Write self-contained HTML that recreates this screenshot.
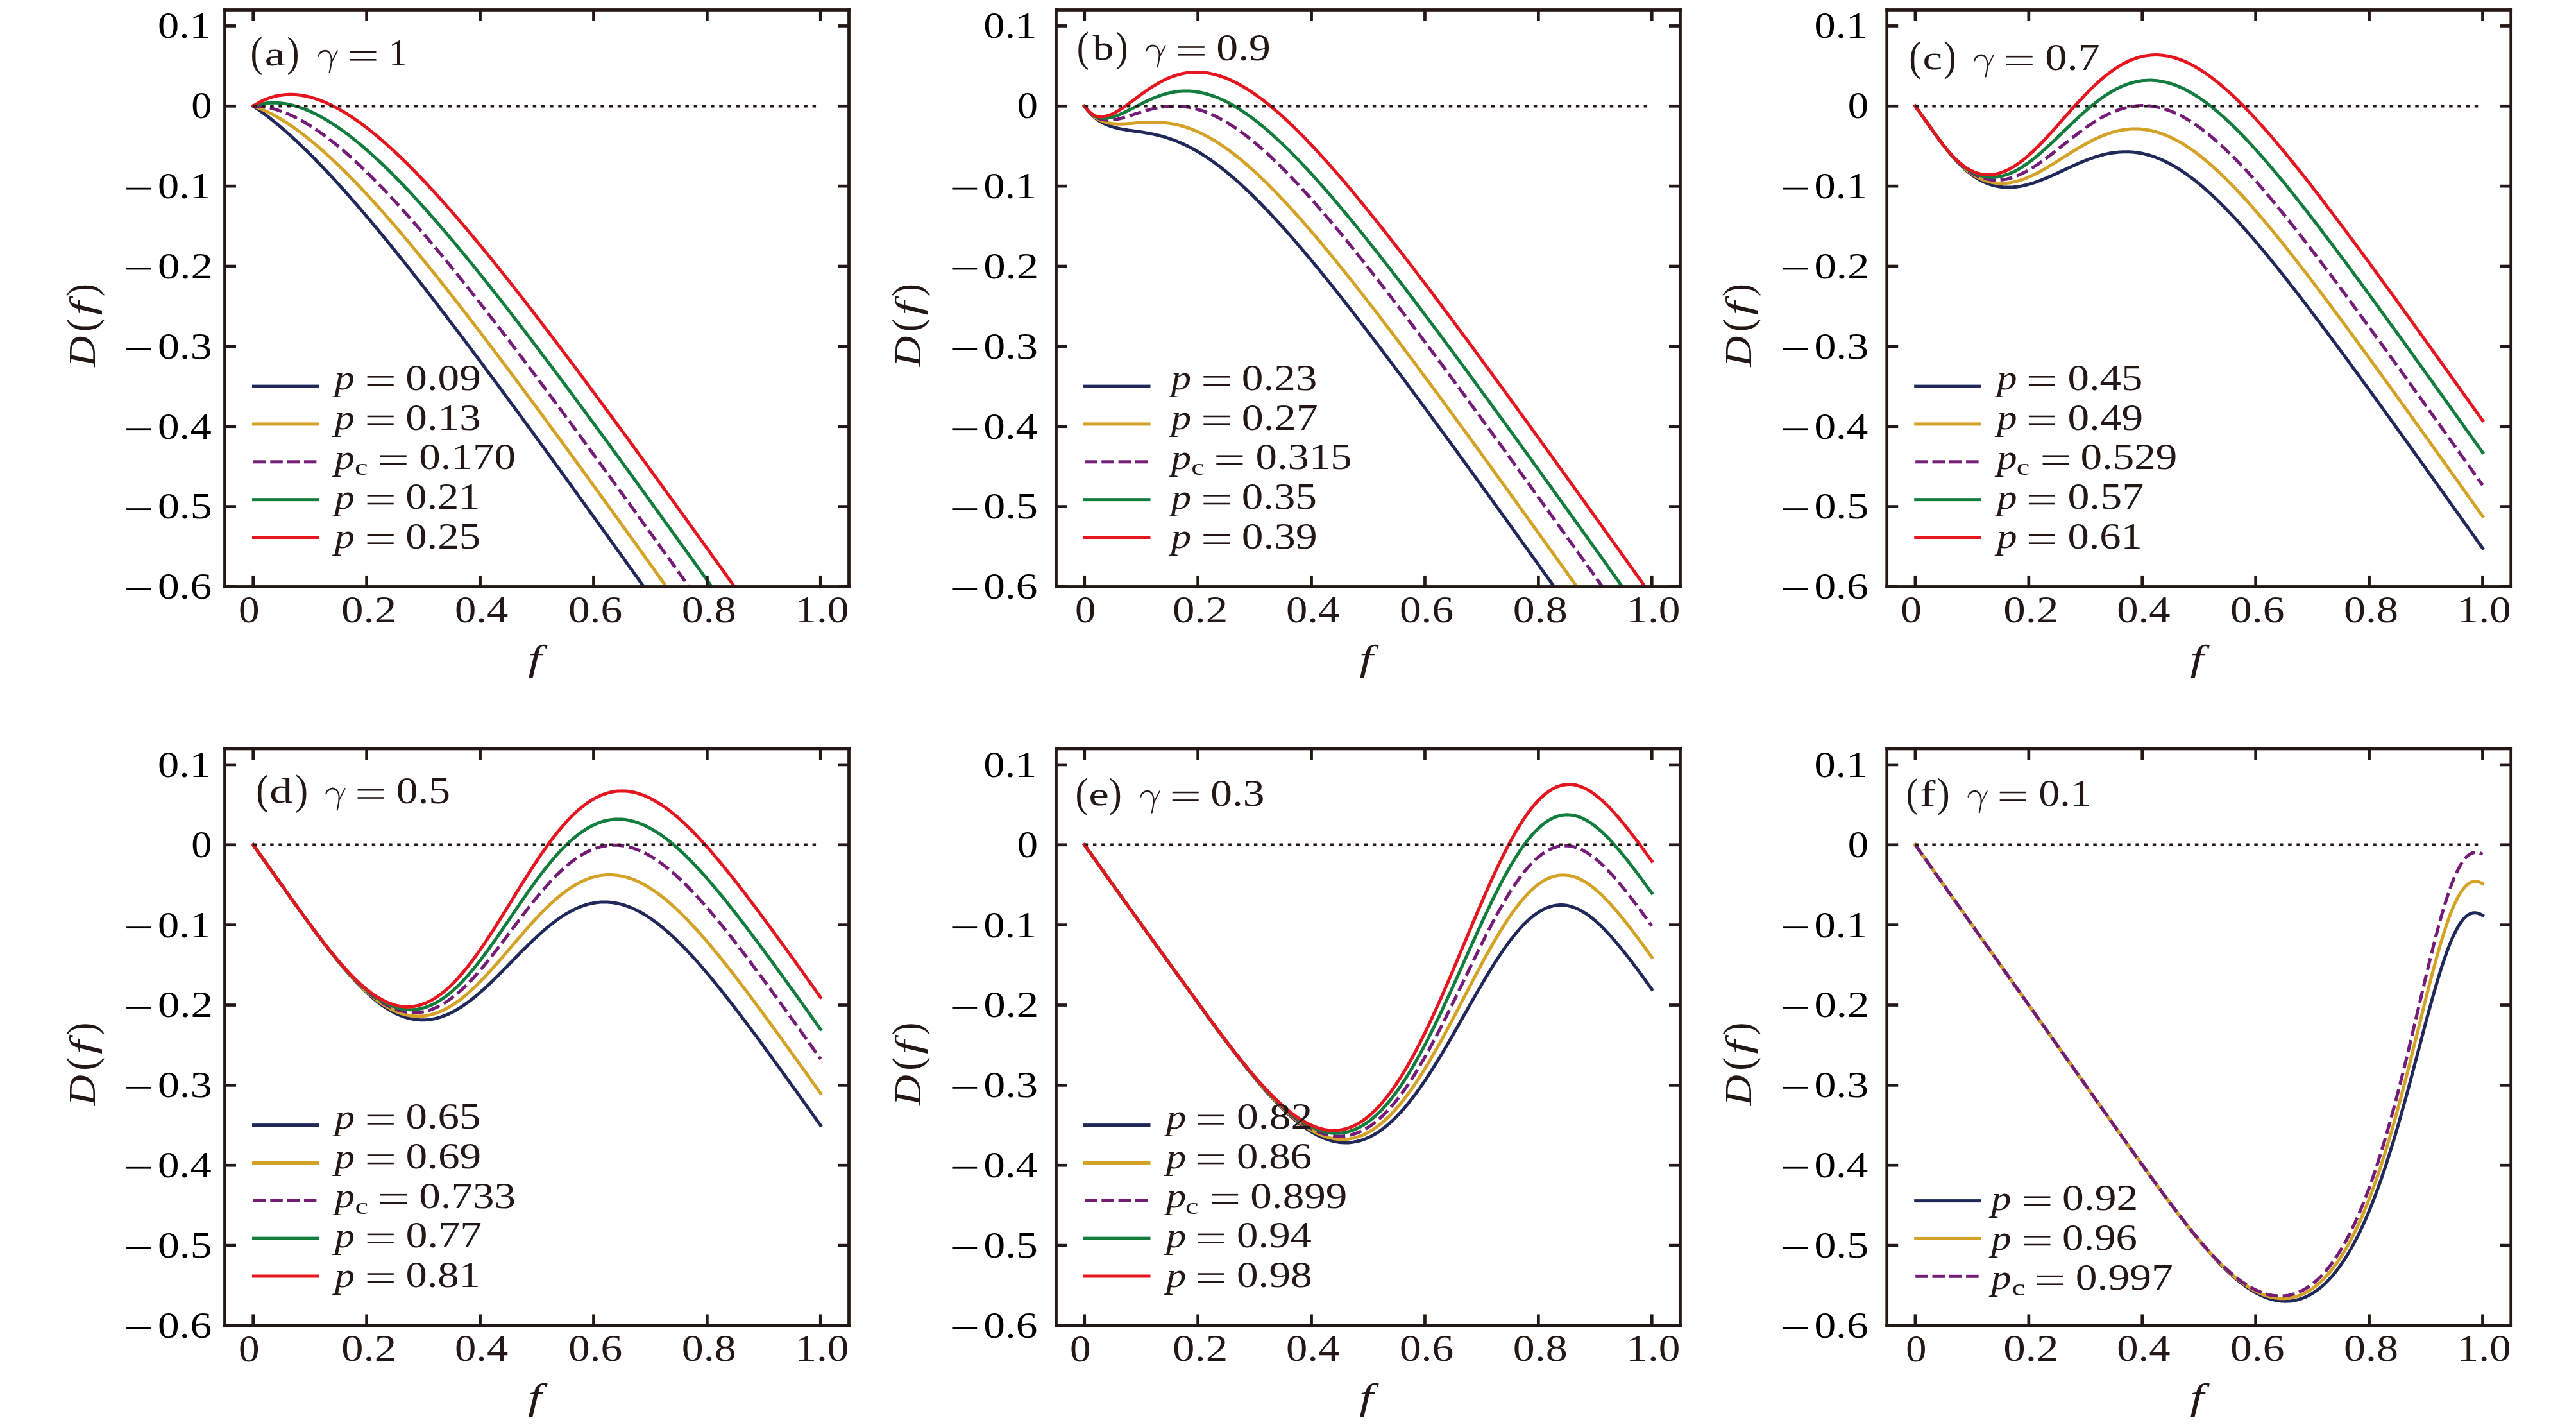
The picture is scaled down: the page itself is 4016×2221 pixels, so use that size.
<!DOCTYPE html>
<html><head><meta charset="utf-8"><title>D(f) panels</title>
<style>html,body{margin:0;padding:0;background:#fff;}svg{display:block;}
text{font-family:"Liberation Serif",serif;font-kerning:none;}
svg{-webkit-font-smoothing:antialiased;}</style></head>
<body><svg xmlns="http://www.w3.org/2000/svg" width="4016" height="2221" viewBox="0 0 4016 2221">
<rect width="4016" height="2221" fill="#fff"/>
<defs><clipPath id="clipa"><rect x="350.50" y="15.45" width="973.00" height="899.00"/></clipPath><clipPath id="clipb"><rect x="1646.50" y="15.45" width="973.00" height="899.00"/></clipPath><clipPath id="clipc"><rect x="2941.70" y="15.45" width="973.00" height="899.00"/></clipPath><clipPath id="clipd"><rect x="350.50" y="1166.95" width="973.00" height="899.00"/></clipPath><clipPath id="clipe"><rect x="1646.50" y="1166.95" width="973.00" height="899.00"/></clipPath><clipPath id="clipf"><rect x="2941.70" y="1166.95" width="973.00" height="899.00"/></clipPath><filter id="gs" x="0" y="0" width="1" height="1"><feOffset dx="0" dy="0"/></filter></defs>
<g clip-path="url(#clipa)"><polyline points="394.7,165.3 395.6,165.9 397.5,167.1 399.3,168.4 401.2,169.7 403.1,171.0 404.9,172.3 406.8,173.7 408.7,175.0 410.6,176.4 412.4,177.8 414.6,179.4 416.8,181.1 419.1,182.8 421.3,184.6 423.5,186.3 425.7,188.1 427.9,189.9 430.1,191.7 432.3,193.5 434.5,195.3 436.7,197.2 439.0,199.1 441.2,201.0 443.4,202.9 445.6,204.8 447.8,206.8 450.0,208.8 452.2,210.7 454.4,212.7 456.6,214.8 458.9,216.8 461.1,218.8 463.3,220.9 465.5,223.0 467.7,225.1 469.9,227.2 472.1,229.3 474.3,231.5 476.5,233.6 478.8,235.8 481.0,238.0 483.2,240.2 485.4,242.4 487.6,244.6 489.8,246.8 492.0,249.1 494.2,251.4 496.4,253.6 498.7,255.9 500.9,258.2 503.1,260.5 505.3,262.9 507.5,265.2 509.7,267.5 511.9,269.9 514.1,272.3 516.4,274.6 518.6,277.0 520.8,279.4 523.0,281.8 525.2,284.3 527.4,286.7 529.6,289.1 531.8,291.6 534.0,294.1 536.3,296.5 538.5,299.0 540.7,301.5 542.9,304.0 545.1,306.5 547.3,309.0 549.5,311.6 551.7,314.1 553.9,316.6 556.2,319.2 558.4,321.8 560.6,324.3 562.8,326.9 565.0,329.5 567.2,332.1 569.4,334.7 571.6,337.3 573.8,339.9 576.1,342.5 578.3,345.2 580.5,347.8 582.7,350.4 584.9,353.1 587.1,355.7 589.3,358.4 591.5,361.1 593.8,363.8 596.0,366.4 598.2,369.1 600.4,371.8 602.6,374.5 604.8,377.2 607.0,380.0 609.2,382.7 611.4,385.4 613.7,388.1 615.9,390.9 618.1,393.6 620.3,396.4 622.5,399.1 624.7,401.9 626.9,404.7 629.1,407.4 631.3,410.2 633.6,413.0 635.8,415.8 638.0,418.6 640.2,421.4 642.4,424.2 644.6,427.0 646.8,429.8 649.0,432.6 651.2,435.4 653.5,438.2 655.7,441.1 657.9,443.9 660.1,446.7 662.3,449.6 664.5,452.4 666.7,455.3 668.9,458.1 671.1,461.0 673.4,463.8 675.6,466.7 677.8,469.6 680.0,472.4 682.2,475.3 684.4,478.2 686.6,481.1 688.8,484.0 691.0,486.9 693.3,489.7 695.5,492.6 697.7,495.5 699.9,498.4 702.1,501.4 704.3,504.3 706.5,507.2 708.7,510.1 711.0,513.0 713.2,515.9 715.4,518.9 717.6,521.8 719.8,524.7 722.0,527.6 724.2,530.6 726.4,533.5 728.6,536.5 730.9,539.4 733.1,542.3 735.3,545.3 737.5,548.2 739.7,551.2 741.9,554.2 744.1,557.1 746.3,560.1 748.5,563.0 750.8,566.0 753.0,569.0 755.2,571.9 757.4,574.9 759.6,577.9 761.8,580.9 764.0,583.8 766.2,586.8 768.4,589.8 770.7,592.8 772.9,595.8 775.1,598.8 777.3,601.8 779.5,604.8 781.7,607.7 783.9,610.7 786.1,613.7 788.3,616.7 790.6,619.7 792.8,622.7 795.0,625.8 797.2,628.8 799.4,631.8 801.6,634.8 803.8,637.8 806.0,640.8 808.3,643.8 810.5,646.8 812.7,649.9 814.9,652.9 817.1,655.9 819.3,658.9 821.5,661.9 823.7,665.0 825.9,668.0 828.2,671.0 830.4,674.1 832.6,677.1 834.8,680.1 837.0,683.1 839.2,686.2 841.4,689.2 843.6,692.3 845.8,695.3 848.1,698.3 850.3,701.4 852.5,704.4 854.7,707.5 856.9,710.5 859.1,713.6 861.3,716.6 863.5,719.6 865.7,722.7 868.0,725.7 870.2,728.8 872.4,731.8 874.6,734.9 876.8,738.0 879.0,741.0 881.2,744.1 883.4,747.1 885.6,750.2 887.9,753.2 890.1,756.3 892.3,759.4 894.5,762.4 896.7,765.5 898.9,768.5 901.1,771.6 903.3,774.7 905.6,777.7 907.8,780.8 910.0,783.9 912.2,786.9 914.4,790.0 916.6,793.1 918.8,796.2 921.0,799.2 923.2,802.3 925.5,805.4 927.7,808.4 929.9,811.5 932.1,814.6 934.3,817.7 936.5,820.7 938.7,823.8 940.9,826.9 943.1,830.0 945.4,833.1 947.6,836.1 949.8,839.2 952.0,842.3 954.2,845.4 956.4,848.5 958.6,851.5 960.8,854.6 963.0,857.7 965.3,860.8 967.5,863.9 969.7,867.0 971.9,870.0 974.1,873.1 976.3,876.2 978.5,879.3 980.7,882.4 982.9,885.5 985.2,888.6 987.4,891.7 989.6,894.8 991.8,897.8 994.0,900.9 996.2,904.0 998.4,907.1 1000.6,910.2 1002.9,913.3 1005.1,916.4 1007.3,919.5 1009.5,922.6 1011.7,925.7 1013.9,928.8 1016.1,931.9 1018.3,935.0 1020.5,938.1 1022.8,941.1 1025.0,944.2 1027.2,947.3 1029.4,950.4 1031.6,953.5" fill="none" stroke="#20295a" stroke-width="5" stroke-linejoin="round" stroke-linecap="square"/><polyline points="394.7,165.3 395.6,165.6 397.5,166.2 399.3,166.9 401.2,167.6 403.1,168.3 404.9,169.0 406.8,169.8 408.7,170.6 410.6,171.4 412.4,172.2 414.6,173.3 416.8,174.3 419.1,175.4 421.3,176.5 423.5,177.6 425.7,178.8 427.9,180.0 430.1,181.2 432.3,182.4 434.5,183.7 436.7,185.0 439.0,186.4 441.2,187.7 443.4,189.1 445.6,190.5 447.8,191.9 450.0,193.4 452.2,194.9 454.4,196.4 456.6,197.9 458.9,199.5 461.1,201.0 463.3,202.6 465.5,204.2 467.7,205.9 469.9,207.5 472.1,209.2 474.3,210.9 476.5,212.7 478.8,214.4 481.0,216.2 483.2,218.0 485.4,219.8 487.6,221.6 489.8,223.4 492.0,225.3 494.2,227.2 496.4,229.1 498.7,231.0 500.9,232.9 503.1,234.9 505.3,236.9 507.5,238.8 509.7,240.8 511.9,242.9 514.1,244.9 516.4,246.9 518.6,249.0 520.8,251.1 523.0,253.2 525.2,255.3 527.4,257.4 529.6,259.6 531.8,261.7 534.0,263.9 536.3,266.1 538.5,268.3 540.7,270.5 542.9,272.7 545.1,274.9 547.3,277.2 549.5,279.5 551.7,281.7 553.9,284.0 556.2,286.3 558.4,288.6 560.6,291.0 562.8,293.3 565.0,295.6 567.2,298.0 569.4,300.4 571.6,302.7 573.8,305.1 576.1,307.5 578.3,309.9 580.5,312.4 582.7,314.8 584.9,317.2 587.1,319.7 589.3,322.2 591.5,324.6 593.8,327.1 596.0,329.6 598.2,332.1 600.4,334.6 602.6,337.1 604.8,339.7 607.0,342.2 609.2,344.7 611.4,347.3 613.7,349.8 615.9,352.4 618.1,355.0 620.3,357.6 622.5,360.2 624.7,362.8 626.9,365.4 629.1,368.0 631.3,370.6 633.6,373.2 635.8,375.9 638.0,378.5 640.2,381.2 642.4,383.8 644.6,386.5 646.8,389.2 649.0,391.9 651.2,394.5 653.5,397.2 655.7,399.9 657.9,402.6 660.1,405.3 662.3,408.1 664.5,410.8 666.7,413.5 668.9,416.2 671.1,419.0 673.4,421.7 675.6,424.5 677.8,427.2 680.0,430.0 682.2,432.8 684.4,435.5 686.6,438.3 688.8,441.1 691.0,443.9 693.3,446.7 695.5,449.5 697.7,452.3 699.9,455.1 702.1,457.9 704.3,460.7 706.5,463.5 708.7,466.3 711.0,469.2 713.2,472.0 715.4,474.8 717.6,477.7 719.8,480.5 722.0,483.4 724.2,486.2 726.4,489.1 728.6,491.9 730.9,494.8 733.1,497.7 735.3,500.5 737.5,503.4 739.7,506.3 741.9,509.2 744.1,512.1 746.3,515.0 748.5,517.8 750.8,520.7 753.0,523.6 755.2,526.5 757.4,529.4 759.6,532.4 761.8,535.3 764.0,538.2 766.2,541.1 768.4,544.0 770.7,546.9 772.9,549.9 775.1,552.8 777.3,555.7 779.5,558.7 781.7,561.6 783.9,564.6 786.1,567.5 788.3,570.4 790.6,573.4 792.8,576.3 795.0,579.3 797.2,582.3 799.4,585.2 801.6,588.2 803.8,591.1 806.0,594.1 808.3,597.1 810.5,600.0 812.7,603.0 814.9,606.0 817.1,609.0 819.3,611.9 821.5,614.9 823.7,617.9 825.9,620.9 828.2,623.9 830.4,626.9 832.6,629.9 834.8,632.8 837.0,635.8 839.2,638.8 841.4,641.8 843.6,644.8 845.8,647.8 848.1,650.8 850.3,653.8 852.5,656.9 854.7,659.9 856.9,662.9 859.1,665.9 861.3,668.9 863.5,671.9 865.7,674.9 868.0,677.9 870.2,681.0 872.4,684.0 874.6,687.0 876.8,690.0 879.0,693.1 881.2,696.1 883.4,699.1 885.6,702.1 887.9,705.2 890.1,708.2 892.3,711.2 894.5,714.3 896.7,717.3 898.9,720.4 901.1,723.4 903.3,726.4 905.6,729.5 907.8,732.5 910.0,735.6 912.2,738.6 914.4,741.6 916.6,744.7 918.8,747.7 921.0,750.8 923.2,753.8 925.5,756.9 927.7,759.9 929.9,763.0 932.1,766.0 934.3,769.1 936.5,772.2 938.7,775.2 940.9,778.3 943.1,781.3 945.4,784.4 947.6,787.5 949.8,790.5 952.0,793.6 954.2,796.6 956.4,799.7 958.6,802.8 960.8,805.8 963.0,808.9 965.3,812.0 967.5,815.0 969.7,818.1 971.9,821.2 974.1,824.2 976.3,827.3 978.5,830.4 980.7,833.5 982.9,836.5 985.2,839.6 987.4,842.7 989.6,845.8 991.8,848.8 994.0,851.9 996.2,855.0 998.4,858.1 1000.6,861.1 1002.9,864.2 1005.1,867.3 1007.3,870.4 1009.5,873.5 1011.7,876.6 1013.9,879.6 1016.1,882.7 1018.3,885.8 1020.5,888.9 1022.8,892.0 1025.0,895.1 1027.2,898.1 1029.4,901.2 1031.6,904.3 1033.8,907.4 1036.0,910.5 1038.2,913.6 1040.4,916.7 1042.7,919.8 1044.9,922.8 1047.1,925.9 1049.3,929.0 1051.5,932.1 1053.7,935.2 1055.9,938.3 1058.1,941.4 1060.3,944.5 1062.6,947.6 1064.8,950.7 1067.0,953.8" fill="none" stroke="#d3a226" stroke-width="5" stroke-linejoin="round" stroke-linecap="square"/><polyline points="394.7,165.3 395.6,165.3 397.5,165.3 399.3,165.4 401.2,165.5 403.1,165.6 404.9,165.8 406.8,166.0 408.7,166.2 410.6,166.4 412.4,166.7 414.6,167.1 416.8,167.5 419.1,167.9 421.3,168.4 423.5,168.9 425.7,169.5 427.9,170.1 430.1,170.7 432.3,171.4 434.5,172.1 436.7,172.8 439.0,173.6 441.2,174.4 443.4,175.3 445.6,176.2 447.8,177.1 450.0,178.0 452.2,179.0 454.4,180.0 456.6,181.0 458.9,182.1 461.1,183.2 463.3,184.3 465.5,185.5 467.7,186.7 469.9,187.9 472.1,189.1 474.3,190.4 476.5,191.7 478.8,193.0 481.0,194.4 483.2,195.8 485.4,197.2 487.6,198.6 489.8,200.0 492.0,201.5 494.2,203.0 496.4,204.5 498.7,206.1 500.9,207.6 503.1,209.2 505.3,210.8 507.5,212.5 509.7,214.1 511.9,215.8 514.1,217.5 516.4,219.2 518.6,221.0 520.8,222.7 523.0,224.5 525.2,226.3 527.4,228.1 529.6,230.0 531.8,231.8 534.0,233.7 536.3,235.6 538.5,237.5 540.7,239.5 542.9,241.4 545.1,243.4 547.3,245.4 549.5,247.4 551.7,249.4 553.9,251.4 556.2,253.4 558.4,255.5 560.6,257.6 562.8,259.7 565.0,261.8 567.2,263.9 569.4,266.0 571.6,268.2 573.8,270.4 576.1,272.5 578.3,274.7 580.5,276.9 582.7,279.2 584.9,281.4 587.1,283.6 589.3,285.9 591.5,288.2 593.8,290.5 596.0,292.8 598.2,295.1 600.4,297.4 602.6,299.7 604.8,302.1 607.0,304.4 609.2,306.8 611.4,309.2 613.7,311.5 615.9,313.9 618.1,316.4 620.3,318.8 622.5,321.2 624.7,323.6 626.9,326.1 629.1,328.6 631.3,331.0 633.6,333.5 635.8,336.0 638.0,338.5 640.2,341.0 642.4,343.5 644.6,346.0 646.8,348.6 649.0,351.1 651.2,353.7 653.5,356.2 655.7,358.8 657.9,361.4 660.1,364.0 662.3,366.5 664.5,369.1 666.7,371.7 668.9,374.4 671.1,377.0 673.4,379.6 675.6,382.2 677.8,384.9 680.0,387.5 682.2,390.2 684.4,392.9 686.6,395.5 688.8,398.2 691.0,400.9 693.3,403.6 695.5,406.3 697.7,409.0 699.9,411.7 702.1,414.4 704.3,417.1 706.5,419.8 708.7,422.6 711.0,425.3 713.2,428.1 715.4,430.8 717.6,433.6 719.8,436.3 722.0,439.1 724.2,441.9 726.4,444.6 728.6,447.4 730.9,450.2 733.1,453.0 735.3,455.8 737.5,458.6 739.7,461.4 741.9,464.2 744.1,467.0 746.3,469.8 748.5,472.6 750.8,475.5 753.0,478.3 755.2,481.1 757.4,484.0 759.6,486.8 761.8,489.7 764.0,492.5 766.2,495.4 768.4,498.2 770.7,501.1 772.9,504.0 775.1,506.8 777.3,509.7 779.5,512.6 781.7,515.5 783.9,518.4 786.1,521.2 788.3,524.1 790.6,527.0 792.8,529.9 795.0,532.8 797.2,535.7 799.4,538.7 801.6,541.6 803.8,544.5 806.0,547.4 808.3,550.3 810.5,553.2 812.7,556.2 814.9,559.1 817.1,562.0 819.3,565.0 821.5,567.9 823.7,570.8 825.9,573.8 828.2,576.7 830.4,579.7 832.6,582.6 834.8,585.6 837.0,588.5 839.2,591.5 841.4,594.5 843.6,597.4 845.8,600.4 848.1,603.3 850.3,606.3 852.5,609.3 854.7,612.3 856.9,615.2 859.1,618.2 861.3,621.2 863.5,624.2 865.7,627.2 868.0,630.1 870.2,633.1 872.4,636.1 874.6,639.1 876.8,642.1 879.0,645.1 881.2,648.1 883.4,651.1 885.6,654.1 887.9,657.1 890.1,660.1 892.3,663.1 894.5,666.1 896.7,669.1 898.9,672.2 901.1,675.2 903.3,678.2 905.6,681.2 907.8,684.2 910.0,687.2 912.2,690.3 914.4,693.3 916.6,696.3 918.8,699.3 921.0,702.4 923.2,705.4 925.5,708.4 927.7,711.4 929.9,714.5 932.1,717.5 934.3,720.5 936.5,723.6 938.7,726.6 940.9,729.7 943.1,732.7 945.4,735.7 947.6,738.8 949.8,741.8 952.0,744.9 954.2,747.9 956.4,751.0 958.6,754.0 960.8,757.0 963.0,760.1 965.3,763.2 967.5,766.2 969.7,769.3 971.9,772.3 974.1,775.4 976.3,778.4 978.5,781.5 980.7,784.5 982.9,787.6 985.2,790.7 987.4,793.7 989.6,796.8 991.8,799.8 994.0,802.9 996.2,806.0 998.4,809.0 1000.6,812.1 1002.9,815.2 1005.1,818.2 1007.3,821.3 1009.5,824.4 1011.7,827.4 1013.9,830.5 1016.1,833.6 1018.3,836.6 1020.5,839.7 1022.8,842.8 1025.0,845.9 1027.2,848.9 1029.4,852.0 1031.6,855.1 1033.8,858.2 1036.0,861.2 1038.2,864.3 1040.4,867.4 1042.7,870.5 1044.9,873.6 1047.1,876.6 1049.3,879.7 1051.5,882.8 1053.7,885.9 1055.9,889.0 1058.1,892.1 1060.3,895.1 1062.6,898.2 1064.8,901.3 1067.0,904.4 1069.2,907.5 1071.4,910.6 1073.6,913.7 1075.8,916.7 1078.0,919.8 1080.2,922.9 1082.5,926.0 1084.7,929.1 1086.9,932.2 1089.1,935.3 1091.3,938.4 1093.5,941.5 1095.7,944.5 1097.9,947.6 1100.2,950.7 1102.4,953.8" fill="none" stroke="#741c78" stroke-width="5" stroke-linejoin="round" stroke-dasharray="19 7.3"/><polyline points="394.7,165.3 395.6,165.0 397.5,164.4 399.3,163.9 401.2,163.4 403.1,162.9 404.9,162.5 406.8,162.1 408.7,161.7 410.6,161.4 412.4,161.2 414.6,160.9 416.8,160.6 419.1,160.5 421.3,160.3 423.5,160.2 425.7,160.2 427.9,160.2 430.1,160.3 432.3,160.3 434.5,160.5 436.7,160.7 439.0,160.9 441.2,161.2 443.4,161.5 445.6,161.8 447.8,162.2 450.0,162.7 452.2,163.1 454.4,163.6 456.6,164.2 458.9,164.8 461.1,165.4 463.3,166.1 465.5,166.7 467.7,167.5 469.9,168.2 472.1,169.0 474.3,169.9 476.5,170.7 478.8,171.6 481.0,172.6 483.2,173.5 485.4,174.5 487.6,175.6 489.8,176.6 492.0,177.7 494.2,178.8 496.4,180.0 498.7,181.1 500.9,182.4 503.1,183.6 505.3,184.8 507.5,186.1 509.7,187.4 511.9,188.8 514.1,190.2 516.4,191.5 518.6,193.0 520.8,194.4 523.0,195.9 525.2,197.4 527.4,198.9 529.6,200.4 531.8,202.0 534.0,203.6 536.3,205.2 538.5,206.8 540.7,208.4 542.9,210.1 545.1,211.8 547.3,213.5 549.5,215.2 551.7,217.0 553.9,218.8 556.2,220.6 558.4,222.4 560.6,224.2 562.8,226.1 565.0,227.9 567.2,229.8 569.4,231.7 571.6,233.7 573.8,235.6 576.1,237.6 578.3,239.5 580.5,241.5 582.7,243.5 584.9,245.6 587.1,247.6 589.3,249.7 591.5,251.7 593.8,253.8 596.0,255.9 598.2,258.0 600.4,260.2 602.6,262.3 604.8,264.5 607.0,266.6 609.2,268.8 611.4,271.0 613.7,273.3 615.9,275.5 618.1,277.7 620.3,280.0 622.5,282.2 624.7,284.5 626.9,286.8 629.1,289.1 631.3,291.4 633.6,293.8 635.8,296.1 638.0,298.5 640.2,300.8 642.4,303.2 644.6,305.6 646.8,308.0 649.0,310.4 651.2,312.8 653.5,315.2 655.7,317.7 657.9,320.1 660.1,322.6 662.3,325.0 664.5,327.5 666.7,330.0 668.9,332.5 671.1,335.0 673.4,337.5 675.6,340.0 677.8,342.5 680.0,345.1 682.2,347.6 684.4,350.2 686.6,352.8 688.8,355.3 691.0,357.9 693.3,360.5 695.5,363.1 697.7,365.7 699.9,368.3 702.1,370.9 704.3,373.5 706.5,376.2 708.7,378.8 711.0,381.5 713.2,384.1 715.4,386.8 717.6,389.5 719.8,392.1 722.0,394.8 724.2,397.5 726.4,400.2 728.6,402.9 730.9,405.6 733.1,408.3 735.3,411.0 737.5,413.7 739.7,416.5 741.9,419.2 744.1,422.0 746.3,424.7 748.5,427.5 750.8,430.2 753.0,433.0 755.2,435.7 757.4,438.5 759.6,441.3 761.8,444.1 764.0,446.9 766.2,449.7 768.4,452.5 770.7,455.3 772.9,458.1 775.1,460.9 777.3,463.7 779.5,466.5 781.7,469.3 783.9,472.2 786.1,475.0 788.3,477.8 790.6,480.7 792.8,483.5 795.0,486.4 797.2,489.2 799.4,492.1 801.6,495.0 803.8,497.8 806.0,500.7 808.3,503.6 810.5,506.4 812.7,509.3 814.9,512.2 817.1,515.1 819.3,518.0 821.5,520.9 823.7,523.8 825.9,526.7 828.2,529.6 830.4,532.5 832.6,535.4 834.8,538.3 837.0,541.2 839.2,544.1 841.4,547.1 843.6,550.0 845.8,552.9 848.1,555.9 850.3,558.8 852.5,561.7 854.7,564.7 856.9,567.6 859.1,570.5 861.3,573.5 863.5,576.4 865.7,579.4 868.0,582.4 870.2,585.3 872.4,588.3 874.6,591.2 876.8,594.2 879.0,597.2 881.2,600.1 883.4,603.1 885.6,606.1 887.9,609.0 890.1,612.0 892.3,615.0 894.5,618.0 896.7,621.0 898.9,624.0 901.1,626.9 903.3,629.9 905.6,632.9 907.8,635.9 910.0,638.9 912.2,641.9 914.4,644.9 916.6,647.9 918.8,650.9 921.0,653.9 923.2,656.9 925.5,659.9 927.7,662.9 929.9,666.0 932.1,669.0 934.3,672.0 936.5,675.0 938.7,678.0 940.9,681.0 943.1,684.0 945.4,687.1 947.6,690.1 949.8,693.1 952.0,696.1 954.2,699.2 956.4,702.2 958.6,705.2 960.8,708.3 963.0,711.3 965.3,714.3 967.5,717.4 969.7,720.4 971.9,723.4 974.1,726.5 976.3,729.5 978.5,732.6 980.7,735.6 982.9,738.6 985.2,741.7 987.4,744.7 989.6,747.8 991.8,750.8 994.0,753.9 996.2,756.9 998.4,760.0 1000.6,763.0 1002.9,766.1 1005.1,769.1 1007.3,772.2 1009.5,775.3 1011.7,778.3 1013.9,781.4 1016.1,784.4 1018.3,787.5 1020.5,790.6 1022.8,793.6 1025.0,796.7 1027.2,799.7 1029.4,802.8 1031.6,805.9 1033.8,808.9 1036.0,812.0 1038.2,815.1 1040.4,818.1 1042.7,821.2 1044.9,824.3 1047.1,827.4 1049.3,830.4 1051.5,833.5 1053.7,836.6 1055.9,839.6 1058.1,842.7 1060.3,845.8 1062.6,848.9 1064.8,851.9 1067.0,855.0 1069.2,858.1 1071.4,861.2 1073.6,864.3 1075.8,867.3 1078.0,870.4 1080.2,873.5 1082.5,876.6 1084.7,879.7 1086.9,882.7 1089.1,885.8 1091.3,888.9 1093.5,892.0 1095.7,895.1 1097.9,898.2 1100.2,901.2 1102.4,904.3 1104.6,907.4 1106.8,910.5 1109.0,913.6 1111.2,916.7 1113.4,919.8 1115.6,922.9 1117.8,926.0 1120.1,929.0 1122.3,932.1 1124.5,935.2 1126.7,938.3 1128.9,941.4 1131.1,944.5 1133.3,947.6 1135.5,950.7 1137.7,953.8" fill="none" stroke="#127d3d" stroke-width="5" stroke-linejoin="round" stroke-linecap="square"/><polyline points="394.7,165.3 395.6,164.7 397.5,163.5 399.3,162.4 401.2,161.3 403.1,160.2 404.9,159.2 406.8,158.2 408.7,157.3 410.6,156.4 412.4,155.6 414.6,154.7 416.8,153.8 419.1,153.0 421.3,152.2 423.5,151.5 425.7,150.9 427.9,150.3 430.1,149.8 432.3,149.3 434.5,148.9 436.7,148.5 439.0,148.2 441.2,147.9 443.4,147.7 445.6,147.5 447.8,147.4 450.0,147.3 452.2,147.3 454.4,147.3 456.6,147.3 458.9,147.4 461.1,147.6 463.3,147.8 465.5,148.0 467.7,148.3 469.9,148.6 472.1,149.0 474.3,149.3 476.5,149.8 478.8,150.3 481.0,150.8 483.2,151.3 485.4,151.9 487.6,152.6 489.8,153.2 492.0,153.9 494.2,154.7 496.4,155.4 498.7,156.2 500.9,157.1 503.1,157.9 505.3,158.8 507.5,159.8 509.7,160.7 511.9,161.7 514.1,162.8 516.4,163.8 518.6,164.9 520.8,166.1 523.0,167.2 525.2,168.4 527.4,169.6 529.6,170.8 531.8,172.1 534.0,173.4 536.3,174.7 538.5,176.0 540.7,177.4 542.9,178.8 545.1,180.2 547.3,181.7 549.5,183.1 551.7,184.6 553.9,186.2 556.2,187.7 558.4,189.3 560.6,190.8 562.8,192.5 565.0,194.1 567.2,195.7 569.4,197.4 571.6,199.1 573.8,200.8 576.1,202.6 578.3,204.3 580.5,206.1 582.7,207.9 584.9,209.7 587.1,211.5 589.3,213.4 591.5,215.3 593.8,217.2 596.0,219.1 598.2,221.0 600.4,222.9 602.6,224.9 604.8,226.9 607.0,228.9 609.2,230.9 611.4,232.9 613.7,235.0 615.9,237.0 618.1,239.1 620.3,241.2 622.5,243.3 624.7,245.4 626.9,247.5 629.1,249.7 631.3,251.8 633.6,254.0 635.8,256.2 638.0,258.4 640.2,260.6 642.4,262.9 644.6,265.1 646.8,267.4 649.0,269.6 651.2,271.9 653.5,274.2 655.7,276.5 657.9,278.8 660.1,281.2 662.3,283.5 664.5,285.9 666.7,288.2 668.9,290.6 671.1,293.0 673.4,295.4 675.6,297.8 677.8,300.2 680.0,302.6 682.2,305.1 684.4,307.5 686.6,310.0 688.8,312.4 691.0,314.9 693.3,317.4 695.5,319.9 697.7,322.4 699.9,324.9 702.1,327.4 704.3,330.0 706.5,332.5 708.7,335.1 711.0,337.6 713.2,340.2 715.4,342.8 717.6,345.3 719.8,347.9 722.0,350.5 724.2,353.1 726.4,355.7 728.6,358.4 730.9,361.0 733.1,363.6 735.3,366.3 737.5,368.9 739.7,371.6 741.9,374.2 744.1,376.9 746.3,379.6 748.5,382.3 750.8,384.9 753.0,387.6 755.2,390.3 757.4,393.0 759.6,395.8 761.8,398.5 764.0,401.2 766.2,403.9 768.4,406.7 770.7,409.4 772.9,412.2 775.1,414.9 777.3,417.7 779.5,420.4 781.7,423.2 783.9,426.0 786.1,428.8 788.3,431.5 790.6,434.3 792.8,437.1 795.0,439.9 797.2,442.7 799.4,445.5 801.6,448.3 803.8,451.2 806.0,454.0 808.3,456.8 810.5,459.6 812.7,462.5 814.9,465.3 817.1,468.2 819.3,471.0 821.5,473.9 823.7,476.7 825.9,479.6 828.2,482.4 830.4,485.3 832.6,488.2 834.8,491.0 837.0,493.9 839.2,496.8 841.4,499.7 843.6,502.6 845.8,505.5 848.1,508.4 850.3,511.3 852.5,514.2 854.7,517.1 856.9,520.0 859.1,522.9 861.3,525.8 863.5,528.7 865.7,531.6 868.0,534.6 870.2,537.5 872.4,540.4 874.6,543.3 876.8,546.3 879.0,549.2 881.2,552.1 883.4,555.1 885.6,558.0 887.9,561.0 890.1,563.9 892.3,566.9 894.5,569.8 896.7,572.8 898.9,575.8 901.1,578.7 903.3,581.7 905.6,584.7 907.8,587.6 910.0,590.6 912.2,593.6 914.4,596.5 916.6,599.5 918.8,602.5 921.0,605.5 923.2,608.5 925.5,611.5 927.7,614.4 929.9,617.4 932.1,620.4 934.3,623.4 936.5,626.4 938.7,629.4 940.9,632.4 943.1,635.4 945.4,638.4 947.6,641.4 949.8,644.4 952.0,647.4 954.2,650.4 956.4,653.4 958.6,656.5 960.8,659.5 963.0,662.5 965.3,665.5 967.5,668.5 969.7,671.5 971.9,674.6 974.1,677.6 976.3,680.6 978.5,683.6 980.7,686.7 982.9,689.7 985.2,692.7 987.4,695.8 989.6,698.8 991.8,701.8 994.0,704.9 996.2,707.9 998.4,710.9 1000.6,714.0 1002.9,717.0 1005.1,720.1 1007.3,723.1 1009.5,726.1 1011.7,729.2 1013.9,732.2 1016.1,735.3 1018.3,738.3 1020.5,741.4 1022.8,744.4 1025.0,747.5 1027.2,750.5 1029.4,753.6 1031.6,756.6 1033.8,759.7 1036.0,762.8 1038.2,765.8 1040.4,768.9 1042.7,771.9 1044.9,775.0 1047.1,778.1 1049.3,781.1 1051.5,784.2 1053.7,787.2 1055.9,790.3 1058.1,793.4 1060.3,796.4 1062.6,799.5 1064.8,802.6 1067.0,805.6 1069.2,808.7 1071.4,811.8 1073.6,814.9 1075.8,817.9 1078.0,821.0 1080.2,824.1 1082.5,827.1 1084.7,830.2 1086.9,833.3 1089.1,836.4 1091.3,839.4 1093.5,842.5 1095.7,845.6 1097.9,848.7 1100.2,851.8 1102.4,854.8 1104.6,857.9 1106.8,861.0 1109.0,864.1 1111.2,867.2 1113.4,870.2 1115.6,873.3 1117.8,876.4 1120.1,879.5 1122.3,882.6 1124.5,885.7 1126.7,888.8 1128.9,891.8 1131.1,894.9 1133.3,898.0 1135.5,901.1 1137.7,904.2 1140.0,907.3 1142.2,910.4 1144.4,913.5 1146.6,916.6 1148.8,919.6 1151.0,922.7 1153.2,925.8 1155.4,928.9 1157.6,932.0 1159.9,935.1 1162.1,938.2 1164.3,941.3 1166.5,944.4 1168.7,947.5 1170.9,950.6 1173.1,953.7" fill="none" stroke="#e5161f" stroke-width="5" stroke-linejoin="round" stroke-linecap="square"/><line x1="394.73" y1="165.28" x2="1279.27" y2="165.28" stroke="#231815" stroke-width="4.6" stroke-dasharray="5.5 7.71"/></g>
<rect x="348.15" y="13.10" width="977.70" height="4.70" fill="#231815"/>
<rect x="348.15" y="912.10" width="977.70" height="4.70" fill="#231815"/>
<rect x="348.15" y="13.10" width="4.70" height="903.70" fill="#231815"/>
<rect x="1321.15" y="13.10" width="4.70" height="903.70" fill="#231815"/>
<rect x="392.38" y="896.95" width="4.70" height="17.50" fill="#231815"/>
<rect x="392.38" y="15.45" width="4.70" height="17.50" fill="#231815"/>
<rect x="569.29" y="896.95" width="4.70" height="17.50" fill="#231815"/>
<rect x="569.29" y="15.45" width="4.70" height="17.50" fill="#231815"/>
<rect x="746.20" y="896.95" width="4.70" height="17.50" fill="#231815"/>
<rect x="746.20" y="15.45" width="4.70" height="17.50" fill="#231815"/>
<rect x="923.10" y="896.95" width="4.70" height="17.50" fill="#231815"/>
<rect x="923.10" y="15.45" width="4.70" height="17.50" fill="#231815"/>
<rect x="1100.01" y="896.95" width="4.70" height="17.50" fill="#231815"/>
<rect x="1100.01" y="15.45" width="4.70" height="17.50" fill="#231815"/>
<rect x="1276.92" y="896.95" width="4.70" height="17.50" fill="#231815"/>
<rect x="1276.92" y="15.45" width="4.70" height="17.50" fill="#231815"/>
<rect x="350.50" y="38.07" width="17.50" height="4.70" fill="#231815"/>
<rect x="1306.00" y="38.07" width="17.50" height="4.70" fill="#231815"/>
<rect x="350.50" y="162.93" width="17.50" height="4.70" fill="#231815"/>
<rect x="1306.00" y="162.93" width="17.50" height="4.70" fill="#231815"/>
<rect x="350.50" y="287.79" width="17.50" height="4.70" fill="#231815"/>
<rect x="1306.00" y="287.79" width="17.50" height="4.70" fill="#231815"/>
<rect x="350.50" y="412.66" width="17.50" height="4.70" fill="#231815"/>
<rect x="1306.00" y="412.66" width="17.50" height="4.70" fill="#231815"/>
<rect x="350.50" y="537.52" width="17.50" height="4.70" fill="#231815"/>
<rect x="1306.00" y="537.52" width="17.50" height="4.70" fill="#231815"/>
<rect x="350.50" y="662.38" width="17.50" height="4.70" fill="#231815"/>
<rect x="1306.00" y="662.38" width="17.50" height="4.70" fill="#231815"/>
<rect x="350.50" y="787.24" width="17.50" height="4.70" fill="#231815"/>
<rect x="1306.00" y="787.24" width="17.50" height="4.70" fill="#231815"/>
<rect x="350.50" y="912.10" width="17.50" height="4.70" fill="#231815"/>
<rect x="1306.00" y="912.10" width="17.50" height="4.70" fill="#231815"/>
<text transform="translate(245.97,59.30) scale(1.1434,1)" font-size="58.01" font-style="normal" fill="#000">0.1</text>
<text transform="translate(298.35,184.41) scale(1.1032,1)" font-size="58.39" font-style="normal" fill="#000">0</text>
<text transform="translate(245.97,309.02) scale(1.1434,1)" font-size="58.01" font-style="normal" fill="#000">0.1</text>
<rect x="197.10" y="292.74" width="38.80" height="2.80" fill="#000"/>
<text transform="translate(245.88,433.88) scale(1.1863,1)" font-size="58.01" font-style="normal" fill="#000">0.2</text>
<rect x="197.10" y="417.61" width="38.80" height="2.80" fill="#000"/>
<text transform="translate(245.92,558.75) scale(1.1700,1)" font-size="58.01" font-style="normal" fill="#000">0.3</text>
<rect x="197.10" y="542.47" width="38.80" height="2.80" fill="#000"/>
<text transform="translate(245.94,683.61) scale(1.1571,1)" font-size="58.01" font-style="normal" fill="#000">0.4</text>
<rect x="197.10" y="667.33" width="38.80" height="2.80" fill="#000"/>
<text transform="translate(245.92,808.47) scale(1.1700,1)" font-size="58.01" font-style="normal" fill="#000">0.5</text>
<rect x="197.10" y="792.19" width="38.80" height="2.80" fill="#000"/>
<text transform="translate(245.94,933.33) scale(1.1608,1)" font-size="58.01" font-style="normal" fill="#000">0.6</text>
<rect x="197.10" y="917.05" width="38.80" height="2.80" fill="#000"/>
<text transform="translate(371.95,970.23) scale(1.1097,1)" font-size="58.68" font-style="normal" fill="#231815">0</text>
<text transform="translate(532.01,969.97) scale(1.1832,1)" font-size="58.30" font-style="normal" fill="#231815">0.2</text>
<text transform="translate(709.00,969.97) scale(1.1441,1)" font-size="58.30" font-style="normal" fill="#231815">0.4</text>
<text transform="translate(885.88,969.97) scale(1.1578,1)" font-size="58.30" font-style="normal" fill="#231815">0.6</text>
<text transform="translate(1062.77,969.97) scale(1.1660,1)" font-size="58.30" font-style="normal" fill="#231815">0.8</text>
<text transform="translate(1239.35,969.97) scale(1.1551,1)" font-size="58.30" font-style="normal" fill="#231815">1.0</text>
<text transform="translate(823.33,1044.92) scale(1.3730,1)" font-size="56.27" font-style="italic" fill="#231815">f</text>
<g transform="rotate(-90)"><text transform="translate(-571.85,147.98) scale(1.1212,1)" font-size="59.23" font-style="italic" fill="#231815">D</text><text transform="translate(-517.17,148.97) scale(0.9710,1)" font-size="64.96" font-style="normal" fill="#231815">(</text><text transform="translate(-491.37,146.71) scale(1.3837,1)" font-size="55.83" font-style="italic" fill="#231815">f</text><text transform="translate(-462.34,148.97) scale(0.9291,1)" font-size="64.96" font-style="normal" fill="#231815">)</text></g>
<g clip-path="url(#clipb)"><polyline points="1690.7,165.3 1691.6,166.5 1693.5,169.0 1695.3,171.4 1697.2,173.7 1699.1,175.8 1700.9,177.8 1702.8,179.7 1704.7,181.5 1706.6,183.2 1708.4,184.7 1710.6,186.3 1712.8,187.8 1715.1,189.2 1717.3,190.4 1719.5,191.6 1721.7,192.7 1723.9,193.8 1726.1,194.7 1728.3,195.6 1730.5,196.5 1732.7,197.2 1735.0,197.9 1737.2,198.5 1739.4,199.1 1741.6,199.7 1743.8,200.2 1746.0,200.7 1748.2,201.1 1750.4,201.5 1752.6,201.9 1754.9,202.3 1757.1,202.6 1759.3,203.0 1761.5,203.3 1763.7,203.6 1765.9,203.9 1768.1,204.2 1770.3,204.5 1772.5,204.8 1774.8,205.2 1777.0,205.5 1779.2,205.8 1781.4,206.1 1783.6,206.5 1785.8,206.9 1788.0,207.2 1790.2,207.6 1792.5,208.0 1794.7,208.5 1796.9,208.9 1799.1,209.4 1801.3,209.8 1803.5,210.4 1805.7,210.9 1807.9,211.4 1810.1,212.0 1812.4,212.6 1814.6,213.2 1816.8,213.9 1819.0,214.6 1821.2,215.3 1823.4,216.0 1825.6,216.8 1827.8,217.6 1830.0,218.4 1832.3,219.2 1834.5,220.1 1836.7,221.0 1838.9,221.9 1841.1,222.9 1843.3,223.9 1845.5,224.9 1847.7,225.9 1849.9,227.0 1852.2,228.1 1854.4,229.2 1856.6,230.4 1858.8,231.5 1861.0,232.8 1863.2,234.0 1865.4,235.3 1867.6,236.5 1869.8,237.9 1872.1,239.2 1874.3,240.6 1876.5,242.0 1878.7,243.4 1880.9,244.9 1883.1,246.4 1885.3,247.9 1887.5,249.4 1889.8,251.0 1892.0,252.5 1894.2,254.1 1896.4,255.8 1898.6,257.4 1900.8,259.1 1903.0,260.8 1905.2,262.5 1907.4,264.3 1909.7,266.0 1911.9,267.8 1914.1,269.7 1916.3,271.5 1918.5,273.4 1920.7,275.2 1922.9,277.1 1925.1,279.1 1927.3,281.0 1929.6,283.0 1931.8,284.9 1934.0,286.9 1936.2,289.0 1938.4,291.0 1940.6,293.1 1942.8,295.1 1945.0,297.2 1947.2,299.3 1949.5,301.5 1951.7,303.6 1953.9,305.8 1956.1,308.0 1958.3,310.1 1960.5,312.4 1962.7,314.6 1964.9,316.8 1967.1,319.1 1969.4,321.4 1971.6,323.7 1973.8,326.0 1976.0,328.3 1978.2,330.6 1980.4,332.9 1982.6,335.3 1984.8,337.7 1987.0,340.1 1989.3,342.5 1991.5,344.9 1993.7,347.3 1995.9,349.7 1998.1,352.2 2000.3,354.6 2002.5,357.1 2004.7,359.6 2007.0,362.1 2009.2,364.6 2011.4,367.1 2013.6,369.6 2015.8,372.2 2018.0,374.7 2020.2,377.3 2022.4,379.8 2024.6,382.4 2026.9,385.0 2029.1,387.6 2031.3,390.2 2033.5,392.8 2035.7,395.5 2037.9,398.1 2040.1,400.7 2042.3,403.4 2044.5,406.0 2046.8,408.7 2049.0,411.4 2051.2,414.1 2053.4,416.7 2055.6,419.4 2057.8,422.1 2060.0,424.9 2062.2,427.6 2064.4,430.3 2066.7,433.0 2068.9,435.8 2071.1,438.5 2073.3,441.3 2075.5,444.0 2077.7,446.8 2079.9,449.6 2082.1,452.3 2084.3,455.1 2086.6,457.9 2088.8,460.7 2091.0,463.5 2093.2,466.3 2095.4,469.1 2097.6,471.9 2099.8,474.8 2102.0,477.6 2104.3,480.4 2106.5,483.3 2108.7,486.1 2110.9,488.9 2113.1,491.8 2115.3,494.7 2117.5,497.5 2119.7,500.4 2121.9,503.3 2124.2,506.1 2126.4,509.0 2128.6,511.9 2130.8,514.8 2133.0,517.7 2135.2,520.6 2137.4,523.5 2139.6,526.4 2141.8,529.3 2144.1,532.2 2146.3,535.1 2148.5,538.0 2150.7,540.9 2152.9,543.8 2155.1,546.8 2157.3,549.7 2159.5,552.6 2161.7,555.6 2164.0,558.5 2166.2,561.4 2168.4,564.4 2170.6,567.3 2172.8,570.3 2175.0,573.2 2177.2,576.2 2179.4,579.2 2181.7,582.1 2183.9,585.1 2186.1,588.0 2188.3,591.0 2190.5,594.0 2192.7,597.0 2194.9,599.9 2197.1,602.9 2199.3,605.9 2201.6,608.9 2203.8,611.9 2206.0,614.9 2208.2,617.8 2210.4,620.8 2212.6,623.8 2214.8,626.8 2217.0,629.8 2219.2,632.8 2221.5,635.8 2223.7,638.8 2225.9,641.8 2228.1,644.8 2230.3,647.9 2232.5,650.9 2234.7,653.9 2236.9,656.9 2239.1,659.9 2241.4,662.9 2243.6,665.9 2245.8,669.0 2248.0,672.0 2250.2,675.0 2252.4,678.0 2254.6,681.1 2256.8,684.1 2259.0,687.1 2261.3,690.2 2263.5,693.2 2265.7,696.2 2267.9,699.3 2270.1,702.3 2272.3,705.3 2274.5,708.4 2276.7,711.4 2278.9,714.5 2281.2,717.5 2283.4,720.5 2285.6,723.6 2287.8,726.6 2290.0,729.7 2292.2,732.7 2294.4,735.8 2296.6,738.8 2298.9,741.9 2301.1,744.9 2303.3,748.0 2305.5,751.1 2307.7,754.1 2309.9,757.2 2312.1,760.2 2314.3,763.3 2316.5,766.3 2318.8,769.4 2321.0,772.5 2323.2,775.5 2325.4,778.6 2327.6,781.7 2329.8,784.7 2332.0,787.8 2334.2,790.9 2336.4,793.9 2338.7,797.0 2340.9,800.1 2343.1,803.1 2345.3,806.2 2347.5,809.3 2349.7,812.3 2351.9,815.4 2354.1,818.5 2356.3,821.6 2358.6,824.6 2360.8,827.7 2363.0,830.8 2365.2,833.9 2367.4,837.0 2369.6,840.0 2371.8,843.1 2374.0,846.2 2376.2,849.3 2378.5,852.4 2380.7,855.4 2382.9,858.5 2385.1,861.6 2387.3,864.7 2389.5,867.8 2391.7,870.8 2393.9,873.9 2396.2,877.0 2398.4,880.1 2400.6,883.2 2402.8,886.3 2405.0,889.4 2407.2,892.4 2409.4,895.5 2411.6,898.6 2413.8,901.7 2416.1,904.8 2418.3,907.9 2420.5,911.0 2422.7,914.1 2424.9,917.2 2427.1,920.3 2429.3,923.3 2431.5,926.4 2433.7,929.5 2436.0,932.6 2438.2,935.7 2440.4,938.8 2442.6,941.9 2444.8,945.0 2447.0,948.1 2449.2,951.2 2451.4,954.3" fill="none" stroke="#20295a" stroke-width="5" stroke-linejoin="round" stroke-linecap="square"/><polyline points="1690.7,165.3 1691.6,166.5 1693.5,169.0 1695.3,171.4 1697.2,173.6 1699.1,175.6 1700.9,177.5 1702.8,179.3 1704.7,180.9 1706.6,182.4 1708.4,183.7 1710.6,185.1 1712.8,186.3 1715.1,187.4 1717.3,188.2 1719.5,189.1 1721.7,189.9 1723.9,190.6 1726.1,191.2 1728.3,191.7 1730.5,192.1 1732.7,192.4 1735.0,192.7 1737.2,192.9 1739.4,193.1 1741.6,193.2 1743.8,193.2 1746.0,193.2 1748.2,193.2 1750.4,193.2 1752.6,193.1 1754.9,193.0 1757.1,192.8 1759.3,192.7 1761.5,192.5 1763.7,192.4 1765.9,192.2 1768.1,192.0 1770.3,191.8 1772.5,191.6 1774.8,191.5 1777.0,191.3 1779.2,191.1 1781.4,191.0 1783.6,190.9 1785.8,190.7 1788.0,190.6 1790.2,190.6 1792.5,190.5 1794.7,190.4 1796.9,190.4 1799.1,190.4 1801.3,190.5 1803.5,190.5 1805.7,190.6 1807.9,190.7 1810.1,190.8 1812.4,191.0 1814.6,191.2 1816.8,191.4 1819.0,191.7 1821.2,191.9 1823.4,192.3 1825.6,192.6 1827.8,193.0 1830.0,193.4 1832.3,193.9 1834.5,194.3 1836.7,194.8 1838.9,195.4 1841.1,196.0 1843.3,196.6 1845.5,197.2 1847.7,197.9 1849.9,198.6 1852.2,199.4 1854.4,200.1 1856.6,201.0 1858.8,201.8 1861.0,202.7 1863.2,203.6 1865.4,204.5 1867.6,205.5 1869.8,206.5 1872.1,207.6 1874.3,208.6 1876.5,209.7 1878.7,210.9 1880.9,212.0 1883.1,213.2 1885.3,214.5 1887.5,215.7 1889.8,217.0 1892.0,218.3 1894.2,219.6 1896.4,221.0 1898.6,222.4 1900.8,223.8 1903.0,225.3 1905.2,226.8 1907.4,228.3 1909.7,229.8 1911.9,231.4 1914.1,233.0 1916.3,234.6 1918.5,236.2 1920.7,237.9 1922.9,239.6 1925.1,241.3 1927.3,243.0 1929.6,244.8 1931.8,246.6 1934.0,248.4 1936.2,250.2 1938.4,252.1 1940.6,253.9 1942.8,255.8 1945.0,257.7 1947.2,259.7 1949.5,261.6 1951.7,263.6 1953.9,265.6 1956.1,267.6 1958.3,269.7 1960.5,271.7 1962.7,273.8 1964.9,275.9 1967.1,278.0 1969.4,280.1 1971.6,282.2 1973.8,284.4 1976.0,286.6 1978.2,288.8 1980.4,291.0 1982.6,293.2 1984.8,295.5 1987.0,297.7 1989.3,300.0 1991.5,302.3 1993.7,304.6 1995.9,306.9 1998.1,309.2 2000.3,311.6 2002.5,313.9 2004.7,316.3 2007.0,318.7 2009.2,321.1 2011.4,323.5 2013.6,325.9 2015.8,328.4 2018.0,330.8 2020.2,333.3 2022.4,335.7 2024.6,338.2 2026.9,340.7 2029.1,343.2 2031.3,345.7 2033.5,348.3 2035.7,350.8 2037.9,353.3 2040.1,355.9 2042.3,358.5 2044.5,361.0 2046.8,363.6 2049.0,366.2 2051.2,368.8 2053.4,371.4 2055.6,374.1 2057.8,376.7 2060.0,379.3 2062.2,382.0 2064.4,384.6 2066.7,387.3 2068.9,390.0 2071.1,392.7 2073.3,395.3 2075.5,398.0 2077.7,400.7 2079.9,403.5 2082.1,406.2 2084.3,408.9 2086.6,411.6 2088.8,414.4 2091.0,417.1 2093.2,419.9 2095.4,422.6 2097.6,425.4 2099.8,428.2 2102.0,430.9 2104.3,433.7 2106.5,436.5 2108.7,439.3 2110.9,442.1 2113.1,444.9 2115.3,447.7 2117.5,450.5 2119.7,453.3 2121.9,456.2 2124.2,459.0 2126.4,461.8 2128.6,464.7 2130.8,467.5 2133.0,470.4 2135.2,473.2 2137.4,476.1 2139.6,478.9 2141.8,481.8 2144.1,484.7 2146.3,487.6 2148.5,490.4 2150.7,493.3 2152.9,496.2 2155.1,499.1 2157.3,502.0 2159.5,504.9 2161.7,507.8 2164.0,510.7 2166.2,513.6 2168.4,516.5 2170.6,519.5 2172.8,522.4 2175.0,525.3 2177.2,528.2 2179.4,531.2 2181.7,534.1 2183.9,537.0 2186.1,540.0 2188.3,542.9 2190.5,545.9 2192.7,548.8 2194.9,551.8 2197.1,554.7 2199.3,557.7 2201.6,560.6 2203.8,563.6 2206.0,566.6 2208.2,569.5 2210.4,572.5 2212.6,575.5 2214.8,578.4 2217.0,581.4 2219.2,584.4 2221.5,587.4 2223.7,590.4 2225.9,593.3 2228.1,596.3 2230.3,599.3 2232.5,602.3 2234.7,605.3 2236.9,608.3 2239.1,611.3 2241.4,614.3 2243.6,617.3 2245.8,620.3 2248.0,623.3 2250.2,626.3 2252.4,629.3 2254.6,632.3 2256.8,635.4 2259.0,638.4 2261.3,641.4 2263.5,644.4 2265.7,647.4 2267.9,650.4 2270.1,653.5 2272.3,656.5 2274.5,659.5 2276.7,662.5 2278.9,665.6 2281.2,668.6 2283.4,671.6 2285.6,674.7 2287.8,677.7 2290.0,680.7 2292.2,683.8 2294.4,686.8 2296.6,689.8 2298.9,692.9 2301.1,695.9 2303.3,699.0 2305.5,702.0 2307.7,705.1 2309.9,708.1 2312.1,711.1 2314.3,714.2 2316.5,717.2 2318.8,720.3 2321.0,723.3 2323.2,726.4 2325.4,729.5 2327.6,732.5 2329.8,735.6 2332.0,738.6 2334.2,741.7 2336.4,744.7 2338.7,747.8 2340.9,750.9 2343.1,753.9 2345.3,757.0 2347.5,760.0 2349.7,763.1 2351.9,766.2 2354.1,769.2 2356.3,772.3 2358.6,775.4 2360.8,778.4 2363.0,781.5 2365.2,784.6 2367.4,787.6 2369.6,790.7 2371.8,793.8 2374.0,796.9 2376.2,799.9 2378.5,803.0 2380.7,806.1 2382.9,809.2 2385.1,812.2 2387.3,815.3 2389.5,818.4 2391.7,821.5 2393.9,824.5 2396.2,827.6 2398.4,830.7 2400.6,833.8 2402.8,836.9 2405.0,839.9 2407.2,843.0 2409.4,846.1 2411.6,849.2 2413.8,852.3 2416.1,855.4 2418.3,858.4 2420.5,861.5 2422.7,864.6 2424.9,867.7 2427.1,870.8 2429.3,873.9 2431.5,877.0 2433.7,880.0 2436.0,883.1 2438.2,886.2 2440.4,889.3 2442.6,892.4 2444.8,895.5 2447.0,898.6 2449.2,901.7 2451.4,904.8 2453.6,907.8 2455.9,910.9 2458.1,914.0 2460.3,917.1 2462.5,920.2 2464.7,923.3 2466.9,926.4 2469.1,929.5 2471.3,932.6 2473.6,935.7 2475.8,938.8 2478.0,941.9 2480.2,945.0 2482.4,948.1 2484.6,951.2 2486.8,954.3" fill="none" stroke="#d3a226" stroke-width="5" stroke-linejoin="round" stroke-linecap="square"/><polyline points="1690.7,165.3 1691.6,166.5 1693.5,169.0 1695.3,171.3 1697.2,173.4 1699.1,175.4 1700.9,177.1 1702.8,178.8 1704.7,180.2 1706.6,181.5 1708.4,182.6 1710.6,183.7 1712.8,184.6 1715.1,185.3 1717.3,185.8 1719.5,186.3 1721.7,186.7 1723.9,187.0 1726.1,187.2 1728.3,187.2 1730.5,187.2 1732.7,187.1 1735.0,186.9 1737.2,186.6 1739.4,186.3 1741.6,185.9 1743.8,185.4 1746.0,184.9 1748.2,184.3 1750.4,183.8 1752.6,183.1 1754.9,182.5 1757.1,181.8 1759.3,181.1 1761.5,180.4 1763.7,179.7 1765.9,179.0 1768.1,178.2 1770.3,177.5 1772.5,176.8 1774.8,176.1 1777.0,175.3 1779.2,174.6 1781.4,173.9 1783.6,173.3 1785.8,172.6 1788.0,172.0 1790.2,171.4 1792.5,170.8 1794.7,170.2 1796.9,169.6 1799.1,169.1 1801.3,168.6 1803.5,168.2 1805.7,167.8 1807.9,167.4 1810.1,167.0 1812.4,166.7 1814.6,166.4 1816.8,166.1 1819.0,165.9 1821.2,165.7 1823.4,165.5 1825.6,165.4 1827.8,165.4 1830.0,165.3 1832.3,165.3 1834.5,165.4 1836.7,165.4 1838.9,165.6 1841.1,165.7 1843.3,165.9 1845.5,166.1 1847.7,166.4 1849.9,166.7 1852.2,167.1 1854.4,167.5 1856.6,167.9 1858.8,168.4 1861.0,168.9 1863.2,169.4 1865.4,170.0 1867.6,170.6 1869.8,171.3 1872.1,171.9 1874.3,172.7 1876.5,173.4 1878.7,174.2 1880.9,175.1 1883.1,176.0 1885.3,176.9 1887.5,177.8 1889.8,178.8 1892.0,179.8 1894.2,180.8 1896.4,181.9 1898.6,183.0 1900.8,184.2 1903.0,185.4 1905.2,186.6 1907.4,187.8 1909.7,189.1 1911.9,190.4 1914.1,191.7 1916.3,193.1 1918.5,194.5 1920.7,195.9 1922.9,197.3 1925.1,198.8 1927.3,200.3 1929.6,201.9 1931.8,203.4 1934.0,205.0 1936.2,206.6 1938.4,208.3 1940.6,209.9 1942.8,211.6 1945.0,213.3 1947.2,215.1 1949.5,216.8 1951.7,218.6 1953.9,220.4 1956.1,222.2 1958.3,224.1 1960.5,226.0 1962.7,227.9 1964.9,229.8 1967.1,231.7 1969.4,233.7 1971.6,235.7 1973.8,237.7 1976.0,239.7 1978.2,241.7 1980.4,243.8 1982.6,245.9 1984.8,248.0 1987.0,250.1 1989.3,252.2 1991.5,254.4 1993.7,256.5 1995.9,258.7 1998.1,260.9 2000.3,263.1 2002.5,265.4 2004.7,267.6 2007.0,269.9 2009.2,272.1 2011.4,274.4 2013.6,276.7 2015.8,279.1 2018.0,281.4 2020.2,283.7 2022.4,286.1 2024.6,288.5 2026.9,290.9 2029.1,293.3 2031.3,295.7 2033.5,298.1 2035.7,300.6 2037.9,303.0 2040.1,305.5 2042.3,307.9 2044.5,310.4 2046.8,312.9 2049.0,315.4 2051.2,318.0 2053.4,320.5 2055.6,323.0 2057.8,325.6 2060.0,328.1 2062.2,330.7 2064.4,333.3 2066.7,335.9 2068.9,338.5 2071.1,341.1 2073.3,343.7 2075.5,346.3 2077.7,348.9 2079.9,351.6 2082.1,354.2 2084.3,356.9 2086.6,359.6 2088.8,362.2 2091.0,364.9 2093.2,367.6 2095.4,370.3 2097.6,373.0 2099.8,375.7 2102.0,378.4 2104.3,381.2 2106.5,383.9 2108.7,386.6 2110.9,389.4 2113.1,392.1 2115.3,394.9 2117.5,397.7 2119.7,400.4 2121.9,403.2 2124.2,406.0 2126.4,408.8 2128.6,411.6 2130.8,414.4 2133.0,417.2 2135.2,420.0 2137.4,422.8 2139.6,425.6 2141.8,428.4 2144.1,431.3 2146.3,434.1 2148.5,436.9 2150.7,439.8 2152.9,442.6 2155.1,445.5 2157.3,448.3 2159.5,451.2 2161.7,454.1 2164.0,456.9 2166.2,459.8 2168.4,462.7 2170.6,465.6 2172.8,468.5 2175.0,471.4 2177.2,474.3 2179.4,477.2 2181.7,480.1 2183.9,483.0 2186.1,485.9 2188.3,488.8 2190.5,491.7 2192.7,494.6 2194.9,497.5 2197.1,500.5 2199.3,503.4 2201.6,506.3 2203.8,509.3 2206.0,512.2 2208.2,515.2 2210.4,518.1 2212.6,521.0 2214.8,524.0 2217.0,526.9 2219.2,529.9 2221.5,532.9 2223.7,535.8 2225.9,538.8 2228.1,541.7 2230.3,544.7 2232.5,547.7 2234.7,550.7 2236.9,553.6 2239.1,556.6 2241.4,559.6 2243.6,562.6 2245.8,565.6 2248.0,568.5 2250.2,571.5 2252.4,574.5 2254.6,577.5 2256.8,580.5 2259.0,583.5 2261.3,586.5 2263.5,589.5 2265.7,592.5 2267.9,595.5 2270.1,598.5 2272.3,601.5 2274.5,604.5 2276.7,607.5 2278.9,610.6 2281.2,613.6 2283.4,616.6 2285.6,619.6 2287.8,622.6 2290.0,625.6 2292.2,628.7 2294.4,631.7 2296.6,634.7 2298.9,637.7 2301.1,640.8 2303.3,643.8 2305.5,646.8 2307.7,649.9 2309.9,652.9 2312.1,655.9 2314.3,659.0 2316.5,662.0 2318.8,665.0 2321.0,668.1 2323.2,671.1 2325.4,674.2 2327.6,677.2 2329.8,680.3 2332.0,683.3 2334.2,686.4 2336.4,689.4 2338.7,692.4 2340.9,695.5 2343.1,698.5 2345.3,701.6 2347.5,704.7 2349.7,707.7 2351.9,710.8 2354.1,713.8 2356.3,716.9 2358.6,719.9 2360.8,723.0 2363.0,726.1 2365.2,729.1 2367.4,732.2 2369.6,735.2 2371.8,738.3 2374.0,741.4 2376.2,744.4 2378.5,747.5 2380.7,750.6 2382.9,753.6 2385.1,756.7 2387.3,759.8 2389.5,762.8 2391.7,765.9 2393.9,769.0 2396.2,772.0 2398.4,775.1 2400.6,778.2 2402.8,781.3 2405.0,784.3 2407.2,787.4 2409.4,790.5 2411.6,793.6 2413.8,796.6 2416.1,799.7 2418.3,802.8 2420.5,805.9 2422.7,809.0 2424.9,812.0 2427.1,815.1 2429.3,818.2 2431.5,821.3 2433.7,824.4 2436.0,827.4 2438.2,830.5 2440.4,833.6 2442.6,836.7 2444.8,839.8 2447.0,842.9 2449.2,845.9 2451.4,849.0 2453.6,852.1 2455.9,855.2 2458.1,858.3 2460.3,861.4 2462.5,864.5 2464.7,867.6 2466.9,870.6 2469.1,873.7 2471.3,876.8 2473.6,879.9 2475.8,883.0 2478.0,886.1 2480.2,889.2 2482.4,892.3 2484.6,895.4 2486.8,898.5 2489.0,901.6 2491.2,904.7 2493.5,907.7 2495.7,910.8 2497.9,913.9 2500.1,917.0 2502.3,920.1 2504.5,923.2 2506.7,926.3 2508.9,929.4 2511.1,932.5 2513.4,935.6 2515.6,938.7 2517.8,941.8 2520.0,944.9 2522.2,948.0 2524.4,951.1 2526.6,954.2" fill="none" stroke="#741c78" stroke-width="5" stroke-linejoin="round" stroke-dasharray="19 7.3"/><polyline points="1690.7,165.3 1691.6,166.5 1693.5,169.0 1695.3,171.2 1697.2,173.3 1699.1,175.2 1700.9,176.9 1702.8,178.4 1704.7,179.7 1706.6,180.8 1708.4,181.8 1710.6,182.7 1712.8,183.3 1715.1,183.7 1717.3,183.9 1719.5,184.2 1721.7,184.3 1723.9,184.2 1726.1,184.1 1728.3,183.8 1730.5,183.4 1732.7,182.9 1735.0,182.3 1737.2,181.7 1739.4,181.0 1741.6,180.2 1743.8,179.3 1746.0,178.4 1748.2,177.4 1750.4,176.4 1752.6,175.4 1754.9,174.3 1757.1,173.2 1759.3,172.1 1761.5,171.0 1763.7,169.9 1765.9,168.7 1768.1,167.5 1770.3,166.4 1772.5,165.2 1774.8,164.1 1777.0,162.9 1779.2,161.8 1781.4,160.7 1783.6,159.6 1785.8,158.5 1788.0,157.5 1790.2,156.4 1792.5,155.4 1794.7,154.4 1796.9,153.5 1799.1,152.6 1801.3,151.7 1803.5,150.8 1805.7,150.0 1807.9,149.2 1810.1,148.5 1812.4,147.7 1814.6,147.1 1816.8,146.4 1819.0,145.8 1821.2,145.3 1823.4,144.8 1825.6,144.3 1827.8,143.9 1830.0,143.5 1832.3,143.1 1834.5,142.8 1836.7,142.6 1838.9,142.3 1841.1,142.2 1843.3,142.0 1845.5,142.0 1847.7,141.9 1849.9,141.9 1852.2,141.9 1854.4,142.0 1856.6,142.2 1858.8,142.3 1861.0,142.5 1863.2,142.8 1865.4,143.1 1867.6,143.4 1869.8,143.8 1872.1,144.2 1874.3,144.7 1876.5,145.2 1878.7,145.8 1880.9,146.3 1883.1,147.0 1885.3,147.6 1887.5,148.3 1889.8,149.1 1892.0,149.8 1894.2,150.7 1896.4,151.5 1898.6,152.4 1900.8,153.3 1903.0,154.3 1905.2,155.3 1907.4,156.3 1909.7,157.4 1911.9,158.5 1914.1,159.6 1916.3,160.8 1918.5,162.0 1920.7,163.2 1922.9,164.5 1925.1,165.8 1927.3,167.1 1929.6,168.5 1931.8,169.8 1934.0,171.3 1936.2,172.7 1938.4,174.2 1940.6,175.7 1942.8,177.2 1945.0,178.8 1947.2,180.4 1949.5,182.0 1951.7,183.6 1953.9,185.3 1956.1,187.0 1958.3,188.7 1960.5,190.4 1962.7,192.2 1964.9,194.0 1967.1,195.8 1969.4,197.6 1971.6,199.4 1973.8,201.3 1976.0,203.2 1978.2,205.1 1980.4,207.1 1982.6,209.0 1984.8,211.0 1987.0,213.0 1989.3,215.0 1991.5,217.1 1993.7,219.1 1995.9,221.2 1998.1,223.3 2000.3,225.4 2002.5,227.6 2004.7,229.7 2007.0,231.9 2009.2,234.1 2011.4,236.3 2013.6,238.5 2015.8,240.7 2018.0,243.0 2020.2,245.2 2022.4,247.5 2024.6,249.8 2026.9,252.1 2029.1,254.4 2031.3,256.8 2033.5,259.1 2035.7,261.5 2037.9,263.9 2040.1,266.2 2042.3,268.6 2044.5,271.1 2046.8,273.5 2049.0,275.9 2051.2,278.4 2053.4,280.8 2055.6,283.3 2057.8,285.8 2060.0,288.3 2062.2,290.8 2064.4,293.3 2066.7,295.9 2068.9,298.4 2071.1,300.9 2073.3,303.5 2075.5,306.1 2077.7,308.7 2079.9,311.2 2082.1,313.8 2084.3,316.4 2086.6,319.1 2088.8,321.7 2091.0,324.3 2093.2,327.0 2095.4,329.6 2097.6,332.3 2099.8,334.9 2102.0,337.6 2104.3,340.3 2106.5,343.0 2108.7,345.7 2110.9,348.4 2113.1,351.1 2115.3,353.8 2117.5,356.5 2119.7,359.3 2121.9,362.0 2124.2,364.7 2126.4,367.5 2128.6,370.3 2130.8,373.0 2133.0,375.8 2135.2,378.6 2137.4,381.3 2139.6,384.1 2141.8,386.9 2144.1,389.7 2146.3,392.5 2148.5,395.3 2150.7,398.1 2152.9,401.0 2155.1,403.8 2157.3,406.6 2159.5,409.5 2161.7,412.3 2164.0,415.1 2166.2,418.0 2168.4,420.8 2170.6,423.7 2172.8,426.6 2175.0,429.4 2177.2,432.3 2179.4,435.2 2181.7,438.0 2183.9,440.9 2186.1,443.8 2188.3,446.7 2190.5,449.6 2192.7,452.5 2194.9,455.4 2197.1,458.3 2199.3,461.2 2201.6,464.1 2203.8,467.0 2206.0,469.9 2208.2,472.9 2210.4,475.8 2212.6,478.7 2214.8,481.6 2217.0,484.6 2219.2,487.5 2221.5,490.5 2223.7,493.4 2225.9,496.3 2228.1,499.3 2230.3,502.2 2232.5,505.2 2234.7,508.2 2236.9,511.1 2239.1,514.1 2241.4,517.0 2243.6,520.0 2245.8,523.0 2248.0,525.9 2250.2,528.9 2252.4,531.9 2254.6,534.9 2256.8,537.9 2259.0,540.8 2261.3,543.8 2263.5,546.8 2265.7,549.8 2267.9,552.8 2270.1,555.8 2272.3,558.8 2274.5,561.8 2276.7,564.8 2278.9,567.8 2281.2,570.8 2283.4,573.8 2285.6,576.8 2287.8,579.8 2290.0,582.8 2292.2,585.8 2294.4,588.8 2296.6,591.8 2298.9,594.9 2301.1,597.9 2303.3,600.9 2305.5,603.9 2307.7,606.9 2309.9,610.0 2312.1,613.0 2314.3,616.0 2316.5,619.0 2318.8,622.1 2321.0,625.1 2323.2,628.1 2325.4,631.2 2327.6,634.2 2329.8,637.2 2332.0,640.3 2334.2,643.3 2336.4,646.4 2338.7,649.4 2340.9,652.4 2343.1,655.5 2345.3,658.5 2347.5,661.6 2349.7,664.6 2351.9,667.7 2354.1,670.7 2356.3,673.8 2358.6,676.8 2360.8,679.9 2363.0,682.9 2365.2,686.0 2367.4,689.0 2369.6,692.1 2371.8,695.1 2374.0,698.2 2376.2,701.3 2378.5,704.3 2380.7,707.4 2382.9,710.4 2385.1,713.5 2387.3,716.6 2389.5,719.6 2391.7,722.7 2393.9,725.8 2396.2,728.8 2398.4,731.9 2400.6,735.0 2402.8,738.0 2405.0,741.1 2407.2,744.2 2409.4,747.2 2411.6,750.3 2413.8,753.4 2416.1,756.4 2418.3,759.5 2420.5,762.6 2422.7,765.7 2424.9,768.7 2427.1,771.8 2429.3,774.9 2431.5,778.0 2433.7,781.1 2436.0,784.1 2438.2,787.2 2440.4,790.3 2442.6,793.4 2444.8,796.4 2447.0,799.5 2449.2,802.6 2451.4,805.7 2453.6,808.8 2455.9,811.9 2458.1,814.9 2460.3,818.0 2462.5,821.1 2464.7,824.2 2466.9,827.3 2469.1,830.4 2471.3,833.5 2473.6,836.5 2475.8,839.6 2478.0,842.7 2480.2,845.8 2482.4,848.9 2484.6,852.0 2486.8,855.1 2489.0,858.2 2491.2,861.3 2493.5,864.3 2495.7,867.4 2497.9,870.5 2500.1,873.6 2502.3,876.7 2504.5,879.8 2506.7,882.9 2508.9,886.0 2511.1,889.1 2513.4,892.2 2515.6,895.3 2517.8,898.4 2520.0,901.5 2522.2,904.6 2524.4,907.7 2526.6,910.7 2528.8,913.8 2531.0,916.9 2533.3,920.0 2535.5,923.1 2537.7,926.2 2539.9,929.3 2542.1,932.4 2544.3,935.5 2546.5,938.6 2548.7,941.7 2550.9,944.8 2553.2,947.9 2555.4,951.0 2557.6,954.1" fill="none" stroke="#127d3d" stroke-width="5" stroke-linejoin="round" stroke-linecap="square"/><polyline points="1690.7,165.3 1691.6,166.5 1693.5,168.9 1695.3,171.2 1697.2,173.2 1699.1,175.0 1700.9,176.5 1702.8,177.9 1704.7,179.1 1706.6,180.1 1708.4,180.8 1710.6,181.5 1712.8,181.8 1715.1,181.9 1717.3,181.8 1719.5,181.7 1721.7,181.4 1723.9,181.0 1726.1,180.5 1728.3,179.8 1730.5,179.1 1732.7,178.2 1735.0,177.2 1737.2,176.1 1739.4,174.9 1741.6,173.7 1743.8,172.4 1746.0,171.0 1748.2,169.6 1750.4,168.1 1752.6,166.6 1754.9,165.0 1757.1,163.4 1759.3,161.8 1761.5,160.2 1763.7,158.6 1765.9,157.0 1768.1,155.3 1770.3,153.7 1772.5,152.0 1774.8,150.4 1777.0,148.8 1779.2,147.1 1781.4,145.5 1783.6,144.0 1785.8,142.4 1788.0,140.9 1790.2,139.4 1792.5,137.9 1794.7,136.4 1796.9,135.0 1799.1,133.6 1801.3,132.3 1803.5,131.0 1805.7,129.7 1807.9,128.5 1810.1,127.3 1812.4,126.1 1814.6,125.0 1816.8,123.9 1819.0,122.9 1821.2,121.9 1823.4,121.0 1825.6,120.1 1827.8,119.3 1830.0,118.5 1832.3,117.8 1834.5,117.1 1836.7,116.4 1838.9,115.8 1841.1,115.3 1843.3,114.8 1845.5,114.3 1847.7,113.9 1849.9,113.5 1852.2,113.2 1854.4,113.0 1856.6,112.8 1858.8,112.6 1861.0,112.5 1863.2,112.4 1865.4,112.4 1867.6,112.4 1869.8,112.5 1872.1,112.6 1874.3,112.7 1876.5,113.0 1878.7,113.2 1880.9,113.5 1883.1,113.8 1885.3,114.2 1887.5,114.6 1889.8,115.1 1892.0,115.6 1894.2,116.2 1896.4,116.8 1898.6,117.4 1900.8,118.1 1903.0,118.8 1905.2,119.5 1907.4,120.3 1909.7,121.2 1911.9,122.0 1914.1,122.9 1916.3,123.9 1918.5,124.9 1920.7,125.9 1922.9,126.9 1925.1,128.0 1927.3,129.1 1929.6,130.3 1931.8,131.5 1934.0,132.7 1936.2,134.0 1938.4,135.2 1940.6,136.6 1942.8,137.9 1945.0,139.3 1947.2,140.7 1949.5,142.1 1951.7,143.6 1953.9,145.1 1956.1,146.6 1958.3,148.2 1960.5,149.8 1962.7,151.4 1964.9,153.0 1967.1,154.6 1969.4,156.3 1971.6,158.0 1973.8,159.8 1976.0,161.5 1978.2,163.3 1980.4,165.1 1982.6,166.9 1984.8,168.8 1987.0,170.7 1989.3,172.6 1991.5,174.5 1993.7,176.4 1995.9,178.4 1998.1,180.4 2000.3,182.4 2002.5,184.4 2004.7,186.4 2007.0,188.5 2009.2,190.6 2011.4,192.6 2013.6,194.8 2015.8,196.9 2018.0,199.0 2020.2,201.2 2022.4,203.4 2024.6,205.6 2026.9,207.8 2029.1,210.0 2031.3,212.3 2033.5,214.5 2035.7,216.8 2037.9,219.1 2040.1,221.4 2042.3,223.7 2044.5,226.1 2046.8,228.4 2049.0,230.8 2051.2,233.2 2053.4,235.5 2055.6,237.9 2057.8,240.4 2060.0,242.8 2062.2,245.2 2064.4,247.7 2066.7,250.1 2068.9,252.6 2071.1,255.1 2073.3,257.6 2075.5,260.1 2077.7,262.6 2079.9,265.1 2082.1,267.7 2084.3,270.2 2086.6,272.8 2088.8,275.4 2091.0,277.9 2093.2,280.5 2095.4,283.1 2097.6,285.7 2099.8,288.3 2102.0,291.0 2104.3,293.6 2106.5,296.2 2108.7,298.9 2110.9,301.5 2113.1,304.2 2115.3,306.9 2117.5,309.5 2119.7,312.2 2121.9,314.9 2124.2,317.6 2126.4,320.3 2128.6,323.0 2130.8,325.8 2133.0,328.5 2135.2,331.2 2137.4,334.0 2139.6,336.7 2141.8,339.5 2144.1,342.2 2146.3,345.0 2148.5,347.8 2150.7,350.6 2152.9,353.3 2155.1,356.1 2157.3,358.9 2159.5,361.7 2161.7,364.5 2164.0,367.3 2166.2,370.2 2168.4,373.0 2170.6,375.8 2172.8,378.6 2175.0,381.5 2177.2,384.3 2179.4,387.2 2181.7,390.0 2183.9,392.9 2186.1,395.7 2188.3,398.6 2190.5,401.5 2192.7,404.3 2194.9,407.2 2197.1,410.1 2199.3,413.0 2201.6,415.9 2203.8,418.7 2206.0,421.6 2208.2,424.5 2210.4,427.4 2212.6,430.3 2214.8,433.3 2217.0,436.2 2219.2,439.1 2221.5,442.0 2223.7,444.9 2225.9,447.9 2228.1,450.8 2230.3,453.7 2232.5,456.6 2234.7,459.6 2236.9,462.5 2239.1,465.5 2241.4,468.4 2243.6,471.4 2245.8,474.3 2248.0,477.3 2250.2,480.2 2252.4,483.2 2254.6,486.1 2256.8,489.1 2259.0,492.1 2261.3,495.0 2263.5,498.0 2265.7,501.0 2267.9,504.0 2270.1,506.9 2272.3,509.9 2274.5,512.9 2276.7,515.9 2278.9,518.9 2281.2,521.9 2283.4,524.9 2285.6,527.9 2287.8,530.8 2290.0,533.8 2292.2,536.8 2294.4,539.8 2296.6,542.8 2298.9,545.8 2301.1,548.9 2303.3,551.9 2305.5,554.9 2307.7,557.9 2309.9,560.9 2312.1,563.9 2314.3,566.9 2316.5,569.9 2318.8,573.0 2321.0,576.0 2323.2,579.0 2325.4,582.0 2327.6,585.1 2329.8,588.1 2332.0,591.1 2334.2,594.1 2336.4,597.2 2338.7,600.2 2340.9,603.2 2343.1,606.3 2345.3,609.3 2347.5,612.3 2349.7,615.4 2351.9,618.4 2354.1,621.5 2356.3,624.5 2358.6,627.5 2360.8,630.6 2363.0,633.6 2365.2,636.7 2367.4,639.7 2369.6,642.8 2371.8,645.8 2374.0,648.9 2376.2,651.9 2378.5,655.0 2380.7,658.0 2382.9,661.1 2385.1,664.1 2387.3,667.2 2389.5,670.2 2391.7,673.3 2393.9,676.4 2396.2,679.4 2398.4,682.5 2400.6,685.5 2402.8,688.6 2405.0,691.7 2407.2,694.7 2409.4,697.8 2411.6,700.9 2413.8,703.9 2416.1,707.0 2418.3,710.1 2420.5,713.1 2422.7,716.2 2424.9,719.3 2427.1,722.3 2429.3,725.4 2431.5,728.5 2433.7,731.6 2436.0,734.6 2438.2,737.7 2440.4,740.8 2442.6,743.9 2444.8,746.9 2447.0,750.0 2449.2,753.1 2451.4,756.2 2453.6,759.2 2455.9,762.3 2458.1,765.4 2460.3,768.5 2462.5,771.6 2464.7,774.6 2466.9,777.7 2469.1,780.8 2471.3,783.9 2473.6,787.0 2475.8,790.1 2478.0,793.1 2480.2,796.2 2482.4,799.3 2484.6,802.4 2486.8,805.5 2489.0,808.6 2491.2,811.6 2493.5,814.7 2495.7,817.8 2497.9,820.9 2500.1,824.0 2502.3,827.1 2504.5,830.2 2506.7,833.3 2508.9,836.4 2511.1,839.4 2513.4,842.5 2515.6,845.6 2517.8,848.7 2520.0,851.8 2522.2,854.9 2524.4,858.0 2526.6,861.1 2528.8,864.2 2531.0,867.3 2533.3,870.4 2535.5,873.5 2537.7,876.6 2539.9,879.7 2542.1,882.8 2544.3,885.8 2546.5,888.9 2548.7,892.0 2550.9,895.1 2553.2,898.2 2555.4,901.3 2557.6,904.4 2559.8,907.5 2562.0,910.6 2564.2,913.7 2566.4,916.8 2568.6,919.9 2570.8,923.0 2573.1,926.1 2575.3,929.2" fill="none" stroke="#e5161f" stroke-width="5" stroke-linejoin="round" stroke-linecap="square"/><line x1="1690.73" y1="165.28" x2="2575.27" y2="165.28" stroke="#231815" stroke-width="4.6" stroke-dasharray="5.5 7.71"/></g>
<rect x="1644.15" y="13.10" width="977.70" height="4.70" fill="#231815"/>
<rect x="1644.15" y="912.10" width="977.70" height="4.70" fill="#231815"/>
<rect x="1644.15" y="13.10" width="4.70" height="903.70" fill="#231815"/>
<rect x="2617.15" y="13.10" width="4.70" height="903.70" fill="#231815"/>
<rect x="1688.38" y="896.95" width="4.70" height="17.50" fill="#231815"/>
<rect x="1688.38" y="15.45" width="4.70" height="17.50" fill="#231815"/>
<rect x="1865.29" y="896.95" width="4.70" height="17.50" fill="#231815"/>
<rect x="1865.29" y="15.45" width="4.70" height="17.50" fill="#231815"/>
<rect x="2042.20" y="896.95" width="4.70" height="17.50" fill="#231815"/>
<rect x="2042.20" y="15.45" width="4.70" height="17.50" fill="#231815"/>
<rect x="2219.10" y="896.95" width="4.70" height="17.50" fill="#231815"/>
<rect x="2219.10" y="15.45" width="4.70" height="17.50" fill="#231815"/>
<rect x="2396.01" y="896.95" width="4.70" height="17.50" fill="#231815"/>
<rect x="2396.01" y="15.45" width="4.70" height="17.50" fill="#231815"/>
<rect x="2572.92" y="896.95" width="4.70" height="17.50" fill="#231815"/>
<rect x="2572.92" y="15.45" width="4.70" height="17.50" fill="#231815"/>
<rect x="1646.50" y="38.07" width="17.50" height="4.70" fill="#231815"/>
<rect x="2602.00" y="38.07" width="17.50" height="4.70" fill="#231815"/>
<rect x="1646.50" y="162.93" width="17.50" height="4.70" fill="#231815"/>
<rect x="2602.00" y="162.93" width="17.50" height="4.70" fill="#231815"/>
<rect x="1646.50" y="287.79" width="17.50" height="4.70" fill="#231815"/>
<rect x="2602.00" y="287.79" width="17.50" height="4.70" fill="#231815"/>
<rect x="1646.50" y="412.66" width="17.50" height="4.70" fill="#231815"/>
<rect x="2602.00" y="412.66" width="17.50" height="4.70" fill="#231815"/>
<rect x="1646.50" y="537.52" width="17.50" height="4.70" fill="#231815"/>
<rect x="2602.00" y="537.52" width="17.50" height="4.70" fill="#231815"/>
<rect x="1646.50" y="662.38" width="17.50" height="4.70" fill="#231815"/>
<rect x="2602.00" y="662.38" width="17.50" height="4.70" fill="#231815"/>
<rect x="1646.50" y="787.24" width="17.50" height="4.70" fill="#231815"/>
<rect x="2602.00" y="787.24" width="17.50" height="4.70" fill="#231815"/>
<rect x="1646.50" y="912.10" width="17.50" height="4.70" fill="#231815"/>
<rect x="2602.00" y="912.10" width="17.50" height="4.70" fill="#231815"/>
<text transform="translate(1533.27,59.30) scale(1.1434,1)" font-size="58.01" font-style="normal" fill="#000">0.1</text>
<text transform="translate(1585.65,184.41) scale(1.1032,1)" font-size="58.39" font-style="normal" fill="#000">0</text>
<text transform="translate(1533.27,309.02) scale(1.1434,1)" font-size="58.01" font-style="normal" fill="#000">0.1</text>
<rect x="1484.40" y="292.74" width="38.80" height="2.80" fill="#000"/>
<text transform="translate(1533.18,433.88) scale(1.1863,1)" font-size="58.01" font-style="normal" fill="#000">0.2</text>
<rect x="1484.40" y="417.61" width="38.80" height="2.80" fill="#000"/>
<text transform="translate(1533.22,558.75) scale(1.1700,1)" font-size="58.01" font-style="normal" fill="#000">0.3</text>
<rect x="1484.40" y="542.47" width="38.80" height="2.80" fill="#000"/>
<text transform="translate(1533.24,683.61) scale(1.1571,1)" font-size="58.01" font-style="normal" fill="#000">0.4</text>
<rect x="1484.40" y="667.33" width="38.80" height="2.80" fill="#000"/>
<text transform="translate(1533.22,808.47) scale(1.1700,1)" font-size="58.01" font-style="normal" fill="#000">0.5</text>
<rect x="1484.40" y="792.19" width="38.80" height="2.80" fill="#000"/>
<text transform="translate(1533.24,933.33) scale(1.1608,1)" font-size="58.01" font-style="normal" fill="#000">0.6</text>
<rect x="1484.40" y="917.05" width="38.80" height="2.80" fill="#000"/>
<text transform="translate(1675.97,970.23) scale(1.0976,1)" font-size="58.68" font-style="normal" fill="#231815">0</text>
<text transform="translate(1828.01,969.97) scale(1.1832,1)" font-size="58.30" font-style="normal" fill="#231815">0.2</text>
<text transform="translate(2005.00,969.97) scale(1.1441,1)" font-size="58.30" font-style="normal" fill="#231815">0.4</text>
<text transform="translate(2181.88,969.97) scale(1.1578,1)" font-size="58.30" font-style="normal" fill="#231815">0.6</text>
<text transform="translate(2358.77,969.97) scale(1.1660,1)" font-size="58.30" font-style="normal" fill="#231815">0.8</text>
<text transform="translate(2535.35,969.97) scale(1.1551,1)" font-size="58.30" font-style="normal" fill="#231815">1.0</text>
<text transform="translate(2119.33,1044.92) scale(1.3730,1)" font-size="56.27" font-style="italic" fill="#231815">f</text>
<g transform="rotate(-90)"><text transform="translate(-571.85,1435.28) scale(1.1212,1)" font-size="59.23" font-style="italic" fill="#231815">D</text><text transform="translate(-517.17,1436.27) scale(0.9710,1)" font-size="64.96" font-style="normal" fill="#231815">(</text><text transform="translate(-491.37,1434.01) scale(1.3837,1)" font-size="55.83" font-style="italic" fill="#231815">f</text><text transform="translate(-462.34,1436.27) scale(0.9291,1)" font-size="64.96" font-style="normal" fill="#231815">)</text></g>
<g clip-path="url(#clipc)"><polyline points="2985.9,165.3 2986.8,166.5 2988.7,169.2 2990.5,171.8 2992.4,174.4 2994.3,177.1 2996.1,179.7 2998.0,182.3 2999.9,185.0 3001.8,187.6 3003.6,190.3 3005.8,193.4 3008.0,196.5 3010.3,199.6 3012.5,202.7 3014.7,205.8 3016.9,208.9 3019.1,212.0 3021.3,215.0 3023.5,218.1 3025.7,221.1 3027.9,224.1 3030.2,227.0 3032.4,229.9 3034.6,232.7 3036.8,235.5 3039.0,238.2 3041.2,240.9 3043.4,243.5 3045.6,246.0 3047.8,248.5 3050.1,250.9 3052.3,253.2 3054.5,255.5 3056.7,257.7 3058.9,259.8 3061.1,261.9 3063.3,263.9 3065.5,265.8 3067.7,267.6 3070.0,269.4 3072.2,271.1 3074.4,272.7 3076.6,274.3 3078.8,275.8 3081.0,277.2 3083.2,278.6 3085.4,279.8 3087.6,281.1 3089.9,282.2 3092.1,283.3 3094.3,284.3 3096.5,285.2 3098.7,286.1 3100.9,286.9 3103.1,287.7 3105.3,288.4 3107.6,289.0 3109.8,289.6 3112.0,290.1 3114.2,290.5 3116.4,290.9 3118.6,291.3 3120.8,291.5 3123.0,291.8 3125.2,291.9 3127.5,292.0 3129.7,292.1 3131.9,292.1 3134.1,292.0 3136.3,291.9 3138.5,291.8 3140.7,291.6 3142.9,291.4 3145.1,291.1 3147.4,290.7 3149.6,290.4 3151.8,290.0 3154.0,289.5 3156.2,289.0 3158.4,288.5 3160.6,287.9 3162.8,287.3 3165.0,286.7 3167.3,286.0 3169.5,285.3 3171.7,284.6 3173.9,283.8 3176.1,283.0 3178.3,282.2 3180.5,281.4 3182.7,280.5 3184.9,279.6 3187.2,278.7 3189.4,277.8 3191.6,276.9 3193.8,275.9 3196.0,275.0 3198.2,274.0 3200.4,273.0 3202.6,272.0 3204.9,271.0 3207.1,270.0 3209.3,268.9 3211.5,267.9 3213.7,266.9 3215.9,265.9 3218.1,264.8 3220.3,263.8 3222.5,262.8 3224.8,261.7 3227.0,260.7 3229.2,259.7 3231.4,258.7 3233.6,257.7 3235.8,256.7 3238.0,255.8 3240.2,254.8 3242.4,253.9 3244.7,252.9 3246.9,252.0 3249.1,251.1 3251.3,250.2 3253.5,249.4 3255.7,248.5 3257.9,247.7 3260.1,246.9 3262.3,246.2 3264.6,245.4 3266.8,244.7 3269.0,244.0 3271.2,243.3 3273.4,242.7 3275.6,242.1 3277.8,241.5 3280.0,240.9 3282.2,240.4 3284.5,239.9 3286.7,239.5 3288.9,239.0 3291.1,238.6 3293.3,238.3 3295.5,238.0 3297.7,237.7 3299.9,237.4 3302.2,237.2 3304.4,237.0 3306.6,236.9 3308.8,236.8 3311.0,236.7 3313.2,236.7 3315.4,236.7 3317.6,236.7 3319.8,236.8 3322.1,236.9 3324.3,237.1 3326.5,237.3 3328.7,237.5 3330.9,237.8 3333.1,238.1 3335.3,238.5 3337.5,238.8 3339.7,239.3 3342.0,239.7 3344.2,240.3 3346.4,240.8 3348.6,241.4 3350.8,242.0 3353.0,242.7 3355.2,243.4 3357.4,244.1 3359.6,244.9 3361.9,245.7 3364.1,246.6 3366.3,247.5 3368.5,248.4 3370.7,249.3 3372.9,250.3 3375.1,251.4 3377.3,252.5 3379.5,253.6 3381.8,254.7 3384.0,255.9 3386.2,257.1 3388.4,258.4 3390.6,259.6 3392.8,261.0 3395.0,262.3 3397.2,263.7 3399.5,265.1 3401.7,266.6 3403.9,268.1 3406.1,269.6 3408.3,271.1 3410.5,272.7 3412.7,274.3 3414.9,275.9 3417.1,277.6 3419.4,279.3 3421.6,281.0 3423.8,282.8 3426.0,284.5 3428.2,286.3 3430.4,288.2 3432.6,290.0 3434.8,291.9 3437.0,293.8 3439.3,295.8 3441.5,297.7 3443.7,299.7 3445.9,301.7 3448.1,303.8 3450.3,305.8 3452.5,307.9 3454.7,310.0 3456.9,312.2 3459.2,314.3 3461.4,316.5 3463.6,318.7 3465.8,320.9 3468.0,323.1 3470.2,325.4 3472.4,327.6 3474.6,329.9 3476.8,332.2 3479.1,334.6 3481.3,336.9 3483.5,339.3 3485.7,341.6 3487.9,344.0 3490.1,346.4 3492.3,348.9 3494.5,351.3 3496.8,353.8 3499.0,356.3 3501.2,358.7 3503.4,361.3 3505.6,363.8 3507.8,366.3 3510.0,368.9 3512.2,371.4 3514.4,374.0 3516.7,376.6 3518.9,379.2 3521.1,381.8 3523.3,384.4 3525.5,387.1 3527.7,389.7 3529.9,392.4 3532.1,395.0 3534.3,397.7 3536.6,400.4 3538.8,403.1 3541.0,405.8 3543.2,408.5 3545.4,411.3 3547.6,414.0 3549.8,416.7 3552.0,419.5 3554.2,422.3 3556.5,425.0 3558.7,427.8 3560.9,430.6 3563.1,433.4 3565.3,436.2 3567.5,439.0 3569.7,441.9 3571.9,444.7 3574.1,447.5 3576.4,450.4 3578.6,453.2 3580.8,456.1 3583.0,458.9 3585.2,461.8 3587.4,464.7 3589.6,467.6 3591.8,470.4 3594.1,473.3 3596.3,476.2 3598.5,479.1 3600.7,482.0 3602.9,485.0 3605.1,487.9 3607.3,490.8 3609.5,493.7 3611.7,496.7 3614.0,499.6 3616.2,502.5 3618.4,505.5 3620.6,508.4 3622.8,511.4 3625.0,514.3 3627.2,517.3 3629.4,520.3 3631.6,523.2 3633.9,526.2 3636.1,529.2 3638.3,532.2 3640.5,535.1 3642.7,538.1 3644.9,541.1 3647.1,544.1 3649.3,547.1 3651.5,550.1 3653.8,553.1 3656.0,556.1 3658.2,559.1 3660.4,562.1 3662.6,565.1 3664.8,568.2 3667.0,571.2 3669.2,574.2 3671.4,577.2 3673.7,580.2 3675.9,583.3 3678.1,586.3 3680.3,589.3 3682.5,592.4 3684.7,595.4 3686.9,598.4 3689.1,601.5 3691.4,604.5 3693.6,607.6 3695.8,610.6 3698.0,613.6 3700.2,616.7 3702.4,619.7 3704.6,622.8 3706.8,625.9 3709.0,628.9 3711.3,632.0 3713.5,635.0 3715.7,638.1 3717.9,641.1 3720.1,644.2 3722.3,647.3 3724.5,650.3 3726.7,653.4 3728.9,656.5 3731.2,659.5 3733.4,662.6 3735.6,665.7 3737.8,668.7 3740.0,671.8 3742.2,674.9 3744.4,678.0 3746.6,681.1 3748.8,684.1 3751.1,687.2 3753.3,690.3 3755.5,693.4 3757.7,696.4 3759.9,699.5 3762.1,702.6 3764.3,705.7 3766.5,708.8 3768.8,711.9 3771.0,715.0 3773.2,718.0 3775.4,721.1 3777.6,724.2 3779.8,727.3 3782.0,730.4 3784.2,733.5 3786.4,736.6 3788.7,739.7 3790.9,742.8 3793.1,745.9 3795.3,749.0 3797.5,752.1 3799.7,755.2 3801.9,758.3 3804.1,761.4 3806.3,764.5 3808.6,767.6 3810.8,770.7 3813.0,773.8 3815.2,776.9 3817.4,780.0 3819.6,783.1 3821.8,786.2 3824.0,789.3 3826.2,792.4 3828.5,795.5 3830.7,798.6 3832.9,801.7 3835.1,804.8 3837.3,807.9 3839.5,811.0 3841.7,814.1 3843.9,817.2 3846.1,820.3 3848.4,823.4 3850.6,826.5 3852.8,829.6 3855.0,832.8 3857.2,835.9 3859.4,839.0 3861.6,842.1 3863.8,845.2 3866.0,848.3 3868.3,851.4 3870.5,854.5" fill="none" stroke="#20295a" stroke-width="5" stroke-linejoin="round" stroke-linecap="square"/><polyline points="2985.9,165.3 2986.8,166.5 2988.7,169.2 2990.5,171.8 2992.4,174.4 2994.3,177.1 2996.1,179.7 2998.0,182.3 2999.9,185.0 3001.8,187.6 3003.6,190.3 3005.8,193.4 3008.0,196.5 3010.3,199.6 3012.5,202.7 3014.7,205.8 3016.9,208.9 3019.1,212.0 3021.3,215.0 3023.5,218.1 3025.7,221.1 3027.9,224.0 3030.2,226.9 3032.4,229.8 3034.6,232.6 3036.8,235.4 3039.0,238.0 3041.2,240.7 3043.4,243.2 3045.6,245.7 3047.8,248.1 3050.1,250.5 3052.3,252.7 3054.5,254.9 3056.7,257.0 3058.9,259.1 3061.1,261.0 3063.3,262.9 3065.5,264.7 3067.7,266.5 3070.0,268.1 3072.2,269.7 3074.4,271.2 3076.6,272.6 3078.8,274.0 3081.0,275.2 3083.2,276.4 3085.4,277.5 3087.6,278.6 3089.9,279.6 3092.1,280.5 3094.3,281.3 3096.5,282.0 3098.7,282.7 3100.9,283.3 3103.1,283.9 3105.3,284.3 3107.6,284.8 3109.8,285.1 3112.0,285.4 3114.2,285.6 3116.4,285.7 3118.6,285.8 3120.8,285.8 3123.0,285.8 3125.2,285.7 3127.5,285.5 3129.7,285.3 3131.9,285.0 3134.1,284.7 3136.3,284.3 3138.5,283.9 3140.7,283.4 3142.9,282.9 3145.1,282.3 3147.4,281.6 3149.6,281.0 3151.8,280.2 3154.0,279.5 3156.2,278.6 3158.4,277.8 3160.6,276.9 3162.8,276.0 3165.0,275.0 3167.3,274.0 3169.5,272.9 3171.7,271.9 3173.9,270.8 3176.1,269.6 3178.3,268.5 3180.5,267.3 3182.7,266.1 3184.9,264.8 3187.2,263.6 3189.4,262.3 3191.6,261.0 3193.8,259.7 3196.0,258.4 3198.2,257.0 3200.4,255.7 3202.6,254.3 3204.9,252.9 3207.1,251.5 3209.3,250.1 3211.5,248.7 3213.7,247.3 3215.9,245.9 3218.1,244.5 3220.3,243.1 3222.5,241.7 3224.8,240.4 3227.0,239.0 3229.2,237.6 3231.4,236.2 3233.6,234.9 3235.8,233.5 3238.0,232.2 3240.2,230.9 3242.4,229.5 3244.7,228.3 3246.9,227.0 3249.1,225.7 3251.3,224.5 3253.5,223.3 3255.7,222.1 3257.9,220.9 3260.1,219.8 3262.3,218.7 3264.6,217.6 3266.8,216.5 3269.0,215.5 3271.2,214.5 3273.4,213.5 3275.6,212.5 3277.8,211.6 3280.0,210.8 3282.2,209.9 3284.5,209.1 3286.7,208.3 3288.9,207.6 3291.1,206.9 3293.3,206.2 3295.5,205.6 3297.7,205.0 3299.9,204.4 3302.2,203.9 3304.4,203.4 3306.6,203.0 3308.8,202.6 3311.0,202.3 3313.2,202.0 3315.4,201.7 3317.6,201.4 3319.8,201.3 3322.1,201.1 3324.3,201.0 3326.5,200.9 3328.7,200.9 3330.9,200.9 3333.1,201.0 3335.3,201.1 3337.5,201.3 3339.7,201.5 3342.0,201.7 3344.2,202.0 3346.4,202.3 3348.6,202.6 3350.8,203.0 3353.0,203.5 3355.2,204.0 3357.4,204.5 3359.6,205.1 3361.9,205.7 3364.1,206.3 3366.3,207.0 3368.5,207.8 3370.7,208.5 3372.9,209.4 3375.1,210.2 3377.3,211.1 3379.5,212.0 3381.8,213.0 3384.0,214.0 3386.2,215.1 3388.4,216.1 3390.6,217.3 3392.8,218.4 3395.0,219.6 3397.2,220.8 3399.5,222.1 3401.7,223.4 3403.9,224.7 3406.1,226.1 3408.3,227.5 3410.5,229.0 3412.7,230.4 3414.9,231.9 3417.1,233.5 3419.4,235.0 3421.6,236.6 3423.8,238.3 3426.0,239.9 3428.2,241.6 3430.4,243.3 3432.6,245.1 3434.8,246.9 3437.0,248.7 3439.3,250.5 3441.5,252.4 3443.7,254.2 3445.9,256.2 3448.1,258.1 3450.3,260.1 3452.5,262.1 3454.7,264.1 3456.9,266.1 3459.2,268.2 3461.4,270.3 3463.6,272.4 3465.8,274.5 3468.0,276.6 3470.2,278.8 3472.4,281.0 3474.6,283.2 3476.8,285.5 3479.1,287.7 3481.3,290.0 3483.5,292.3 3485.7,294.6 3487.9,296.9 3490.1,299.3 3492.3,301.7 3494.5,304.0 3496.8,306.4 3499.0,308.9 3501.2,311.3 3503.4,313.7 3505.6,316.2 3507.8,318.7 3510.0,321.2 3512.2,323.7 3514.4,326.2 3516.7,328.8 3518.9,331.3 3521.1,333.9 3523.3,336.5 3525.5,339.1 3527.7,341.7 3529.9,344.3 3532.1,346.9 3534.3,349.6 3536.6,352.2 3538.8,354.9 3541.0,357.5 3543.2,360.2 3545.4,362.9 3547.6,365.6 3549.8,368.3 3552.0,371.1 3554.2,373.8 3556.5,376.5 3558.7,379.3 3560.9,382.1 3563.1,384.8 3565.3,387.6 3567.5,390.4 3569.7,393.2 3571.9,396.0 3574.1,398.8 3576.4,401.6 3578.6,404.4 3580.8,407.3 3583.0,410.1 3585.2,413.0 3587.4,415.8 3589.6,418.7 3591.8,421.5 3594.1,424.4 3596.3,427.3 3598.5,430.2 3600.7,433.1 3602.9,436.0 3605.1,438.9 3607.3,441.8 3609.5,444.7 3611.7,447.6 3614.0,450.5 3616.2,453.4 3618.4,456.4 3620.6,459.3 3622.8,462.2 3625.0,465.2 3627.2,468.1 3629.4,471.1 3631.6,474.0 3633.9,477.0 3636.1,480.0 3638.3,482.9 3640.5,485.9 3642.7,488.9 3644.9,491.8 3647.1,494.8 3649.3,497.8 3651.5,500.8 3653.8,503.8 3656.0,506.8 3658.2,509.8 3660.4,512.8 3662.6,515.8 3664.8,518.8 3667.0,521.8 3669.2,524.8 3671.4,527.8 3673.7,530.8 3675.9,533.9 3678.1,536.9 3680.3,539.9 3682.5,542.9 3684.7,545.9 3686.9,549.0 3689.1,552.0 3691.4,555.0 3693.6,558.1 3695.8,561.1 3698.0,564.2 3700.2,567.2 3702.4,570.2 3704.6,573.3 3706.8,576.3 3709.0,579.4 3711.3,582.4 3713.5,585.5 3715.7,588.5 3717.9,591.6 3720.1,594.7 3722.3,597.7 3724.5,600.8 3726.7,603.8 3728.9,606.9 3731.2,610.0 3733.4,613.0 3735.6,616.1 3737.8,619.2 3740.0,622.2 3742.2,625.3 3744.4,628.4 3746.6,631.4 3748.8,634.5 3751.1,637.6 3753.3,640.7 3755.5,643.7 3757.7,646.8 3759.9,649.9 3762.1,653.0 3764.3,656.1 3766.5,659.2 3768.8,662.2 3771.0,665.3 3773.2,668.4 3775.4,671.5 3777.6,674.6 3779.8,677.7 3782.0,680.8 3784.2,683.8 3786.4,686.9 3788.7,690.0 3790.9,693.1 3793.1,696.2 3795.3,699.3 3797.5,702.4 3799.7,705.5 3801.9,708.6 3804.1,711.7 3806.3,714.8 3808.6,717.9 3810.8,721.0 3813.0,724.1 3815.2,727.2 3817.4,730.3 3819.6,733.4 3821.8,736.5 3824.0,739.6 3826.2,742.7 3828.5,745.8 3830.7,748.9 3832.9,752.0 3835.1,755.1 3837.3,758.2 3839.5,761.3 3841.7,764.4 3843.9,767.5 3846.1,770.6 3848.4,773.7 3850.6,776.8 3852.8,779.9 3855.0,783.0 3857.2,786.1 3859.4,789.3 3861.6,792.4 3863.8,795.5 3866.0,798.6 3868.3,801.7 3870.5,804.8" fill="none" stroke="#d3a226" stroke-width="5" stroke-linejoin="round" stroke-linecap="square"/><polyline points="2985.9,165.3 2986.8,166.5 2988.7,169.2 2990.5,171.8 2992.4,174.4 2994.3,177.1 2996.1,179.7 2998.0,182.3 2999.9,185.0 3001.8,187.6 3003.6,190.3 3005.8,193.4 3008.0,196.5 3010.3,199.6 3012.5,202.7 3014.7,205.8 3016.9,208.9 3019.1,212.0 3021.3,215.0 3023.5,218.0 3025.7,221.0 3027.9,224.0 3030.2,226.9 3032.4,229.7 3034.6,232.5 3036.8,235.2 3039.0,237.9 3041.2,240.5 3043.4,243.0 3045.6,245.4 3047.8,247.8 3050.1,250.0 3052.3,252.2 3054.5,254.4 3056.7,256.4 3058.9,258.4 3061.1,260.2 3063.3,262.0 3065.5,263.7 3067.7,265.3 3070.0,266.9 3072.2,268.3 3074.4,269.7 3076.6,271.0 3078.8,272.2 3081.0,273.3 3083.2,274.3 3085.4,275.3 3087.6,276.2 3089.9,277.0 3092.1,277.7 3094.3,278.3 3096.5,278.9 3098.7,279.4 3100.9,279.8 3103.1,280.1 3105.3,280.4 3107.6,280.6 3109.8,280.7 3112.0,280.8 3114.2,280.7 3116.4,280.7 3118.6,280.5 3120.8,280.3 3123.0,280.0 3125.2,279.6 3127.5,279.2 3129.7,278.7 3131.9,278.2 3134.1,277.6 3136.3,276.9 3138.5,276.2 3140.7,275.4 3142.9,274.6 3145.1,273.7 3147.4,272.8 3149.6,271.8 3151.8,270.7 3154.0,269.7 3156.2,268.5 3158.4,267.4 3160.6,266.1 3162.8,264.9 3165.0,263.6 3167.3,262.3 3169.5,260.9 3171.7,259.5 3173.9,258.0 3176.1,256.6 3178.3,255.1 3180.5,253.5 3182.7,252.0 3184.9,250.4 3187.2,248.8 3189.4,247.2 3191.6,245.5 3193.8,243.8 3196.0,242.2 3198.2,240.5 3200.4,238.7 3202.6,237.0 3204.9,235.3 3207.1,233.5 3209.3,231.8 3211.5,230.0 3213.7,228.3 3215.9,226.5 3218.1,224.8 3220.3,223.0 3222.5,221.2 3224.8,219.5 3227.0,217.8 3229.2,216.0 3231.4,214.3 3233.6,212.6 3235.8,210.9 3238.0,209.2 3240.2,207.5 3242.4,205.8 3244.7,204.2 3246.9,202.6 3249.1,201.0 3251.3,199.4 3253.5,197.8 3255.7,196.3 3257.9,194.8 3260.1,193.3 3262.3,191.9 3264.6,190.4 3266.8,189.0 3269.0,187.7 3271.2,186.3 3273.4,185.0 3275.6,183.8 3277.8,182.5 3280.0,181.3 3282.2,180.2 3284.5,179.0 3286.7,178.0 3288.9,176.9 3291.1,175.9 3293.3,174.9 3295.5,174.0 3297.7,173.1 3299.9,172.3 3302.2,171.5 3304.4,170.7 3306.6,170.0 3308.8,169.3 3311.0,168.7 3313.2,168.1 3315.4,167.6 3317.6,167.1 3319.8,166.6 3322.1,166.2 3324.3,165.8 3326.5,165.5 3328.7,165.2 3330.9,165.0 3333.1,164.8 3335.3,164.7 3337.5,164.6 3339.7,164.6 3342.0,164.6 3344.2,164.6 3346.4,164.7 3348.6,164.9 3350.8,165.1 3353.0,165.3 3355.2,165.6 3357.4,165.9 3359.6,166.3 3361.9,166.7 3364.1,167.1 3366.3,167.6 3368.5,168.2 3370.7,168.7 3372.9,169.4 3375.1,170.1 3377.3,170.8 3379.5,171.5 3381.8,172.3 3384.0,173.2 3386.2,174.0 3388.4,175.0 3390.6,175.9 3392.8,176.9 3395.0,178.0 3397.2,179.1 3399.5,180.2 3401.7,181.3 3403.9,182.5 3406.1,183.8 3408.3,185.0 3410.5,186.3 3412.7,187.7 3414.9,189.0 3417.1,190.4 3419.4,191.9 3421.6,193.4 3423.8,194.9 3426.0,196.4 3428.2,198.0 3430.4,199.6 3432.6,201.2 3434.8,202.9 3437.0,204.6 3439.3,206.3 3441.5,208.1 3443.7,209.9 3445.9,211.7 3448.1,213.6 3450.3,215.4 3452.5,217.3 3454.7,219.3 3456.9,221.2 3459.2,223.2 3461.4,225.2 3463.6,227.2 3465.8,229.3 3468.0,231.3 3470.2,233.4 3472.4,235.6 3474.6,237.7 3476.8,239.9 3479.1,242.1 3481.3,244.3 3483.5,246.5 3485.7,248.7 3487.9,251.0 3490.1,253.3 3492.3,255.6 3494.5,257.9 3496.8,260.3 3499.0,262.6 3501.2,265.0 3503.4,267.4 3505.6,269.8 3507.8,272.3 3510.0,274.7 3512.2,277.2 3514.4,279.7 3516.7,282.2 3518.9,284.7 3521.1,287.2 3523.3,289.7 3525.5,292.3 3527.7,294.8 3529.9,297.4 3532.1,300.0 3534.3,302.6 3536.6,305.2 3538.8,307.8 3541.0,310.5 3543.2,313.1 3545.4,315.8 3547.6,318.5 3549.8,321.2 3552.0,323.8 3554.2,326.5 3556.5,329.3 3558.7,332.0 3560.9,334.7 3563.1,337.5 3565.3,340.2 3567.5,343.0 3569.7,345.7 3571.9,348.5 3574.1,351.3 3576.4,354.1 3578.6,356.9 3580.8,359.7 3583.0,362.5 3585.2,365.3 3587.4,368.2 3589.6,371.0 3591.8,373.9 3594.1,376.7 3596.3,379.6 3598.5,382.4 3600.7,385.3 3602.9,388.2 3605.1,391.1 3607.3,393.9 3609.5,396.8 3611.7,399.7 3614.0,402.6 3616.2,405.6 3618.4,408.5 3620.6,411.4 3622.8,414.3 3625.0,417.2 3627.2,420.2 3629.4,423.1 3631.6,426.1 3633.9,429.0 3636.1,432.0 3638.3,434.9 3640.5,437.9 3642.7,440.8 3644.9,443.8 3647.1,446.8 3649.3,449.7 3651.5,452.7 3653.8,455.7 3656.0,458.7 3658.2,461.7 3660.4,464.7 3662.6,467.6 3664.8,470.6 3667.0,473.6 3669.2,476.6 3671.4,479.7 3673.7,482.7 3675.9,485.7 3678.1,488.7 3680.3,491.7 3682.5,494.7 3684.7,497.7 3686.9,500.8 3689.1,503.8 3691.4,506.8 3693.6,509.8 3695.8,512.9 3698.0,515.9 3700.2,518.9 3702.4,522.0 3704.6,525.0 3706.8,528.1 3709.0,531.1 3711.3,534.1 3713.5,537.2 3715.7,540.2 3717.9,543.3 3720.1,546.3 3722.3,549.4 3724.5,552.5 3726.7,555.5 3728.9,558.6 3731.2,561.6 3733.4,564.7 3735.6,567.8 3737.8,570.8 3740.0,573.9 3742.2,576.9 3744.4,580.0 3746.6,583.1 3748.8,586.2 3751.1,589.2 3753.3,592.3 3755.5,595.4 3757.7,598.4 3759.9,601.5 3762.1,604.6 3764.3,607.7 3766.5,610.8 3768.8,613.8 3771.0,616.9 3773.2,620.0 3775.4,623.1 3777.6,626.2 3779.8,629.3 3782.0,632.3 3784.2,635.4 3786.4,638.5 3788.7,641.6 3790.9,644.7 3793.1,647.8 3795.3,650.9 3797.5,654.0 3799.7,657.1 3801.9,660.1 3804.1,663.2 3806.3,666.3 3808.6,669.4 3810.8,672.5 3813.0,675.6 3815.2,678.7 3817.4,681.8 3819.6,684.9 3821.8,688.0 3824.0,691.1 3826.2,694.2 3828.5,697.3 3830.7,700.4 3832.9,703.5 3835.1,706.6 3837.3,709.7 3839.5,712.8 3841.7,715.9 3843.9,719.0 3846.1,722.1 3848.4,725.2 3850.6,728.4 3852.8,731.5 3855.0,734.6 3857.2,737.7 3859.4,740.8 3861.6,743.9 3863.8,747.0 3866.0,750.1 3868.3,753.2 3870.5,756.3" fill="none" stroke="#741c78" stroke-width="5" stroke-linejoin="round" stroke-dasharray="19 7.3"/><polyline points="2985.9,165.3 2986.8,166.5 2988.7,169.2 2990.5,171.8 2992.4,174.4 2994.3,177.1 2996.1,179.7 2998.0,182.3 2999.9,185.0 3001.8,187.6 3003.6,190.3 3005.8,193.4 3008.0,196.5 3010.3,199.6 3012.5,202.7 3014.7,205.8 3016.9,208.9 3019.1,211.9 3021.3,215.0 3023.5,218.0 3025.7,221.0 3027.9,223.9 3030.2,226.8 3032.4,229.6 3034.6,232.4 3036.8,235.1 3039.0,237.7 3041.2,240.2 3043.4,242.7 3045.6,245.1 3047.8,247.4 3050.1,249.6 3052.3,251.7 3054.5,253.8 3056.7,255.7 3058.9,257.6 3061.1,259.4 3063.3,261.0 3065.5,262.6 3067.7,264.1 3070.0,265.5 3072.2,266.9 3074.4,268.1 3076.6,269.2 3078.8,270.3 3081.0,271.3 3083.2,272.1 3085.4,272.9 3087.6,273.6 3089.9,274.3 3092.1,274.8 3094.3,275.2 3096.5,275.6 3098.7,275.9 3100.9,276.1 3103.1,276.2 3105.3,276.3 3107.6,276.2 3109.8,276.1 3112.0,275.9 3114.2,275.7 3116.4,275.3 3118.6,274.9 3120.8,274.4 3123.0,273.9 3125.2,273.2 3127.5,272.5 3129.7,271.8 3131.9,271.0 3134.1,270.1 3136.3,269.1 3138.5,268.1 3140.7,267.0 3142.9,265.9 3145.1,264.7 3147.4,263.4 3149.6,262.1 3151.8,260.8 3154.0,259.4 3156.2,257.9 3158.4,256.4 3160.6,254.9 3162.8,253.3 3165.0,251.6 3167.3,249.9 3169.5,248.2 3171.7,246.5 3173.9,244.7 3176.1,242.8 3178.3,241.0 3180.5,239.1 3182.7,237.2 3184.9,235.2 3187.2,233.2 3189.4,231.2 3191.6,229.2 3193.8,227.2 3196.0,225.1 3198.2,223.1 3200.4,221.0 3202.6,218.9 3204.9,216.8 3207.1,214.6 3209.3,212.5 3211.5,210.4 3213.7,208.2 3215.9,206.1 3218.1,204.0 3220.3,201.8 3222.5,199.7 3224.8,197.6 3227.0,195.4 3229.2,193.3 3231.4,191.2 3233.6,189.1 3235.8,187.1 3238.0,185.0 3240.2,182.9 3242.4,180.9 3244.7,178.9 3246.9,176.9 3249.1,174.9 3251.3,173.0 3253.5,171.1 3255.7,169.2 3257.9,167.3 3260.1,165.5 3262.3,163.7 3264.6,161.9 3266.8,160.1 3269.0,158.4 3271.2,156.8 3273.4,155.1 3275.6,153.5 3277.8,151.9 3280.0,150.4 3282.2,148.9 3284.5,147.5 3286.7,146.0 3288.9,144.7 3291.1,143.3 3293.3,142.1 3295.5,140.8 3297.7,139.6 3299.9,138.5 3302.2,137.4 3304.4,136.3 3306.6,135.3 3308.8,134.3 3311.0,133.4 3313.2,132.5 3315.4,131.7 3317.6,130.9 3319.8,130.2 3322.1,129.5 3324.3,128.9 3326.5,128.3 3328.7,127.7 3330.9,127.3 3333.1,126.8 3335.3,126.4 3337.5,126.1 3339.7,125.8 3342.0,125.6 3344.2,125.4 3346.4,125.3 3348.6,125.2 3350.8,125.1 3353.0,125.1 3355.2,125.2 3357.4,125.3 3359.6,125.4 3361.9,125.6 3364.1,125.9 3366.3,126.2 3368.5,126.5 3370.7,126.9 3372.9,127.4 3375.1,127.8 3377.3,128.4 3379.5,128.9 3381.8,129.6 3384.0,130.2 3386.2,130.9 3388.4,131.7 3390.6,132.5 3392.8,133.3 3395.0,134.2 3397.2,135.1 3399.5,136.1 3401.7,137.1 3403.9,138.1 3406.1,139.2 3408.3,140.3 3410.5,141.5 3412.7,142.7 3414.9,143.9 3417.1,145.2 3419.4,146.5 3421.6,147.9 3423.8,149.3 3426.0,150.7 3428.2,152.2 3430.4,153.6 3432.6,155.2 3434.8,156.7 3437.0,158.3 3439.3,159.9 3441.5,161.6 3443.7,163.3 3445.9,165.0 3448.1,166.7 3450.3,168.5 3452.5,170.3 3454.7,172.2 3456.9,174.0 3459.2,175.9 3461.4,177.8 3463.6,179.8 3465.8,181.7 3468.0,183.7 3470.2,185.7 3472.4,187.8 3474.6,189.9 3476.8,191.9 3479.1,194.1 3481.3,196.2 3483.5,198.4 3485.7,200.5 3487.9,202.7 3490.1,205.0 3492.3,207.2 3494.5,209.5 3496.8,211.8 3499.0,214.1 3501.2,216.4 3503.4,218.7 3505.6,221.1 3507.8,223.5 3510.0,225.9 3512.2,228.3 3514.4,230.7 3516.7,233.1 3518.9,235.6 3521.1,238.1 3523.3,240.6 3525.5,243.1 3527.7,245.6 3529.9,248.1 3532.1,250.7 3534.3,253.2 3536.6,255.8 3538.8,258.4 3541.0,261.0 3543.2,263.6 3545.4,266.3 3547.6,268.9 3549.8,271.5 3552.0,274.2 3554.2,276.9 3556.5,279.6 3558.7,282.2 3560.9,284.9 3563.1,287.7 3565.3,290.4 3567.5,293.1 3569.7,295.9 3571.9,298.6 3574.1,301.4 3576.4,304.1 3578.6,306.9 3580.8,309.7 3583.0,312.5 3585.2,315.3 3587.4,318.1 3589.6,320.9 3591.8,323.7 3594.1,326.6 3596.3,329.4 3598.5,332.2 3600.7,335.1 3602.9,338.0 3605.1,340.8 3607.3,343.7 3609.5,346.6 3611.7,349.4 3614.0,352.3 3616.2,355.2 3618.4,358.1 3620.6,361.0 3622.8,363.9 3625.0,366.9 3627.2,369.8 3629.4,372.7 3631.6,375.6 3633.9,378.6 3636.1,381.5 3638.3,384.4 3640.5,387.4 3642.7,390.3 3644.9,393.3 3647.1,396.2 3649.3,399.2 3651.5,402.2 3653.8,405.1 3656.0,408.1 3658.2,411.1 3660.4,414.1 3662.6,417.1 3664.8,420.0 3667.0,423.0 3669.2,426.0 3671.4,429.0 3673.7,432.0 3675.9,435.0 3678.1,438.0 3680.3,441.0 3682.5,444.0 3684.7,447.1 3686.9,450.1 3689.1,453.1 3691.4,456.1 3693.6,459.1 3695.8,462.2 3698.0,465.2 3700.2,468.2 3702.4,471.2 3704.6,474.3 3706.8,477.3 3709.0,480.3 3711.3,483.4 3713.5,486.4 3715.7,489.5 3717.9,492.5 3720.1,495.6 3722.3,498.6 3724.5,501.7 3726.7,504.7 3728.9,507.8 3731.2,510.8 3733.4,513.9 3735.6,516.9 3737.8,520.0 3740.0,523.0 3742.2,526.1 3744.4,529.2 3746.6,532.2 3748.8,535.3 3751.1,538.4 3753.3,541.4 3755.5,544.5 3757.7,547.6 3759.9,550.7 3762.1,553.7 3764.3,556.8 3766.5,559.9 3768.8,563.0 3771.0,566.0 3773.2,569.1 3775.4,572.2 3777.6,575.3 3779.8,578.4 3782.0,581.4 3784.2,584.5 3786.4,587.6 3788.7,590.7 3790.9,593.8 3793.1,596.9 3795.3,600.0 3797.5,603.0 3799.7,606.1 3801.9,609.2 3804.1,612.3 3806.3,615.4 3808.6,618.5 3810.8,621.6 3813.0,624.7 3815.2,627.8 3817.4,630.9 3819.6,634.0 3821.8,637.1 3824.0,640.2 3826.2,643.3 3828.5,646.4 3830.7,649.5 3832.9,652.6 3835.1,655.7 3837.3,658.8 3839.5,661.9 3841.7,665.0 3843.9,668.1 3846.1,671.2 3848.4,674.3 3850.6,677.4 3852.8,680.5 3855.0,683.6 3857.2,686.7 3859.4,689.8 3861.6,692.9 3863.8,696.0 3866.0,699.1 3868.3,702.3 3870.5,705.4" fill="none" stroke="#127d3d" stroke-width="5" stroke-linejoin="round" stroke-linecap="square"/><polyline points="2985.9,165.3 2986.8,166.5 2988.7,169.2 2990.5,171.8 2992.4,174.4 2994.3,177.1 2996.1,179.7 2998.0,182.3 2999.9,185.0 3001.8,187.6 3003.6,190.3 3005.8,193.4 3008.0,196.5 3010.3,199.6 3012.5,202.7 3014.7,205.8 3016.9,208.9 3019.1,211.9 3021.3,215.0 3023.5,218.0 3025.7,221.0 3027.9,223.9 3030.2,226.7 3032.4,229.5 3034.6,232.3 3036.8,234.9 3039.0,237.5 3041.2,240.0 3043.4,242.4 3045.6,244.8 3047.8,247.0 3050.1,249.2 3052.3,251.2 3054.5,253.2 3056.7,255.1 3058.9,256.8 3061.1,258.5 3063.3,260.1 3065.5,261.6 3067.7,263.0 3070.0,264.3 3072.2,265.5 3074.4,266.6 3076.6,267.6 3078.8,268.5 3081.0,269.3 3083.2,270.0 3085.4,270.6 3087.6,271.2 3089.9,271.6 3092.1,272.0 3094.3,272.2 3096.5,272.4 3098.7,272.5 3100.9,272.5 3103.1,272.4 3105.3,272.2 3107.6,272.0 3109.8,271.6 3112.0,271.2 3114.2,270.7 3116.4,270.1 3118.6,269.5 3120.8,268.7 3123.0,267.9 3125.2,267.0 3127.5,266.1 3129.7,265.0 3131.9,263.9 3134.1,262.7 3136.3,261.5 3138.5,260.2 3140.7,258.8 3142.9,257.4 3145.1,255.9 3147.4,254.3 3149.6,252.7 3151.8,251.0 3154.0,249.3 3156.2,247.5 3158.4,245.7 3160.6,243.8 3162.8,241.9 3165.0,239.9 3167.3,237.9 3169.5,235.9 3171.7,233.8 3173.9,231.6 3176.1,229.4 3178.3,227.2 3180.5,225.0 3182.7,222.7 3184.9,220.4 3187.2,218.1 3189.4,215.7 3191.6,213.3 3193.8,210.9 3196.0,208.5 3198.2,206.1 3200.4,203.6 3202.6,201.2 3204.9,198.7 3207.1,196.2 3209.3,193.7 3211.5,191.2 3213.7,188.7 3215.9,186.2 3218.1,183.7 3220.3,181.2 3222.5,178.7 3224.8,176.2 3227.0,173.7 3229.2,171.2 3231.4,168.7 3233.6,166.3 3235.8,163.8 3238.0,161.4 3240.2,159.0 3242.4,156.6 3244.7,154.2 3246.9,151.9 3249.1,149.6 3251.3,147.3 3253.5,145.0 3255.7,142.7 3257.9,140.5 3260.1,138.3 3262.3,136.2 3264.6,134.0 3266.8,132.0 3269.0,129.9 3271.2,127.9 3273.4,125.9 3275.6,124.0 3277.8,122.1 3280.0,120.2 3282.2,118.4 3284.5,116.6 3286.7,114.9 3288.9,113.2 3291.1,111.6 3293.3,110.0 3295.5,108.4 3297.7,106.9 3299.9,105.5 3302.2,104.1 3304.4,102.7 3306.6,101.4 3308.8,100.2 3311.0,98.9 3313.2,97.8 3315.4,96.7 3317.6,95.6 3319.8,94.6 3322.1,93.7 3324.3,92.8 3326.5,92.0 3328.7,91.2 3330.9,90.4 3333.1,89.7 3335.3,89.1 3337.5,88.5 3339.7,88.0 3342.0,87.5 3344.2,87.1 3346.4,86.7 3348.6,86.4 3350.8,86.2 3353.0,85.9 3355.2,85.8 3357.4,85.7 3359.6,85.6 3361.9,85.6 3364.1,85.7 3366.3,85.8 3368.5,85.9 3370.7,86.1 3372.9,86.4 3375.1,86.7 3377.3,87.0 3379.5,87.4 3381.8,87.8 3384.0,88.3 3386.2,88.9 3388.4,89.5 3390.6,90.1 3392.8,90.8 3395.0,91.5 3397.2,92.3 3399.5,93.1 3401.7,93.9 3403.9,94.8 3406.1,95.8 3408.3,96.8 3410.5,97.8 3412.7,98.8 3414.9,100.0 3417.1,101.1 3419.4,102.3 3421.6,103.5 3423.8,104.8 3426.0,106.1 3428.2,107.4 3430.4,108.8 3432.6,110.2 3434.8,111.7 3437.0,113.1 3439.3,114.7 3441.5,116.2 3443.7,117.8 3445.9,119.4 3448.1,121.1 3450.3,122.7 3452.5,124.5 3454.7,126.2 3456.9,128.0 3459.2,129.8 3461.4,131.6 3463.6,133.5 3465.8,135.3 3468.0,137.3 3470.2,139.2 3472.4,141.2 3474.6,143.2 3476.8,145.2 3479.1,147.2 3481.3,149.3 3483.5,151.4 3485.7,153.5 3487.9,155.6 3490.1,157.8 3492.3,160.0 3494.5,162.2 3496.8,164.4 3499.0,166.7 3501.2,168.9 3503.4,171.2 3505.6,173.5 3507.8,175.9 3510.0,178.2 3512.2,180.6 3514.4,182.9 3516.7,185.3 3518.9,187.8 3521.1,190.2 3523.3,192.6 3525.5,195.1 3527.7,197.6 3529.9,200.1 3532.1,202.6 3534.3,205.1 3536.6,207.6 3538.8,210.2 3541.0,212.7 3543.2,215.3 3545.4,217.9 3547.6,220.5 3549.8,223.1 3552.0,225.8 3554.2,228.4 3556.5,231.1 3558.7,233.7 3560.9,236.4 3563.1,239.1 3565.3,241.8 3567.5,244.5 3569.7,247.2 3571.9,249.9 3574.1,252.6 3576.4,255.4 3578.6,258.1 3580.8,260.9 3583.0,263.7 3585.2,266.5 3587.4,269.2 3589.6,272.0 3591.8,274.8 3594.1,277.6 3596.3,280.5 3598.5,283.3 3600.7,286.1 3602.9,289.0 3605.1,291.8 3607.3,294.7 3609.5,297.5 3611.7,300.4 3614.0,303.2 3616.2,306.1 3618.4,309.0 3620.6,311.9 3622.8,314.8 3625.0,317.7 3627.2,320.6 3629.4,323.5 3631.6,326.4 3633.9,329.3 3636.1,332.3 3638.3,335.2 3640.5,338.1 3642.7,341.1 3644.9,344.0 3647.1,347.0 3649.3,349.9 3651.5,352.9 3653.8,355.8 3656.0,358.8 3658.2,361.7 3660.4,364.7 3662.6,367.7 3664.8,370.7 3667.0,373.6 3669.2,376.6 3671.4,379.6 3673.7,382.6 3675.9,385.6 3678.1,388.6 3680.3,391.6 3682.5,394.6 3684.7,397.6 3686.9,400.6 3689.1,403.6 3691.4,406.6 3693.6,409.6 3695.8,412.7 3698.0,415.7 3700.2,418.7 3702.4,421.7 3704.6,424.8 3706.8,427.8 3709.0,430.8 3711.3,433.9 3713.5,436.9 3715.7,439.9 3717.9,443.0 3720.1,446.0 3722.3,449.1 3724.5,452.1 3726.7,455.1 3728.9,458.2 3731.2,461.2 3733.4,464.3 3735.6,467.3 3737.8,470.4 3740.0,473.5 3742.2,476.5 3744.4,479.6 3746.6,482.6 3748.8,485.7 3751.1,488.8 3753.3,491.8 3755.5,494.9 3757.7,498.0 3759.9,501.0 3762.1,504.1 3764.3,507.2 3766.5,510.2 3768.8,513.3 3771.0,516.4 3773.2,519.5 3775.4,522.5 3777.6,525.6 3779.8,528.7 3782.0,531.8 3784.2,534.9 3786.4,537.9 3788.7,541.0 3790.9,544.1 3793.1,547.2 3795.3,550.3 3797.5,553.4 3799.7,556.5 3801.9,559.5 3804.1,562.6 3806.3,565.7 3808.6,568.8 3810.8,571.9 3813.0,575.0 3815.2,578.1 3817.4,581.2 3819.6,584.3 3821.8,587.4 3824.0,590.5 3826.2,593.6 3828.5,596.7 3830.7,599.8 3832.9,602.9 3835.1,606.0 3837.3,609.1 3839.5,612.2 3841.7,615.3 3843.9,618.4 3846.1,621.5 3848.4,624.6 3850.6,627.7 3852.8,630.8 3855.0,633.9 3857.2,637.0 3859.4,640.1 3861.6,643.2 3863.8,646.3 3866.0,649.4 3868.3,652.5 3870.5,655.6" fill="none" stroke="#e5161f" stroke-width="5" stroke-linejoin="round" stroke-linecap="square"/><line x1="2985.93" y1="165.28" x2="3870.47" y2="165.28" stroke="#231815" stroke-width="4.6" stroke-dasharray="5.5 7.71"/></g>
<rect x="2939.35" y="13.10" width="977.70" height="4.70" fill="#231815"/>
<rect x="2939.35" y="912.10" width="977.70" height="4.70" fill="#231815"/>
<rect x="2939.35" y="13.10" width="4.70" height="903.70" fill="#231815"/>
<rect x="3912.35" y="13.10" width="4.70" height="903.70" fill="#231815"/>
<rect x="2983.58" y="896.95" width="4.70" height="17.50" fill="#231815"/>
<rect x="2983.58" y="15.45" width="4.70" height="17.50" fill="#231815"/>
<rect x="3160.49" y="896.95" width="4.70" height="17.50" fill="#231815"/>
<rect x="3160.49" y="15.45" width="4.70" height="17.50" fill="#231815"/>
<rect x="3337.40" y="896.95" width="4.70" height="17.50" fill="#231815"/>
<rect x="3337.40" y="15.45" width="4.70" height="17.50" fill="#231815"/>
<rect x="3514.30" y="896.95" width="4.70" height="17.50" fill="#231815"/>
<rect x="3514.30" y="15.45" width="4.70" height="17.50" fill="#231815"/>
<rect x="3691.21" y="896.95" width="4.70" height="17.50" fill="#231815"/>
<rect x="3691.21" y="15.45" width="4.70" height="17.50" fill="#231815"/>
<rect x="3868.12" y="896.95" width="4.70" height="17.50" fill="#231815"/>
<rect x="3868.12" y="15.45" width="4.70" height="17.50" fill="#231815"/>
<rect x="2941.70" y="38.07" width="17.50" height="4.70" fill="#231815"/>
<rect x="3897.20" y="38.07" width="17.50" height="4.70" fill="#231815"/>
<rect x="2941.70" y="162.93" width="17.50" height="4.70" fill="#231815"/>
<rect x="3897.20" y="162.93" width="17.50" height="4.70" fill="#231815"/>
<rect x="2941.70" y="287.79" width="17.50" height="4.70" fill="#231815"/>
<rect x="3897.20" y="287.79" width="17.50" height="4.70" fill="#231815"/>
<rect x="2941.70" y="412.66" width="17.50" height="4.70" fill="#231815"/>
<rect x="3897.20" y="412.66" width="17.50" height="4.70" fill="#231815"/>
<rect x="2941.70" y="537.52" width="17.50" height="4.70" fill="#231815"/>
<rect x="3897.20" y="537.52" width="17.50" height="4.70" fill="#231815"/>
<rect x="2941.70" y="662.38" width="17.50" height="4.70" fill="#231815"/>
<rect x="3897.20" y="662.38" width="17.50" height="4.70" fill="#231815"/>
<rect x="2941.70" y="787.24" width="17.50" height="4.70" fill="#231815"/>
<rect x="3897.20" y="787.24" width="17.50" height="4.70" fill="#231815"/>
<rect x="2941.70" y="912.10" width="17.50" height="4.70" fill="#231815"/>
<rect x="3897.20" y="912.10" width="17.50" height="4.70" fill="#231815"/>
<text transform="translate(2828.47,59.30) scale(1.1434,1)" font-size="58.01" font-style="normal" fill="#000">0.1</text>
<text transform="translate(2880.85,184.41) scale(1.1032,1)" font-size="58.39" font-style="normal" fill="#000">0</text>
<text transform="translate(2828.47,309.02) scale(1.1434,1)" font-size="58.01" font-style="normal" fill="#000">0.1</text>
<rect x="2779.60" y="292.74" width="38.80" height="2.80" fill="#000"/>
<text transform="translate(2828.38,433.88) scale(1.1863,1)" font-size="58.01" font-style="normal" fill="#000">0.2</text>
<rect x="2779.60" y="417.61" width="38.80" height="2.80" fill="#000"/>
<text transform="translate(2828.42,558.75) scale(1.1700,1)" font-size="58.01" font-style="normal" fill="#000">0.3</text>
<rect x="2779.60" y="542.47" width="38.80" height="2.80" fill="#000"/>
<text transform="translate(2828.44,683.61) scale(1.1571,1)" font-size="58.01" font-style="normal" fill="#000">0.4</text>
<rect x="2779.60" y="667.33" width="38.80" height="2.80" fill="#000"/>
<text transform="translate(2828.42,808.47) scale(1.1700,1)" font-size="58.01" font-style="normal" fill="#000">0.5</text>
<rect x="2779.60" y="792.19" width="38.80" height="2.80" fill="#000"/>
<text transform="translate(2828.44,933.33) scale(1.1608,1)" font-size="58.01" font-style="normal" fill="#000">0.6</text>
<rect x="2779.60" y="917.05" width="38.80" height="2.80" fill="#000"/>
<text transform="translate(2963.15,970.23) scale(1.1097,1)" font-size="58.68" font-style="normal" fill="#231815">0</text>
<text transform="translate(3123.21,969.97) scale(1.1832,1)" font-size="58.30" font-style="normal" fill="#231815">0.2</text>
<text transform="translate(3300.20,969.97) scale(1.1441,1)" font-size="58.30" font-style="normal" fill="#231815">0.4</text>
<text transform="translate(3477.08,969.97) scale(1.1578,1)" font-size="58.30" font-style="normal" fill="#231815">0.6</text>
<text transform="translate(3653.97,969.97) scale(1.1660,1)" font-size="58.30" font-style="normal" fill="#231815">0.8</text>
<text transform="translate(3830.55,969.97) scale(1.1551,1)" font-size="58.30" font-style="normal" fill="#231815">1.0</text>
<text transform="translate(3414.53,1044.92) scale(1.3730,1)" font-size="56.27" font-style="italic" fill="#231815">f</text>
<g transform="rotate(-90)"><text transform="translate(-571.85,2730.48) scale(1.1212,1)" font-size="59.23" font-style="italic" fill="#231815">D</text><text transform="translate(-517.17,2731.47) scale(0.9710,1)" font-size="64.96" font-style="normal" fill="#231815">(</text><text transform="translate(-491.37,2729.21) scale(1.3837,1)" font-size="55.83" font-style="italic" fill="#231815">f</text><text transform="translate(-462.34,2731.47) scale(0.9291,1)" font-size="64.96" font-style="normal" fill="#231815">)</text></g>
<g clip-path="url(#clipd)"><polyline points="394.7,1316.8 395.6,1318.0 397.5,1320.7 399.3,1323.3 401.2,1325.9 403.1,1328.6 404.9,1331.2 406.8,1333.8 408.7,1336.5 410.6,1339.1 412.4,1341.8 414.6,1344.9 416.8,1348.0 419.1,1351.1 421.3,1354.2 423.5,1357.4 425.7,1360.5 427.9,1363.6 430.1,1366.7 432.3,1369.8 434.5,1373.0 436.7,1376.1 439.0,1379.2 441.2,1382.3 443.4,1385.4 445.6,1388.5 447.8,1391.7 450.0,1394.8 452.2,1397.9 454.4,1401.0 456.6,1404.1 458.9,1407.2 461.1,1410.3 463.3,1413.4 465.5,1416.4 467.7,1419.5 469.9,1422.6 472.1,1425.7 474.3,1428.7 476.5,1431.8 478.8,1434.8 481.0,1437.9 483.2,1440.9 485.4,1443.9 487.6,1447.0 489.8,1450.0 492.0,1452.9 494.2,1455.9 496.4,1458.9 498.7,1461.9 500.9,1464.8 503.1,1467.7 505.3,1470.6 507.5,1473.5 509.7,1476.4 511.9,1479.3 514.1,1482.1 516.4,1484.9 518.6,1487.7 520.8,1490.5 523.0,1493.3 525.2,1496.0 527.4,1498.7 529.6,1501.4 531.8,1504.1 534.0,1506.7 536.3,1509.3 538.5,1511.9 540.7,1514.5 542.9,1517.0 545.1,1519.5 547.3,1522.0 549.5,1524.4 551.7,1526.8 553.9,1529.2 556.2,1531.5 558.4,1533.8 560.6,1536.1 562.8,1538.3 565.0,1540.5 567.2,1542.7 569.4,1544.8 571.6,1546.9 573.8,1548.9 576.1,1550.9 578.3,1552.9 580.5,1554.8 582.7,1556.6 584.9,1558.5 587.1,1560.2 589.3,1562.0 591.5,1563.6 593.8,1565.3 596.0,1566.9 598.2,1568.4 600.4,1569.9 602.6,1571.3 604.8,1572.7 607.0,1574.1 609.2,1575.3 611.4,1576.6 613.7,1577.8 615.9,1578.9 618.1,1580.0 620.3,1581.0 622.5,1581.9 624.7,1582.9 626.9,1583.7 629.1,1584.5 631.3,1585.3 633.6,1585.9 635.8,1586.6 638.0,1587.1 640.2,1587.7 642.4,1588.1 644.6,1588.5 646.8,1588.9 649.0,1589.2 651.2,1589.4 653.5,1589.6 655.7,1589.7 657.9,1589.7 660.1,1589.7 662.3,1589.7 664.5,1589.6 666.7,1589.4 668.9,1589.1 671.1,1588.9 673.4,1588.5 675.6,1588.1 677.8,1587.7 680.0,1587.1 682.2,1586.6 684.4,1585.9 686.6,1585.3 688.8,1584.5 691.0,1583.7 693.3,1582.9 695.5,1582.0 697.7,1581.1 699.9,1580.1 702.1,1579.0 704.3,1577.9 706.5,1576.8 708.7,1575.6 711.0,1574.3 713.2,1573.0 715.4,1571.7 717.6,1570.3 719.8,1568.9 722.0,1567.4 724.2,1565.9 726.4,1564.3 728.6,1562.7 730.9,1561.1 733.1,1559.4 735.3,1557.7 737.5,1556.0 739.7,1554.2 741.9,1552.3 744.1,1550.5 746.3,1548.6 748.5,1546.7 750.8,1544.7 753.0,1542.8 755.2,1540.8 757.4,1538.7 759.6,1536.7 761.8,1534.6 764.0,1532.5 766.2,1530.4 768.4,1528.3 770.7,1526.1 772.9,1523.9 775.1,1521.7 777.3,1519.5 779.5,1517.3 781.7,1515.1 783.9,1512.9 786.1,1510.6 788.3,1508.4 790.6,1506.1 792.8,1503.8 795.0,1501.6 797.2,1499.3 799.4,1497.1 801.6,1494.8 803.8,1492.5 806.0,1490.3 808.3,1488.0 810.5,1485.8 812.7,1483.6 814.9,1481.3 817.1,1479.1 819.3,1476.9 821.5,1474.7 823.7,1472.6 825.9,1470.4 828.2,1468.3 830.4,1466.1 832.6,1464.0 834.8,1462.0 837.0,1459.9 839.2,1457.9 841.4,1455.9 843.6,1453.9 845.8,1451.9 848.1,1450.0 850.3,1448.1 852.5,1446.2 854.7,1444.4 856.9,1442.6 859.1,1440.8 861.3,1439.1 863.5,1437.4 865.7,1435.8 868.0,1434.1 870.2,1432.6 872.4,1431.0 874.6,1429.5 876.8,1428.0 879.0,1426.6 881.2,1425.2 883.4,1423.9 885.6,1422.6 887.9,1421.4 890.1,1420.2 892.3,1419.0 894.5,1417.9 896.7,1416.8 898.9,1415.8 901.1,1414.8 903.3,1413.9 905.6,1413.0 907.8,1412.2 910.0,1411.4 912.2,1410.7 914.4,1410.0 916.6,1409.4 918.8,1408.8 921.0,1408.3 923.2,1407.9 925.5,1407.4 927.7,1407.1 929.9,1406.7 932.1,1406.5 934.3,1406.3 936.5,1406.1 938.7,1406.0 940.9,1405.9 943.1,1405.9 945.4,1406.0 947.6,1406.0 949.8,1406.2 952.0,1406.4 954.2,1406.6 956.4,1406.9 958.6,1407.3 960.8,1407.7 963.0,1408.1 965.3,1408.6 967.5,1409.1 969.7,1409.7 971.9,1410.4 974.1,1411.1 976.3,1411.8 978.5,1412.6 980.7,1413.4 982.9,1414.3 985.2,1415.2 987.4,1416.2 989.6,1417.2 991.8,1418.3 994.0,1419.4 996.2,1420.6 998.4,1421.8 1000.6,1423.0 1002.9,1424.3 1005.1,1425.6 1007.3,1427.0 1009.5,1428.4 1011.7,1429.8 1013.9,1431.3 1016.1,1432.8 1018.3,1434.4 1020.5,1436.0 1022.8,1437.6 1025.0,1439.3 1027.2,1441.0 1029.4,1442.8 1031.6,1444.6 1033.8,1446.4 1036.0,1448.2 1038.2,1450.1 1040.4,1452.0 1042.7,1454.0 1044.9,1456.0 1047.1,1458.0 1049.3,1460.0 1051.5,1462.1 1053.7,1464.2 1055.9,1466.4 1058.1,1468.5 1060.3,1470.7 1062.6,1472.9 1064.8,1475.2 1067.0,1477.4 1069.2,1479.7 1071.4,1482.0 1073.6,1484.4 1075.8,1486.8 1078.0,1489.1 1080.2,1491.6 1082.5,1494.0 1084.7,1496.4 1086.9,1498.9 1089.1,1501.4 1091.3,1503.9 1093.5,1506.5 1095.7,1509.0 1097.9,1511.6 1100.2,1514.2 1102.4,1516.8 1104.6,1519.4 1106.8,1522.1 1109.0,1524.7 1111.2,1527.4 1113.4,1530.1 1115.6,1532.8 1117.8,1535.5 1120.1,1538.3 1122.3,1541.0 1124.5,1543.8 1126.7,1546.6 1128.9,1549.3 1131.1,1552.1 1133.3,1555.0 1135.5,1557.8 1137.7,1560.6 1140.0,1563.5 1142.2,1566.3 1144.4,1569.2 1146.6,1572.0 1148.8,1574.9 1151.0,1577.8 1153.2,1580.7 1155.4,1583.6 1157.6,1586.6 1159.9,1589.5 1162.1,1592.4 1164.3,1595.4 1166.5,1598.3 1168.7,1601.3 1170.9,1604.2 1173.1,1607.2 1175.3,1610.2 1177.5,1613.1 1179.8,1616.1 1182.0,1619.1 1184.2,1622.1 1186.4,1625.1 1188.6,1628.1 1190.8,1631.1 1193.0,1634.2 1195.2,1637.2 1197.5,1640.2 1199.7,1643.2 1201.9,1646.3 1204.1,1649.3 1206.3,1652.4 1208.5,1655.4 1210.7,1658.5 1212.9,1661.5 1215.1,1664.6 1217.4,1667.6 1219.6,1670.7 1221.8,1673.7 1224.0,1676.8 1226.2,1679.9 1228.4,1682.9 1230.6,1686.0 1232.8,1689.1 1235.0,1692.2 1237.3,1695.3 1239.5,1698.3 1241.7,1701.4 1243.9,1704.5 1246.1,1707.6 1248.3,1710.7 1250.5,1713.8 1252.7,1716.9 1254.9,1720.0 1257.2,1723.1 1259.4,1726.2 1261.6,1729.2 1263.8,1732.3 1266.0,1735.4 1268.2,1738.5 1270.4,1741.7 1272.6,1744.8 1274.8,1747.9 1277.1,1751.0 1279.3,1754.1" fill="none" stroke="#20295a" stroke-width="5" stroke-linejoin="round" stroke-linecap="square"/><polyline points="394.7,1316.8 395.6,1318.0 397.5,1320.7 399.3,1323.3 401.2,1325.9 403.1,1328.6 404.9,1331.2 406.8,1333.8 408.7,1336.5 410.6,1339.1 412.4,1341.8 414.6,1344.9 416.8,1348.0 419.1,1351.1 421.3,1354.2 423.5,1357.4 425.7,1360.5 427.9,1363.6 430.1,1366.7 432.3,1369.8 434.5,1373.0 436.7,1376.1 439.0,1379.2 441.2,1382.3 443.4,1385.4 445.6,1388.5 447.8,1391.6 450.0,1394.8 452.2,1397.9 454.4,1401.0 456.6,1404.1 458.9,1407.2 461.1,1410.3 463.3,1413.4 465.5,1416.4 467.7,1419.5 469.9,1422.6 472.1,1425.7 474.3,1428.7 476.5,1431.8 478.8,1434.8 481.0,1437.8 483.2,1440.9 485.4,1443.9 487.6,1446.9 489.8,1449.9 492.0,1452.9 494.2,1455.8 496.4,1458.8 498.7,1461.8 500.9,1464.7 503.1,1467.6 505.3,1470.5 507.5,1473.4 509.7,1476.2 511.9,1479.1 514.1,1481.9 516.4,1484.7 518.6,1487.5 520.8,1490.3 523.0,1493.0 525.2,1495.7 527.4,1498.4 529.6,1501.1 531.8,1503.7 534.0,1506.3 536.3,1508.9 538.5,1511.5 540.7,1514.0 542.9,1516.5 545.1,1518.9 547.3,1521.4 549.5,1523.8 551.7,1526.1 553.9,1528.4 556.2,1530.7 558.4,1533.0 560.6,1535.2 562.8,1537.4 565.0,1539.5 567.2,1541.6 569.4,1543.7 571.6,1545.7 573.8,1547.6 576.1,1549.6 578.3,1551.4 580.5,1553.3 582.7,1555.1 584.9,1556.8 587.1,1558.5 589.3,1560.1 591.5,1561.7 593.8,1563.3 596.0,1564.8 598.2,1566.2 600.4,1567.6 602.6,1568.9 604.8,1570.2 607.0,1571.4 609.2,1572.6 611.4,1573.7 613.7,1574.8 615.9,1575.8 618.1,1576.8 620.3,1577.6 622.5,1578.5 624.7,1579.3 626.9,1580.0 629.1,1580.6 631.3,1581.2 633.6,1581.8 635.8,1582.2 638.0,1582.7 640.2,1583.0 642.4,1583.3 644.6,1583.5 646.8,1583.7 649.0,1583.8 651.2,1583.9 653.5,1583.9 655.7,1583.8 657.9,1583.7 660.1,1583.5 662.3,1583.2 664.5,1582.9 666.7,1582.5 668.9,1582.1 671.1,1581.6 673.4,1581.0 675.6,1580.4 677.8,1579.7 680.0,1579.0 682.2,1578.2 684.4,1577.3 686.6,1576.4 688.8,1575.5 691.0,1574.4 693.3,1573.3 695.5,1572.2 697.7,1571.0 699.9,1569.8 702.1,1568.4 704.3,1567.1 706.5,1565.7 708.7,1564.2 711.0,1562.7 713.2,1561.1 715.4,1559.5 717.6,1557.9 719.8,1556.2 722.0,1554.4 724.2,1552.6 726.4,1550.8 728.6,1548.9 730.9,1546.9 733.1,1545.0 735.3,1542.9 737.5,1540.9 739.7,1538.8 741.9,1536.7 744.1,1534.5 746.3,1532.3 748.5,1530.1 750.8,1527.8 753.0,1525.6 755.2,1523.2 757.4,1520.9 759.6,1518.5 761.8,1516.1 764.0,1513.7 766.2,1511.3 768.4,1508.8 770.7,1506.3 772.9,1503.8 775.1,1501.3 777.3,1498.8 779.5,1496.2 781.7,1493.7 783.9,1491.1 786.1,1488.5 788.3,1486.0 790.6,1483.4 792.8,1480.8 795.0,1478.2 797.2,1475.6 799.4,1473.0 801.6,1470.4 803.8,1467.8 806.0,1465.2 808.3,1462.6 810.5,1460.1 812.7,1457.5 814.9,1455.0 817.1,1452.4 819.3,1449.9 821.5,1447.4 823.7,1444.9 825.9,1442.4 828.2,1439.9 830.4,1437.5 832.6,1435.1 834.8,1432.7 837.0,1430.3 839.2,1427.9 841.4,1425.6 843.6,1423.3 845.8,1421.1 848.1,1418.8 850.3,1416.6 852.5,1414.4 854.7,1412.3 856.9,1410.2 859.1,1408.1 861.3,1406.1 863.5,1404.1 865.7,1402.2 868.0,1400.3 870.2,1398.4 872.4,1396.5 874.6,1394.8 876.8,1393.0 879.0,1391.3 881.2,1389.7 883.4,1388.0 885.6,1386.5 887.9,1385.0 890.1,1383.5 892.3,1382.1 894.5,1380.7 896.7,1379.4 898.9,1378.1 901.1,1376.9 903.3,1375.7 905.6,1374.6 907.8,1373.5 910.0,1372.5 912.2,1371.6 914.4,1370.6 916.6,1369.8 918.8,1369.0 921.0,1368.2 923.2,1367.5 925.5,1366.9 927.7,1366.3 929.9,1365.8 932.1,1365.3 934.3,1364.9 936.5,1364.5 938.7,1364.2 940.9,1364.0 943.1,1363.8 945.4,1363.6 947.6,1363.5 949.8,1363.5 952.0,1363.5 954.2,1363.6 956.4,1363.7 958.6,1363.9 960.8,1364.1 963.0,1364.4 965.3,1364.7 967.5,1365.1 969.7,1365.5 971.9,1366.0 974.1,1366.6 976.3,1367.1 978.5,1367.8 980.7,1368.5 982.9,1369.2 985.2,1370.0 987.4,1370.9 989.6,1371.7 991.8,1372.7 994.0,1373.7 996.2,1374.7 998.4,1375.8 1000.6,1376.9 1002.9,1378.1 1005.1,1379.3 1007.3,1380.5 1009.5,1381.8 1011.7,1383.2 1013.9,1384.6 1016.1,1386.0 1018.3,1387.5 1020.5,1389.0 1022.8,1390.5 1025.0,1392.1 1027.2,1393.7 1029.4,1395.4 1031.6,1397.1 1033.8,1398.8 1036.0,1400.6 1038.2,1402.4 1040.4,1404.3 1042.7,1406.2 1044.9,1408.1 1047.1,1410.0 1049.3,1412.0 1051.5,1414.0 1053.7,1416.0 1055.9,1418.1 1058.1,1420.2 1060.3,1422.4 1062.6,1424.5 1064.8,1426.7 1067.0,1428.9 1069.2,1431.2 1071.4,1433.4 1073.6,1435.7 1075.8,1438.1 1078.0,1440.4 1080.2,1442.8 1082.5,1445.2 1084.7,1447.6 1086.9,1450.0 1089.1,1452.5 1091.3,1454.9 1093.5,1457.5 1095.7,1460.0 1097.9,1462.5 1100.2,1465.1 1102.4,1467.7 1104.6,1470.2 1106.8,1472.9 1109.0,1475.5 1111.2,1478.1 1113.4,1480.8 1115.6,1483.5 1117.8,1486.2 1120.1,1488.9 1122.3,1491.6 1124.5,1494.4 1126.7,1497.1 1128.9,1499.9 1131.1,1502.7 1133.3,1505.5 1135.5,1508.3 1137.7,1511.1 1140.0,1513.9 1142.2,1516.7 1144.4,1519.6 1146.6,1522.4 1148.8,1525.3 1151.0,1528.2 1153.2,1531.1 1155.4,1534.0 1157.6,1536.9 1159.9,1539.8 1162.1,1542.7 1164.3,1545.6 1166.5,1548.6 1168.7,1551.5 1170.9,1554.5 1173.1,1557.4 1175.3,1560.4 1177.5,1563.4 1179.8,1566.4 1182.0,1569.3 1184.2,1572.3 1186.4,1575.3 1188.6,1578.3 1190.8,1581.3 1193.0,1584.4 1195.2,1587.4 1197.5,1590.4 1199.7,1593.4 1201.9,1596.4 1204.1,1599.5 1206.3,1602.5 1208.5,1605.6 1210.7,1608.6 1212.9,1611.6 1215.1,1614.7 1217.4,1617.7 1219.6,1620.8 1221.8,1623.9 1224.0,1626.9 1226.2,1630.0 1228.4,1633.1 1230.6,1636.1 1232.8,1639.2 1235.0,1642.3 1237.3,1645.4 1239.5,1648.4 1241.7,1651.5 1243.9,1654.6 1246.1,1657.7 1248.3,1660.8 1250.5,1663.9 1252.7,1667.0 1254.9,1670.0 1257.2,1673.1 1259.4,1676.2 1261.6,1679.3 1263.8,1682.4 1266.0,1685.5 1268.2,1688.6 1270.4,1691.7 1272.6,1694.8 1274.8,1697.9 1277.1,1701.0 1279.3,1704.1" fill="none" stroke="#d3a226" stroke-width="5" stroke-linejoin="round" stroke-linecap="square"/><polyline points="394.7,1316.8 395.6,1318.0 397.5,1320.7 399.3,1323.3 401.2,1325.9 403.1,1328.6 404.9,1331.2 406.8,1333.8 408.7,1336.5 410.6,1339.1 412.4,1341.8 414.6,1344.9 416.8,1348.0 419.1,1351.1 421.3,1354.2 423.5,1357.4 425.7,1360.5 427.9,1363.6 430.1,1366.7 432.3,1369.8 434.5,1373.0 436.7,1376.1 439.0,1379.2 441.2,1382.3 443.4,1385.4 445.6,1388.5 447.8,1391.6 450.0,1394.8 452.2,1397.9 454.4,1401.0 456.6,1404.1 458.9,1407.2 461.1,1410.3 463.3,1413.3 465.5,1416.4 467.7,1419.5 469.9,1422.6 472.1,1425.6 474.3,1428.7 476.5,1431.7 478.8,1434.8 481.0,1437.8 483.2,1440.8 485.4,1443.8 487.6,1446.8 489.8,1449.8 492.0,1452.8 494.2,1455.8 496.4,1458.7 498.7,1461.6 500.9,1464.6 503.1,1467.5 505.3,1470.3 507.5,1473.2 509.7,1476.1 511.9,1478.9 514.1,1481.7 516.4,1484.5 518.6,1487.2 520.8,1490.0 523.0,1492.7 525.2,1495.4 527.4,1498.0 529.6,1500.7 531.8,1503.3 534.0,1505.9 536.3,1508.4 538.5,1510.9 540.7,1513.4 542.9,1515.9 545.1,1518.3 547.3,1520.7 549.5,1523.0 551.7,1525.4 553.9,1527.6 556.2,1529.9 558.4,1532.1 560.6,1534.2 562.8,1536.3 565.0,1538.4 567.2,1540.4 569.4,1542.4 571.6,1544.4 573.8,1546.3 576.1,1548.1 578.3,1549.9 580.5,1551.7 582.7,1553.4 584.9,1555.0 587.1,1556.6 589.3,1558.2 591.5,1559.7 593.8,1561.1 596.0,1562.5 598.2,1563.9 600.4,1565.1 602.6,1566.4 604.8,1567.5 607.0,1568.6 609.2,1569.7 611.4,1570.7 613.7,1571.6 615.9,1572.5 618.1,1573.3 620.3,1574.1 622.5,1574.8 624.7,1575.4 626.9,1575.9 629.1,1576.4 631.3,1576.9 633.6,1577.3 635.8,1577.6 638.0,1577.8 640.2,1578.0 642.4,1578.1 644.6,1578.2 646.8,1578.2 649.0,1578.1 651.2,1578.0 653.5,1577.8 655.7,1577.5 657.9,1577.2 660.1,1576.7 662.3,1576.3 664.5,1575.8 666.7,1575.2 668.9,1574.5 671.1,1573.8 673.4,1573.0 675.6,1572.1 677.8,1571.2 680.0,1570.2 682.2,1569.2 684.4,1568.1 686.6,1566.9 688.8,1565.7 691.0,1564.4 693.3,1563.1 695.5,1561.7 697.7,1560.2 699.9,1558.7 702.1,1557.1 704.3,1555.5 706.5,1553.8 708.7,1552.0 711.0,1550.2 713.2,1548.4 715.4,1546.4 717.6,1544.5 719.8,1542.5 722.0,1540.4 724.2,1538.3 726.4,1536.2 728.6,1534.0 730.9,1531.7 733.1,1529.4 735.3,1527.1 737.5,1524.7 739.7,1522.3 741.9,1519.8 744.1,1517.4 746.3,1514.8 748.5,1512.3 750.8,1509.7 753.0,1507.1 755.2,1504.4 757.4,1501.7 759.6,1499.0 761.8,1496.3 764.0,1493.5 766.2,1490.7 768.4,1487.9 770.7,1485.1 772.9,1482.2 775.1,1479.3 777.3,1476.5 779.5,1473.6 781.7,1470.7 783.9,1467.7 786.1,1464.8 788.3,1461.9 790.6,1458.9 792.8,1456.0 795.0,1453.0 797.2,1450.1 799.4,1447.1 801.6,1444.2 803.8,1441.2 806.0,1438.3 808.3,1435.4 810.5,1432.4 812.7,1429.5 814.9,1426.6 817.1,1423.7 819.3,1420.8 821.5,1418.0 823.7,1415.1 825.9,1412.3 828.2,1409.5 830.4,1406.7 832.6,1403.9 834.8,1401.2 837.0,1398.5 839.2,1395.8 841.4,1393.1 843.6,1390.5 845.8,1387.9 848.1,1385.3 850.3,1382.8 852.5,1380.3 854.7,1377.8 856.9,1375.4 859.1,1373.0 861.3,1370.6 863.5,1368.3 865.7,1366.1 868.0,1363.8 870.2,1361.6 872.4,1359.5 874.6,1357.4 876.8,1355.4 879.0,1353.4 881.2,1351.4 883.4,1349.5 885.6,1347.6 887.9,1345.8 890.1,1344.1 892.3,1342.4 894.5,1340.7 896.7,1339.1 898.9,1337.6 901.1,1336.1 903.3,1334.6 905.6,1333.3 907.8,1331.9 910.0,1330.7 912.2,1329.4 914.4,1328.3 916.6,1327.2 918.8,1326.1 921.0,1325.2 923.2,1324.2 925.5,1323.3 927.7,1322.5 929.9,1321.8 932.1,1321.1 934.3,1320.4 936.5,1319.8 938.7,1319.3 940.9,1318.8 943.1,1318.4 945.4,1318.1 947.6,1317.8 949.8,1317.6 952.0,1317.4 954.2,1317.3 956.4,1317.2 958.6,1317.2 960.8,1317.2 963.0,1317.3 965.3,1317.5 967.5,1317.7 969.7,1318.0 971.9,1318.3 974.1,1318.7 976.3,1319.1 978.5,1319.6 980.7,1320.2 982.9,1320.7 985.2,1321.4 987.4,1322.1 989.6,1322.8 991.8,1323.6 994.0,1324.5 996.2,1325.4 998.4,1326.3 1000.6,1327.3 1002.9,1328.4 1005.1,1329.5 1007.3,1330.6 1009.5,1331.8 1011.7,1333.0 1013.9,1334.3 1016.1,1335.6 1018.3,1337.0 1020.5,1338.4 1022.8,1339.9 1025.0,1341.4 1027.2,1342.9 1029.4,1344.5 1031.6,1346.1 1033.8,1347.7 1036.0,1349.4 1038.2,1351.2 1040.4,1352.9 1042.7,1354.7 1044.9,1356.6 1047.1,1358.4 1049.3,1360.3 1051.5,1362.3 1053.7,1364.3 1055.9,1366.3 1058.1,1368.3 1060.3,1370.4 1062.6,1372.5 1064.8,1374.6 1067.0,1376.8 1069.2,1379.0 1071.4,1381.2 1073.6,1383.4 1075.8,1385.7 1078.0,1388.0 1080.2,1390.3 1082.5,1392.7 1084.7,1395.0 1086.9,1397.4 1089.1,1399.8 1091.3,1402.3 1093.5,1404.7 1095.7,1407.2 1097.9,1409.7 1100.2,1412.3 1102.4,1414.8 1104.6,1417.4 1106.8,1420.0 1109.0,1422.6 1111.2,1425.2 1113.4,1427.8 1115.6,1430.5 1117.8,1433.1 1120.1,1435.8 1122.3,1438.5 1124.5,1441.2 1126.7,1444.0 1128.9,1446.7 1131.1,1449.5 1133.3,1452.2 1135.5,1455.0 1137.7,1457.8 1140.0,1460.6 1142.2,1463.4 1144.4,1466.3 1146.6,1469.1 1148.8,1472.0 1151.0,1474.8 1153.2,1477.7 1155.4,1480.6 1157.6,1483.5 1159.9,1486.4 1162.1,1489.3 1164.3,1492.2 1166.5,1495.1 1168.7,1498.1 1170.9,1501.0 1173.1,1504.0 1175.3,1506.9 1177.5,1509.9 1179.8,1512.9 1182.0,1515.8 1184.2,1518.8 1186.4,1521.8 1188.6,1524.8 1190.8,1527.8 1193.0,1530.8 1195.2,1533.8 1197.5,1536.8 1199.7,1539.8 1201.9,1542.9 1204.1,1545.9 1206.3,1548.9 1208.5,1552.0 1210.7,1555.0 1212.9,1558.0 1215.1,1561.1 1217.4,1564.1 1219.6,1567.2 1221.8,1570.2 1224.0,1573.3 1226.2,1576.4 1228.4,1579.4 1230.6,1582.5 1232.8,1585.6 1235.0,1588.6 1237.3,1591.7 1239.5,1594.8 1241.7,1597.9 1243.9,1601.0 1246.1,1604.0 1248.3,1607.1 1250.5,1610.2 1252.7,1613.3 1254.9,1616.4 1257.2,1619.5 1259.4,1622.6 1261.6,1625.7 1263.8,1628.8 1266.0,1631.9 1268.2,1635.0 1270.4,1638.1 1272.6,1641.2 1274.8,1644.3 1277.1,1647.4 1279.3,1650.5" fill="none" stroke="#741c78" stroke-width="5" stroke-linejoin="round" stroke-dasharray="19 7.3"/><polyline points="394.7,1316.8 395.6,1318.0 397.5,1320.7 399.3,1323.3 401.2,1325.9 403.1,1328.6 404.9,1331.2 406.8,1333.8 408.7,1336.5 410.6,1339.1 412.4,1341.8 414.6,1344.9 416.8,1348.0 419.1,1351.1 421.3,1354.2 423.5,1357.4 425.7,1360.5 427.9,1363.6 430.1,1366.7 432.3,1369.8 434.5,1373.0 436.7,1376.1 439.0,1379.2 441.2,1382.3 443.4,1385.4 445.6,1388.5 447.8,1391.6 450.0,1394.8 452.2,1397.9 454.4,1401.0 456.6,1404.1 458.9,1407.2 461.1,1410.2 463.3,1413.3 465.5,1416.4 467.7,1419.5 469.9,1422.5 472.1,1425.6 474.3,1428.7 476.5,1431.7 478.8,1434.7 481.0,1437.8 483.2,1440.8 485.4,1443.8 487.6,1446.8 489.8,1449.8 492.0,1452.7 494.2,1455.7 496.4,1458.6 498.7,1461.5 500.9,1464.5 503.1,1467.3 505.3,1470.2 507.5,1473.1 509.7,1475.9 511.9,1478.7 514.1,1481.5 516.4,1484.3 518.6,1487.0 520.8,1489.7 523.0,1492.4 525.2,1495.1 527.4,1497.7 529.6,1500.4 531.8,1502.9 534.0,1505.5 536.3,1508.0 538.5,1510.5 540.7,1513.0 542.9,1515.4 545.1,1517.8 547.3,1520.1 549.5,1522.4 551.7,1524.7 553.9,1526.9 556.2,1529.1 558.4,1531.3 560.6,1533.4 562.8,1535.4 565.0,1537.5 567.2,1539.4 569.4,1541.4 571.6,1543.3 573.8,1545.1 576.1,1546.9 578.3,1548.6 580.5,1550.3 582.7,1551.9 584.9,1553.5 587.1,1555.0 589.3,1556.5 591.5,1557.9 593.8,1559.3 596.0,1560.6 598.2,1561.8 600.4,1563.0 602.6,1564.2 604.8,1565.2 607.0,1566.2 609.2,1567.2 611.4,1568.1 613.7,1568.9 615.9,1569.6 618.1,1570.3 620.3,1571.0 622.5,1571.5 624.7,1572.0 626.9,1572.5 629.1,1572.9 631.3,1573.2 633.6,1573.4 635.8,1573.6 638.0,1573.7 640.2,1573.7 642.4,1573.7 644.6,1573.6 646.8,1573.4 649.0,1573.2 651.2,1572.9 653.5,1572.5 655.7,1572.1 657.9,1571.5 660.1,1571.0 662.3,1570.3 664.5,1569.6 666.7,1568.8 668.9,1568.0 671.1,1567.1 673.4,1566.1 675.6,1565.0 677.8,1563.9 680.0,1562.7 682.2,1561.5 684.4,1560.1 686.6,1558.8 688.8,1557.3 691.0,1555.8 693.3,1554.2 695.5,1552.6 697.7,1550.9 699.9,1549.1 702.1,1547.3 704.3,1545.4 706.5,1543.5 708.7,1541.5 711.0,1539.5 713.2,1537.4 715.4,1535.2 717.6,1533.0 719.8,1530.7 722.0,1528.4 724.2,1526.0 726.4,1523.6 728.6,1521.1 730.9,1518.6 733.1,1516.0 735.3,1513.4 737.5,1510.8 739.7,1508.1 741.9,1505.4 744.1,1502.6 746.3,1499.8 748.5,1496.9 750.8,1494.0 753.0,1491.1 755.2,1488.2 757.4,1485.2 759.6,1482.2 761.8,1479.2 764.0,1476.1 766.2,1473.0 768.4,1469.9 770.7,1466.8 772.9,1463.6 775.1,1460.5 777.3,1457.3 779.5,1454.1 781.7,1450.9 783.9,1447.6 786.1,1444.4 788.3,1441.2 790.6,1437.9 792.8,1434.7 795.0,1431.4 797.2,1428.1 799.4,1424.9 801.6,1421.6 803.8,1418.4 806.0,1415.1 808.3,1411.9 810.5,1408.6 812.7,1405.4 814.9,1402.2 817.1,1399.0 819.3,1395.8 821.5,1392.7 823.7,1389.5 825.9,1386.4 828.2,1383.3 830.4,1380.2 832.6,1377.1 834.8,1374.1 837.0,1371.1 839.2,1368.1 841.4,1365.1 843.6,1362.2 845.8,1359.3 848.1,1356.5 850.3,1353.6 852.5,1350.9 854.7,1348.1 856.9,1345.4 859.1,1342.7 861.3,1340.1 863.5,1337.5 865.7,1335.0 868.0,1332.5 870.2,1330.0 872.4,1327.6 874.6,1325.3 876.8,1323.0 879.0,1320.7 881.2,1318.5 883.4,1316.3 885.6,1314.2 887.9,1312.2 890.1,1310.2 892.3,1308.2 894.5,1306.3 896.7,1304.5 898.9,1302.7 901.1,1301.0 903.3,1299.3 905.6,1297.7 907.8,1296.1 910.0,1294.7 912.2,1293.2 914.4,1291.8 916.6,1290.5 918.8,1289.3 921.0,1288.1 923.2,1286.9 925.5,1285.9 927.7,1284.8 929.9,1283.9 932.1,1283.0 934.3,1282.2 936.5,1281.4 938.7,1280.7 940.9,1280.0 943.1,1279.4 945.4,1278.9 947.6,1278.5 949.8,1278.0 952.0,1277.7 954.2,1277.4 956.4,1277.2 958.6,1277.0 960.8,1276.9 963.0,1276.9 965.3,1276.9 967.5,1276.9 969.7,1277.1 971.9,1277.3 974.1,1277.5 976.3,1277.8 978.5,1278.2 980.7,1278.6 982.9,1279.0 985.2,1279.6 987.4,1280.1 989.6,1280.8 991.8,1281.4 994.0,1282.2 996.2,1283.0 998.4,1283.8 1000.6,1284.7 1002.9,1285.6 1005.1,1286.6 1007.3,1287.7 1009.5,1288.8 1011.7,1289.9 1013.9,1291.1 1016.1,1292.3 1018.3,1293.6 1020.5,1294.9 1022.8,1296.3 1025.0,1297.7 1027.2,1299.1 1029.4,1300.6 1031.6,1302.2 1033.8,1303.8 1036.0,1305.4 1038.2,1307.0 1040.4,1308.7 1042.7,1310.5 1044.9,1312.2 1047.1,1314.1 1049.3,1315.9 1051.5,1317.8 1053.7,1319.7 1055.9,1321.7 1058.1,1323.6 1060.3,1325.7 1062.6,1327.7 1064.8,1329.8 1067.0,1331.9 1069.2,1334.0 1071.4,1336.2 1073.6,1338.4 1075.8,1340.6 1078.0,1342.9 1080.2,1345.2 1082.5,1347.5 1084.7,1349.8 1086.9,1352.2 1089.1,1354.6 1091.3,1357.0 1093.5,1359.4 1095.7,1361.8 1097.9,1364.3 1100.2,1366.8 1102.4,1369.3 1104.6,1371.9 1106.8,1374.4 1109.0,1377.0 1111.2,1379.6 1113.4,1382.2 1115.6,1384.8 1117.8,1387.5 1120.1,1390.1 1122.3,1392.8 1124.5,1395.5 1126.7,1398.2 1128.9,1401.0 1131.1,1403.7 1133.3,1406.4 1135.5,1409.2 1137.7,1412.0 1140.0,1414.8 1142.2,1417.6 1144.4,1420.4 1146.6,1423.2 1148.8,1426.1 1151.0,1428.9 1153.2,1431.8 1155.4,1434.7 1157.6,1437.5 1159.9,1440.4 1162.1,1443.3 1164.3,1446.2 1166.5,1449.2 1168.7,1452.1 1170.9,1455.0 1173.1,1458.0 1175.3,1460.9 1177.5,1463.9 1179.8,1466.8 1182.0,1469.8 1184.2,1472.8 1186.4,1475.7 1188.6,1478.7 1190.8,1481.7 1193.0,1484.7 1195.2,1487.7 1197.5,1490.7 1199.7,1493.7 1201.9,1496.8 1204.1,1499.8 1206.3,1502.8 1208.5,1505.8 1210.7,1508.9 1212.9,1511.9 1215.1,1515.0 1217.4,1518.0 1219.6,1521.1 1221.8,1524.1 1224.0,1527.2 1226.2,1530.2 1228.4,1533.3 1230.6,1536.4 1232.8,1539.4 1235.0,1542.5 1237.3,1545.6 1239.5,1548.6 1241.7,1551.7 1243.9,1554.8 1246.1,1557.9 1248.3,1561.0 1250.5,1564.0 1252.7,1567.1 1254.9,1570.2 1257.2,1573.3 1259.4,1576.4 1261.6,1579.5 1263.8,1582.6 1266.0,1585.7 1268.2,1588.8 1270.4,1591.9 1272.6,1595.0 1274.8,1598.1 1277.1,1601.2 1279.3,1604.3" fill="none" stroke="#127d3d" stroke-width="5" stroke-linejoin="round" stroke-linecap="square"/><polyline points="394.7,1316.8 395.6,1318.0 397.5,1320.7 399.3,1323.3 401.2,1325.9 403.1,1328.6 404.9,1331.2 406.8,1333.8 408.7,1336.5 410.6,1339.1 412.4,1341.8 414.6,1344.9 416.8,1348.0 419.1,1351.1 421.3,1354.2 423.5,1357.4 425.7,1360.5 427.9,1363.6 430.1,1366.7 432.3,1369.8 434.5,1373.0 436.7,1376.1 439.0,1379.2 441.2,1382.3 443.4,1385.4 445.6,1388.5 447.8,1391.6 450.0,1394.7 452.2,1397.9 454.4,1401.0 456.6,1404.1 458.9,1407.1 461.1,1410.2 463.3,1413.3 465.5,1416.4 467.7,1419.5 469.9,1422.5 472.1,1425.6 474.3,1428.6 476.5,1431.7 478.8,1434.7 481.0,1437.7 483.2,1440.7 485.4,1443.7 487.6,1446.7 489.8,1449.7 492.0,1452.7 494.2,1455.6 496.4,1458.5 498.7,1461.4 500.9,1464.3 503.1,1467.2 505.3,1470.1 507.5,1472.9 509.7,1475.7 511.9,1478.5 514.1,1481.3 516.4,1484.1 518.6,1486.8 520.8,1489.5 523.0,1492.2 525.2,1494.8 527.4,1497.4 529.6,1500.0 531.8,1502.6 534.0,1505.1 536.3,1507.6 538.5,1510.0 540.7,1512.4 542.9,1514.8 545.1,1517.2 547.3,1519.5 549.5,1521.8 551.7,1524.0 553.9,1526.2 556.2,1528.3 558.4,1530.4 560.6,1532.5 562.8,1534.5 565.0,1536.4 567.2,1538.4 569.4,1540.2 571.6,1542.1 573.8,1543.8 576.1,1545.5 578.3,1547.2 580.5,1548.8 582.7,1550.4 584.9,1551.9 587.1,1553.3 589.3,1554.7 591.5,1556.0 593.8,1557.3 596.0,1558.5 598.2,1559.6 600.4,1560.7 602.6,1561.8 604.8,1562.7 607.0,1563.6 609.2,1564.5 611.4,1565.2 613.7,1565.9 615.9,1566.6 618.1,1567.1 620.3,1567.6 622.5,1568.1 624.7,1568.4 626.9,1568.7 629.1,1569.0 631.3,1569.1 633.6,1569.2 635.8,1569.2 638.0,1569.2 640.2,1569.1 642.4,1568.9 644.6,1568.6 646.8,1568.3 649.0,1567.8 651.2,1567.4 653.5,1566.8 655.7,1566.2 657.9,1565.5 660.1,1564.7 662.3,1563.9 664.5,1563.0 666.7,1562.0 668.9,1560.9 671.1,1559.8 673.4,1558.6 675.6,1557.3 677.8,1556.0 680.0,1554.6 682.2,1553.1 684.4,1551.5 686.6,1549.9 688.8,1548.2 691.0,1546.5 693.3,1544.7 695.5,1542.8 697.7,1540.8 699.9,1538.8 702.1,1536.8 704.3,1534.6 706.5,1532.4 708.7,1530.2 711.0,1527.8 713.2,1525.5 715.4,1523.0 717.6,1520.5 719.8,1518.0 722.0,1515.4 724.2,1512.7 726.4,1510.0 728.6,1507.3 730.9,1504.4 733.1,1501.6 735.3,1498.7 737.5,1495.7 739.7,1492.7 741.9,1489.7 744.1,1486.6 746.3,1483.5 748.5,1480.3 750.8,1477.1 753.0,1473.9 755.2,1470.7 757.4,1467.4 759.6,1464.0 761.8,1460.7 764.0,1457.3 766.2,1453.9 768.4,1450.5 770.7,1447.0 772.9,1443.5 775.1,1440.0 777.3,1436.5 779.5,1433.0 781.7,1429.4 783.9,1425.9 786.1,1422.3 788.3,1418.8 790.6,1415.2 792.8,1411.6 795.0,1408.0 797.2,1404.4 799.4,1400.8 801.6,1397.2 803.8,1393.6 806.0,1390.1 808.3,1386.5 810.5,1382.9 812.7,1379.4 814.9,1375.8 817.1,1372.3 819.3,1368.8 821.5,1365.3 823.7,1361.8 825.9,1358.4 828.2,1354.9 830.4,1351.5 832.6,1348.1 834.8,1344.8 837.0,1341.5 839.2,1338.2 841.4,1334.9 843.6,1331.7 845.8,1328.4 848.1,1325.3 850.3,1322.2 852.5,1319.1 854.7,1316.0 856.9,1313.0 859.1,1310.0 861.3,1307.1 863.5,1304.2 865.7,1301.4 868.0,1298.6 870.2,1295.8 872.4,1293.2 874.6,1290.5 876.8,1287.9 879.0,1285.4 881.2,1282.9 883.4,1280.5 885.6,1278.1 887.9,1275.8 890.1,1273.5 892.3,1271.3 894.5,1269.1 896.7,1267.0 898.9,1265.0 901.1,1263.0 903.3,1261.1 905.6,1259.2 907.8,1257.5 910.0,1255.7 912.2,1254.0 914.4,1252.4 916.6,1250.9 918.8,1249.4 921.0,1248.0 923.2,1246.6 925.5,1245.3 927.7,1244.1 929.9,1242.9 932.1,1241.8 934.3,1240.8 936.5,1239.8 938.7,1238.9 940.9,1238.1 943.1,1237.3 945.4,1236.6 947.6,1235.9 949.8,1235.3 952.0,1234.8 954.2,1234.3 956.4,1233.9 958.6,1233.6 960.8,1233.3 963.0,1233.1 965.3,1233.0 967.5,1232.9 969.7,1232.8 971.9,1232.9 974.1,1233.0 976.3,1233.1 978.5,1233.3 980.7,1233.6 982.9,1233.9 985.2,1234.3 987.4,1234.8 989.6,1235.3 991.8,1235.8 994.0,1236.4 996.2,1237.1 998.4,1237.8 1000.6,1238.6 1002.9,1239.4 1005.1,1240.3 1007.3,1241.2 1009.5,1242.2 1011.7,1243.3 1013.9,1244.3 1016.1,1245.5 1018.3,1246.7 1020.5,1247.9 1022.8,1249.2 1025.0,1250.5 1027.2,1251.9 1029.4,1253.3 1031.6,1254.7 1033.8,1256.2 1036.0,1257.8 1038.2,1259.3 1040.4,1261.0 1042.7,1262.6 1044.9,1264.3 1047.1,1266.1 1049.3,1267.9 1051.5,1269.7 1053.7,1271.5 1055.9,1273.4 1058.1,1275.4 1060.3,1277.3 1062.6,1279.3 1064.8,1281.3 1067.0,1283.4 1069.2,1285.5 1071.4,1287.6 1073.6,1289.8 1075.8,1291.9 1078.0,1294.1 1080.2,1296.4 1082.5,1298.6 1084.7,1300.9 1086.9,1303.3 1089.1,1305.6 1091.3,1308.0 1093.5,1310.4 1095.7,1312.8 1097.9,1315.2 1100.2,1317.7 1102.4,1320.2 1104.6,1322.7 1106.8,1325.2 1109.0,1327.7 1111.2,1330.3 1113.4,1332.9 1115.6,1335.5 1117.8,1338.1 1120.1,1340.8 1122.3,1343.4 1124.5,1346.1 1126.7,1348.8 1128.9,1351.5 1131.1,1354.2 1133.3,1356.9 1135.5,1359.7 1137.7,1362.5 1140.0,1365.2 1142.2,1368.0 1144.4,1370.8 1146.6,1373.6 1148.8,1376.5 1151.0,1379.3 1153.2,1382.1 1155.4,1385.0 1157.6,1387.9 1159.9,1390.7 1162.1,1393.6 1164.3,1396.5 1166.5,1399.4 1168.7,1402.4 1170.9,1405.3 1173.1,1408.2 1175.3,1411.1 1177.5,1414.1 1179.8,1417.0 1182.0,1420.0 1184.2,1423.0 1186.4,1425.9 1188.6,1428.9 1190.8,1431.9 1193.0,1434.9 1195.2,1437.9 1197.5,1440.9 1199.7,1443.9 1201.9,1446.9 1204.1,1449.9 1206.3,1453.0 1208.5,1456.0 1210.7,1459.0 1212.9,1462.1 1215.1,1465.1 1217.4,1468.1 1219.6,1471.2 1221.8,1474.2 1224.0,1477.3 1226.2,1480.3 1228.4,1483.4 1230.6,1486.5 1232.8,1489.5 1235.0,1492.6 1237.3,1495.7 1239.5,1498.7 1241.7,1501.8 1243.9,1504.9 1246.1,1508.0 1248.3,1511.1 1250.5,1514.1 1252.7,1517.2 1254.9,1520.3 1257.2,1523.4 1259.4,1526.5 1261.6,1529.6 1263.8,1532.7 1266.0,1535.8 1268.2,1538.9 1270.4,1542.0 1272.6,1545.1 1274.8,1548.2 1277.1,1551.3 1279.3,1554.4" fill="none" stroke="#e5161f" stroke-width="5" stroke-linejoin="round" stroke-linecap="square"/><line x1="394.73" y1="1316.78" x2="1279.27" y2="1316.78" stroke="#231815" stroke-width="4.6" stroke-dasharray="5.5 7.71"/></g>
<rect x="348.15" y="1164.60" width="977.70" height="4.70" fill="#231815"/>
<rect x="348.15" y="2063.60" width="977.70" height="4.70" fill="#231815"/>
<rect x="348.15" y="1164.60" width="4.70" height="903.70" fill="#231815"/>
<rect x="1321.15" y="1164.60" width="4.70" height="903.70" fill="#231815"/>
<rect x="392.38" y="2048.45" width="4.70" height="17.50" fill="#231815"/>
<rect x="392.38" y="1166.95" width="4.70" height="17.50" fill="#231815"/>
<rect x="569.29" y="2048.45" width="4.70" height="17.50" fill="#231815"/>
<rect x="569.29" y="1166.95" width="4.70" height="17.50" fill="#231815"/>
<rect x="746.20" y="2048.45" width="4.70" height="17.50" fill="#231815"/>
<rect x="746.20" y="1166.95" width="4.70" height="17.50" fill="#231815"/>
<rect x="923.10" y="2048.45" width="4.70" height="17.50" fill="#231815"/>
<rect x="923.10" y="1166.95" width="4.70" height="17.50" fill="#231815"/>
<rect x="1100.01" y="2048.45" width="4.70" height="17.50" fill="#231815"/>
<rect x="1100.01" y="1166.95" width="4.70" height="17.50" fill="#231815"/>
<rect x="1276.92" y="2048.45" width="4.70" height="17.50" fill="#231815"/>
<rect x="1276.92" y="1166.95" width="4.70" height="17.50" fill="#231815"/>
<rect x="350.50" y="1189.57" width="17.50" height="4.70" fill="#231815"/>
<rect x="1306.00" y="1189.57" width="17.50" height="4.70" fill="#231815"/>
<rect x="350.50" y="1314.43" width="17.50" height="4.70" fill="#231815"/>
<rect x="1306.00" y="1314.43" width="17.50" height="4.70" fill="#231815"/>
<rect x="350.50" y="1439.29" width="17.50" height="4.70" fill="#231815"/>
<rect x="1306.00" y="1439.29" width="17.50" height="4.70" fill="#231815"/>
<rect x="350.50" y="1564.16" width="17.50" height="4.70" fill="#231815"/>
<rect x="1306.00" y="1564.16" width="17.50" height="4.70" fill="#231815"/>
<rect x="350.50" y="1689.02" width="17.50" height="4.70" fill="#231815"/>
<rect x="1306.00" y="1689.02" width="17.50" height="4.70" fill="#231815"/>
<rect x="350.50" y="1813.88" width="17.50" height="4.70" fill="#231815"/>
<rect x="1306.00" y="1813.88" width="17.50" height="4.70" fill="#231815"/>
<rect x="350.50" y="1938.74" width="17.50" height="4.70" fill="#231815"/>
<rect x="1306.00" y="1938.74" width="17.50" height="4.70" fill="#231815"/>
<rect x="350.50" y="2063.60" width="17.50" height="4.70" fill="#231815"/>
<rect x="1306.00" y="2063.60" width="17.50" height="4.70" fill="#231815"/>
<text transform="translate(245.97,1210.80) scale(1.1434,1)" font-size="58.01" font-style="normal" fill="#000">0.1</text>
<text transform="translate(298.35,1335.91) scale(1.1032,1)" font-size="58.39" font-style="normal" fill="#000">0</text>
<text transform="translate(245.97,1460.52) scale(1.1434,1)" font-size="58.01" font-style="normal" fill="#000">0.1</text>
<rect x="197.10" y="1444.24" width="38.80" height="2.80" fill="#000"/>
<text transform="translate(245.88,1585.38) scale(1.1863,1)" font-size="58.01" font-style="normal" fill="#000">0.2</text>
<rect x="197.10" y="1569.11" width="38.80" height="2.80" fill="#000"/>
<text transform="translate(245.92,1710.25) scale(1.1700,1)" font-size="58.01" font-style="normal" fill="#000">0.3</text>
<rect x="197.10" y="1693.97" width="38.80" height="2.80" fill="#000"/>
<text transform="translate(245.94,1835.11) scale(1.1571,1)" font-size="58.01" font-style="normal" fill="#000">0.4</text>
<rect x="197.10" y="1818.83" width="38.80" height="2.80" fill="#000"/>
<text transform="translate(245.92,1959.97) scale(1.1700,1)" font-size="58.01" font-style="normal" fill="#000">0.5</text>
<rect x="197.10" y="1943.69" width="38.80" height="2.80" fill="#000"/>
<text transform="translate(245.94,2084.83) scale(1.1608,1)" font-size="58.01" font-style="normal" fill="#000">0.6</text>
<rect x="197.10" y="2068.55" width="38.80" height="2.80" fill="#000"/>
<text transform="translate(371.95,2121.73) scale(1.1097,1)" font-size="58.68" font-style="normal" fill="#231815">0</text>
<text transform="translate(532.01,2121.47) scale(1.1832,1)" font-size="58.30" font-style="normal" fill="#231815">0.2</text>
<text transform="translate(709.00,2121.47) scale(1.1441,1)" font-size="58.30" font-style="normal" fill="#231815">0.4</text>
<text transform="translate(885.88,2121.47) scale(1.1578,1)" font-size="58.30" font-style="normal" fill="#231815">0.6</text>
<text transform="translate(1062.77,2121.47) scale(1.1660,1)" font-size="58.30" font-style="normal" fill="#231815">0.8</text>
<text transform="translate(1239.35,2121.47) scale(1.1551,1)" font-size="58.30" font-style="normal" fill="#231815">1.0</text>
<text transform="translate(823.33,2196.42) scale(1.3730,1)" font-size="56.27" font-style="italic" fill="#231815">f</text>
<g transform="rotate(-90)"><text transform="translate(-1723.35,147.98) scale(1.1212,1)" font-size="59.23" font-style="italic" fill="#231815">D</text><text transform="translate(-1668.67,148.97) scale(0.9710,1)" font-size="64.96" font-style="normal" fill="#231815">(</text><text transform="translate(-1642.87,146.71) scale(1.3837,1)" font-size="55.83" font-style="italic" fill="#231815">f</text><text transform="translate(-1613.84,148.97) scale(0.9291,1)" font-size="64.96" font-style="normal" fill="#231815">)</text></g>
<g clip-path="url(#clipe)"><polyline points="1690.7,1316.8 1691.6,1318.0 1693.5,1320.7 1695.3,1323.3 1697.2,1325.9 1699.1,1328.6 1700.9,1331.2 1702.8,1333.8 1704.7,1336.5 1706.6,1339.1 1708.4,1341.7 1710.6,1344.8 1712.8,1347.9 1715.1,1351.1 1717.3,1354.2 1719.5,1357.3 1721.7,1360.4 1723.9,1363.5 1726.1,1366.6 1728.3,1369.7 1730.5,1372.8 1732.7,1375.9 1735.0,1379.0 1737.2,1382.1 1739.4,1385.2 1741.6,1388.3 1743.8,1391.4 1746.0,1394.5 1748.2,1397.6 1750.4,1400.7 1752.6,1403.8 1754.9,1406.9 1757.1,1410.0 1759.3,1413.1 1761.5,1416.1 1763.7,1419.2 1765.9,1422.3 1768.1,1425.4 1770.3,1428.5 1772.5,1431.6 1774.8,1434.7 1777.0,1437.7 1779.2,1440.8 1781.4,1443.9 1783.6,1447.0 1785.8,1450.1 1788.0,1453.1 1790.2,1456.2 1792.5,1459.3 1794.7,1462.4 1796.9,1465.4 1799.1,1468.5 1801.3,1471.6 1803.5,1474.6 1805.7,1477.7 1807.9,1480.8 1810.1,1483.8 1812.4,1486.9 1814.6,1490.0 1816.8,1493.0 1819.0,1496.1 1821.2,1499.2 1823.4,1502.2 1825.6,1505.3 1827.8,1508.3 1830.0,1511.4 1832.3,1514.4 1834.5,1517.5 1836.7,1520.6 1838.9,1523.6 1841.1,1526.7 1843.3,1529.7 1845.5,1532.8 1847.7,1535.8 1849.9,1538.9 1852.2,1541.9 1854.4,1545.0 1856.6,1548.0 1858.8,1551.0 1861.0,1554.1 1863.2,1557.1 1865.4,1560.2 1867.6,1563.2 1869.8,1566.3 1872.1,1569.4 1874.3,1572.5 1876.5,1575.6 1878.7,1578.7 1880.9,1581.7 1883.1,1584.8 1885.3,1587.9 1887.5,1590.9 1889.8,1593.9 1892.0,1597.0 1894.2,1600.0 1896.4,1603.0 1898.6,1606.0 1900.8,1609.0 1903.0,1612.0 1905.2,1615.0 1907.4,1617.9 1909.7,1620.9 1911.9,1623.8 1914.1,1626.8 1916.3,1629.7 1918.5,1632.6 1920.7,1635.5 1922.9,1638.4 1925.1,1641.3 1927.3,1644.2 1929.6,1647.0 1931.8,1649.9 1934.0,1652.7 1936.2,1655.5 1938.4,1658.3 1940.6,1661.1 1942.8,1663.9 1945.0,1666.7 1947.2,1669.4 1949.5,1672.1 1951.7,1674.8 1953.9,1677.5 1956.1,1680.2 1958.3,1682.8 1960.5,1685.5 1962.7,1688.1 1964.9,1690.7 1967.1,1693.2 1969.4,1695.8 1971.6,1698.3 1973.8,1700.8 1976.0,1703.3 1978.2,1705.7 1980.4,1708.2 1982.6,1710.6 1984.8,1712.9 1987.0,1715.3 1989.3,1717.6 1991.5,1719.9 1993.7,1722.1 1995.9,1724.4 1998.1,1726.6 2000.3,1728.7 2002.5,1730.9 2004.7,1733.0 2007.0,1735.0 2009.2,1737.1 2011.4,1739.0 2013.6,1741.0 2015.8,1742.9 2018.0,1744.8 2020.2,1746.6 2022.4,1748.4 2024.6,1750.2 2026.9,1751.9 2029.1,1753.6 2031.3,1755.2 2033.5,1756.8 2035.7,1758.4 2037.9,1759.9 2040.1,1761.3 2042.3,1762.8 2044.5,1764.1 2046.8,1765.4 2049.0,1766.7 2051.2,1767.9 2053.4,1769.1 2055.6,1770.2 2057.8,1771.3 2060.0,1772.3 2062.2,1773.2 2064.4,1774.1 2066.7,1775.0 2068.9,1775.8 2071.1,1776.5 2073.3,1777.2 2075.5,1777.9 2077.7,1778.4 2079.9,1779.0 2082.1,1779.4 2084.3,1779.8 2086.6,1780.2 2088.8,1780.4 2091.0,1780.7 2093.2,1780.8 2095.4,1780.9 2097.6,1781.0 2099.8,1781.0 2102.0,1780.9 2104.3,1780.7 2106.5,1780.5 2108.7,1780.3 2110.9,1779.9 2113.1,1779.5 2115.3,1779.1 2117.5,1778.5 2119.7,1778.0 2121.9,1777.3 2124.2,1776.6 2126.4,1775.8 2128.6,1775.0 2130.8,1774.1 2133.0,1773.1 2135.2,1772.1 2137.4,1770.9 2139.6,1769.8 2141.8,1768.6 2144.1,1767.3 2146.3,1765.9 2148.5,1764.5 2150.7,1763.0 2152.9,1761.4 2155.1,1759.8 2157.3,1758.1 2159.5,1756.4 2161.7,1754.6 2164.0,1752.7 2166.2,1750.8 2168.4,1748.8 2170.6,1746.8 2172.8,1744.7 2175.0,1742.5 2177.2,1740.3 2179.4,1738.0 2181.7,1735.6 2183.9,1733.2 2186.1,1730.8 2188.3,1728.3 2190.5,1725.7 2192.7,1723.1 2194.9,1720.4 2197.1,1717.6 2199.3,1714.8 2201.6,1712.0 2203.8,1709.1 2206.0,1706.2 2208.2,1703.2 2210.4,1700.1 2212.6,1697.1 2214.8,1693.9 2217.0,1690.8 2219.2,1687.5 2221.5,1684.3 2223.7,1681.0 2225.9,1677.6 2228.1,1674.2 2230.3,1670.8 2232.5,1667.3 2234.7,1663.8 2236.9,1660.3 2239.1,1656.8 2241.4,1653.2 2243.6,1649.5 2245.8,1645.9 2248.0,1642.2 2250.2,1638.5 2252.4,1634.7 2254.6,1631.0 2256.8,1627.2 2259.0,1623.4 2261.3,1619.6 2263.5,1615.8 2265.7,1611.9 2267.9,1608.1 2270.1,1604.2 2272.3,1600.3 2274.5,1596.4 2276.7,1592.5 2278.9,1588.6 2281.2,1584.7 2283.4,1580.8 2285.6,1576.9 2287.8,1573.0 2290.0,1569.1 2292.2,1565.2 2294.4,1561.3 2296.6,1557.4 2298.9,1553.5 2301.1,1549.7 2303.3,1545.8 2305.5,1542.0 2307.7,1538.2 2309.9,1534.4 2312.1,1530.7 2314.3,1526.9 2316.5,1523.2 2318.8,1519.6 2321.0,1515.9 2323.2,1512.3 2325.4,1508.7 2327.6,1505.2 2329.8,1501.7 2332.0,1498.2 2334.2,1494.8 2336.4,1491.4 2338.7,1488.1 2340.9,1484.8 2343.1,1481.6 2345.3,1478.4 2347.5,1475.3 2349.7,1472.2 2351.9,1469.2 2354.1,1466.2 2356.3,1463.3 2358.6,1460.5 2360.8,1457.7 2363.0,1455.0 2365.2,1452.4 2367.4,1449.8 2369.6,1447.3 2371.8,1444.9 2374.0,1442.5 2376.2,1440.2 2378.5,1438.0 2380.7,1435.9 2382.9,1433.9 2385.1,1431.9 2387.3,1430.0 2389.5,1428.2 2391.7,1426.5 2393.9,1424.9 2396.2,1423.3 2398.4,1421.9 2400.6,1420.5 2402.8,1419.2 2405.0,1418.0 2407.2,1416.9 2409.4,1415.8 2411.6,1414.9 2413.8,1414.1 2416.1,1413.3 2418.3,1412.7 2420.5,1412.1 2422.7,1411.6 2424.9,1411.2 2427.1,1410.9 2429.3,1410.7 2431.5,1410.6 2433.7,1410.5 2436.0,1410.6 2438.2,1410.8 2440.4,1411.0 2442.6,1411.3 2444.8,1411.7 2447.0,1412.2 2449.2,1412.8 2451.4,1413.5 2453.6,1414.3 2455.9,1415.1 2458.1,1416.0 2460.3,1417.0 2462.5,1418.1 2464.7,1419.3 2466.9,1420.5 2469.1,1421.8 2471.3,1423.2 2473.6,1424.7 2475.8,1426.2 2478.0,1427.8 2480.2,1429.5 2482.4,1431.2 2484.6,1433.0 2486.8,1434.9 2489.0,1436.8 2491.2,1438.8 2493.5,1440.8 2495.7,1442.9 2497.9,1445.1 2500.1,1447.3 2502.3,1449.6 2504.5,1451.9 2506.7,1454.2 2508.9,1456.6 2511.1,1459.1 2513.4,1461.6 2515.6,1464.1 2517.8,1466.7 2520.0,1469.3 2522.2,1471.9 2524.4,1474.6 2526.6,1477.3 2528.8,1480.0 2531.0,1482.8 2533.3,1485.6 2535.5,1488.4 2537.7,1491.2 2539.9,1494.1 2542.1,1496.9 2544.3,1499.8 2546.5,1502.8 2548.7,1505.7 2550.9,1508.6 2553.2,1511.6 2555.4,1514.6 2557.6,1517.6 2559.8,1520.6 2562.0,1523.6 2564.2,1526.6 2566.4,1529.7 2568.6,1532.7 2570.8,1535.8 2573.1,1538.8 2575.3,1541.9" fill="none" stroke="#20295a" stroke-width="5" stroke-linejoin="round" stroke-linecap="square"/><polyline points="1690.7,1316.8 1691.6,1318.0 1693.5,1320.7 1695.3,1323.3 1697.2,1325.9 1699.1,1328.6 1700.9,1331.2 1702.8,1333.8 1704.7,1336.5 1706.6,1339.1 1708.4,1341.7 1710.6,1344.8 1712.8,1347.9 1715.1,1351.1 1717.3,1354.2 1719.5,1357.3 1721.7,1360.4 1723.9,1363.5 1726.1,1366.6 1728.3,1369.7 1730.5,1372.8 1732.7,1375.9 1735.0,1379.0 1737.2,1382.1 1739.4,1385.2 1741.6,1388.3 1743.8,1391.4 1746.0,1394.5 1748.2,1397.6 1750.4,1400.7 1752.6,1403.8 1754.9,1406.9 1757.1,1409.9 1759.3,1413.0 1761.5,1416.1 1763.7,1419.2 1765.9,1422.3 1768.1,1425.4 1770.3,1428.5 1772.5,1431.5 1774.8,1434.6 1777.0,1437.7 1779.2,1440.8 1781.4,1443.9 1783.6,1446.9 1785.8,1450.0 1788.0,1453.1 1790.2,1456.2 1792.5,1459.2 1794.7,1462.3 1796.9,1465.4 1799.1,1468.4 1801.3,1471.5 1803.5,1474.6 1805.7,1477.6 1807.9,1480.7 1810.1,1483.8 1812.4,1486.8 1814.6,1489.9 1816.8,1493.0 1819.0,1496.0 1821.2,1499.1 1823.4,1502.1 1825.6,1505.2 1827.8,1508.2 1830.0,1511.3 1832.3,1514.3 1834.5,1517.4 1836.7,1520.4 1838.9,1523.5 1841.1,1526.5 1843.3,1529.6 1845.5,1532.6 1847.7,1535.7 1849.9,1538.7 1852.2,1541.8 1854.4,1544.8 1856.6,1547.9 1858.8,1550.9 1861.0,1553.9 1863.2,1557.0 1865.4,1560.0 1867.6,1563.0 1869.8,1566.2 1872.1,1569.3 1874.3,1572.4 1876.5,1575.4 1878.7,1578.5 1880.9,1581.6 1883.1,1584.6 1885.3,1587.7 1887.5,1590.7 1889.8,1593.8 1892.0,1596.8 1894.2,1599.8 1896.4,1602.8 1898.6,1605.8 1900.8,1608.8 1903.0,1611.8 1905.2,1614.7 1907.4,1617.7 1909.7,1620.6 1911.9,1623.6 1914.1,1626.5 1916.3,1629.4 1918.5,1632.3 1920.7,1635.2 1922.9,1638.1 1925.1,1641.0 1927.3,1643.8 1929.6,1646.7 1931.8,1649.5 1934.0,1652.3 1936.2,1655.1 1938.4,1657.9 1940.6,1660.7 1942.8,1663.5 1945.0,1666.2 1947.2,1668.9 1949.5,1671.6 1951.7,1674.3 1953.9,1677.0 1956.1,1679.6 1958.3,1682.3 1960.5,1684.9 1962.7,1687.5 1964.9,1690.0 1967.1,1692.6 1969.4,1695.1 1971.6,1697.6 1973.8,1700.1 1976.0,1702.5 1978.2,1704.9 1980.4,1707.3 1982.6,1709.7 1984.8,1712.0 1987.0,1714.3 1989.3,1716.6 1991.5,1718.8 1993.7,1721.1 1995.9,1723.2 1998.1,1725.4 2000.3,1727.5 2002.5,1729.6 2004.7,1731.6 2007.0,1733.7 2009.2,1735.6 2011.4,1737.6 2013.6,1739.5 2015.8,1741.3 2018.0,1743.1 2020.2,1744.9 2022.4,1746.7 2024.6,1748.4 2026.9,1750.0 2029.1,1751.6 2031.3,1753.2 2033.5,1754.7 2035.7,1756.2 2037.9,1757.6 2040.1,1759.0 2042.3,1760.3 2044.5,1761.6 2046.8,1762.8 2049.0,1764.0 2051.2,1765.1 2053.4,1766.2 2055.6,1767.2 2057.8,1768.2 2060.0,1769.1 2062.2,1769.9 2064.4,1770.7 2066.7,1771.5 2068.9,1772.2 2071.1,1772.8 2073.3,1773.4 2075.5,1773.9 2077.7,1774.3 2079.9,1774.7 2082.1,1775.0 2084.3,1775.3 2086.6,1775.5 2088.8,1775.7 2091.0,1775.7 2093.2,1775.8 2095.4,1775.7 2097.6,1775.6 2099.8,1775.4 2102.0,1775.2 2104.3,1774.9 2106.5,1774.5 2108.7,1774.1 2110.9,1773.6 2113.1,1773.0 2115.3,1772.4 2117.5,1771.7 2119.7,1770.9 2121.9,1770.1 2124.2,1769.2 2126.4,1768.2 2128.6,1767.2 2130.8,1766.1 2133.0,1764.9 2135.2,1763.7 2137.4,1762.3 2139.6,1761.0 2141.8,1759.5 2144.1,1758.0 2146.3,1756.4 2148.5,1754.8 2150.7,1753.1 2152.9,1751.3 2155.1,1749.5 2157.3,1747.5 2159.5,1745.6 2161.7,1743.5 2164.0,1741.4 2166.2,1739.2 2168.4,1737.0 2170.6,1734.7 2172.8,1732.3 2175.0,1729.9 2177.2,1727.4 2179.4,1724.9 2181.7,1722.3 2183.9,1719.6 2186.1,1716.9 2188.3,1714.1 2190.5,1711.2 2192.7,1708.3 2194.9,1705.3 2197.1,1702.3 2199.3,1699.2 2201.6,1696.1 2203.8,1692.9 2206.0,1689.7 2208.2,1686.4 2210.4,1683.1 2212.6,1679.7 2214.8,1676.2 2217.0,1672.8 2219.2,1669.2 2221.5,1665.6 2223.7,1662.0 2225.9,1658.4 2228.1,1654.7 2230.3,1650.9 2232.5,1647.1 2234.7,1643.3 2236.9,1639.5 2239.1,1635.6 2241.4,1631.6 2243.6,1627.7 2245.8,1623.7 2248.0,1619.7 2250.2,1615.7 2252.4,1611.6 2254.6,1607.5 2256.8,1603.4 2259.0,1599.2 2261.3,1595.1 2263.5,1590.9 2265.7,1586.7 2267.9,1582.5 2270.1,1578.3 2272.3,1574.1 2274.5,1569.8 2276.7,1565.6 2278.9,1561.4 2281.2,1557.1 2283.4,1552.9 2285.6,1548.6 2287.8,1544.4 2290.0,1540.1 2292.2,1535.9 2294.4,1531.6 2296.6,1527.4 2298.9,1523.2 2301.1,1519.0 2303.3,1514.8 2305.5,1510.7 2307.7,1506.5 2309.9,1502.4 2312.1,1498.3 2314.3,1494.3 2316.5,1490.2 2318.8,1486.2 2321.0,1482.2 2323.2,1478.3 2325.4,1474.4 2327.6,1470.5 2329.8,1466.7 2332.0,1462.9 2334.2,1459.2 2336.4,1455.5 2338.7,1451.8 2340.9,1448.2 2343.1,1444.7 2345.3,1441.2 2347.5,1437.8 2349.7,1434.4 2351.9,1431.1 2354.1,1427.8 2356.3,1424.6 2358.6,1421.5 2360.8,1418.4 2363.0,1415.5 2365.2,1412.5 2367.4,1409.7 2369.6,1406.9 2371.8,1404.2 2374.0,1401.6 2376.2,1399.1 2378.5,1396.6 2380.7,1394.2 2382.9,1391.9 2385.1,1389.7 2387.3,1387.6 2389.5,1385.5 2391.7,1383.6 2393.9,1381.7 2396.2,1379.9 2398.4,1378.3 2400.6,1376.7 2402.8,1375.2 2405.0,1373.7 2407.2,1372.4 2409.4,1371.2 2411.6,1370.1 2413.8,1369.0 2416.1,1368.1 2418.3,1367.2 2420.5,1366.5 2422.7,1365.8 2424.9,1365.3 2427.1,1364.8 2429.3,1364.4 2431.5,1364.1 2433.7,1364.0 2436.0,1363.9 2438.2,1363.9 2440.4,1364.0 2442.6,1364.2 2444.8,1364.4 2447.0,1364.8 2449.2,1365.3 2451.4,1365.8 2453.6,1366.5 2455.9,1367.2 2458.1,1368.0 2460.3,1368.9 2462.5,1369.9 2464.7,1371.0 2466.9,1372.1 2469.1,1373.3 2471.3,1374.6 2473.6,1376.0 2475.8,1377.5 2478.0,1379.0 2480.2,1380.6 2482.4,1382.3 2484.6,1384.0 2486.8,1385.8 2489.0,1387.7 2491.2,1389.6 2493.5,1391.6 2495.7,1393.7 2497.9,1395.8 2500.1,1397.9 2502.3,1400.2 2504.5,1402.4 2506.7,1404.8 2508.9,1407.1 2511.1,1409.5 2513.4,1412.0 2515.6,1414.5 2517.8,1417.0 2520.0,1419.6 2522.2,1422.2 2524.4,1424.9 2526.6,1427.5 2528.8,1430.3 2531.0,1433.0 2533.3,1435.8 2535.5,1438.6 2537.7,1441.4 2539.9,1444.2 2542.1,1447.1 2544.3,1450.0 2546.5,1452.9 2548.7,1455.8 2550.9,1458.8 2553.2,1461.7 2555.4,1464.7 2557.6,1467.7 2559.8,1470.7 2562.0,1473.7 2564.2,1476.7 2566.4,1479.8 2568.6,1482.8 2570.8,1485.9 2573.1,1488.9 2575.3,1492.0" fill="none" stroke="#d3a226" stroke-width="5" stroke-linejoin="round" stroke-linecap="square"/><polyline points="1690.7,1316.8 1691.6,1318.0 1693.5,1320.7 1695.3,1323.3 1697.2,1325.9 1699.1,1328.6 1700.9,1331.2 1702.8,1333.8 1704.7,1336.5 1706.6,1339.1 1708.4,1341.7 1710.6,1344.8 1712.8,1347.9 1715.1,1351.1 1717.3,1354.2 1719.5,1357.3 1721.7,1360.4 1723.9,1363.5 1726.1,1366.6 1728.3,1369.7 1730.5,1372.8 1732.7,1375.9 1735.0,1379.0 1737.2,1382.1 1739.4,1385.2 1741.6,1388.3 1743.8,1391.4 1746.0,1394.5 1748.2,1397.6 1750.4,1400.7 1752.6,1403.7 1754.9,1406.8 1757.1,1409.9 1759.3,1413.0 1761.5,1416.1 1763.7,1419.2 1765.9,1422.3 1768.1,1425.3 1770.3,1428.4 1772.5,1431.5 1774.8,1434.6 1777.0,1437.7 1779.2,1440.7 1781.4,1443.8 1783.6,1446.9 1785.8,1450.0 1788.0,1453.0 1790.2,1456.1 1792.5,1459.2 1794.7,1462.2 1796.9,1465.3 1799.1,1468.4 1801.3,1471.4 1803.5,1474.5 1805.7,1477.6 1807.9,1480.6 1810.1,1483.7 1812.4,1486.8 1814.6,1489.8 1816.8,1492.9 1819.0,1495.9 1821.2,1499.0 1823.4,1502.0 1825.6,1505.1 1827.8,1508.1 1830.0,1511.2 1832.3,1514.2 1834.5,1517.3 1836.7,1520.3 1838.9,1523.4 1841.1,1526.4 1843.3,1529.5 1845.5,1532.5 1847.7,1535.6 1849.9,1538.6 1852.2,1541.6 1854.4,1544.7 1856.6,1547.7 1858.8,1550.8 1861.0,1553.8 1863.2,1556.8 1865.4,1559.9 1867.6,1562.9 1869.8,1566.0 1872.1,1569.1 1874.3,1572.2 1876.5,1575.3 1878.7,1578.3 1880.9,1581.4 1883.1,1584.5 1885.3,1587.5 1887.5,1590.5 1889.8,1593.6 1892.0,1596.6 1894.2,1599.6 1896.4,1602.6 1898.6,1605.6 1900.8,1608.6 1903.0,1611.6 1905.2,1614.5 1907.4,1617.5 1909.7,1620.4 1911.9,1623.3 1914.1,1626.3 1916.3,1629.2 1918.5,1632.1 1920.7,1635.0 1922.9,1637.8 1925.1,1640.7 1927.3,1643.5 1929.6,1646.4 1931.8,1649.2 1934.0,1652.0 1936.2,1654.8 1938.4,1657.6 1940.6,1660.3 1942.8,1663.1 1945.0,1665.8 1947.2,1668.5 1949.5,1671.2 1951.7,1673.8 1953.9,1676.5 1956.1,1679.1 1958.3,1681.7 1960.5,1684.3 1962.7,1686.9 1964.9,1689.4 1967.1,1691.9 1969.4,1694.4 1971.6,1696.9 1973.8,1699.3 1976.0,1701.7 1978.2,1704.1 1980.4,1706.5 1982.6,1708.8 1984.8,1711.1 1987.0,1713.4 1989.3,1715.6 1991.5,1717.8 1993.7,1720.0 1995.9,1722.1 1998.1,1724.3 2000.3,1726.3 2002.5,1728.4 2004.7,1730.4 2007.0,1732.3 2009.2,1734.2 2011.4,1736.1 2013.6,1738.0 2015.8,1739.8 2018.0,1741.5 2020.2,1743.2 2022.4,1744.9 2024.6,1746.6 2026.9,1748.1 2029.1,1749.7 2031.3,1751.2 2033.5,1752.6 2035.7,1754.0 2037.9,1755.4 2040.1,1756.7 2042.3,1757.9 2044.5,1759.1 2046.8,1760.2 2049.0,1761.3 2051.2,1762.4 2053.4,1763.3 2055.6,1764.3 2057.8,1765.1 2060.0,1765.9 2062.2,1766.7 2064.4,1767.4 2066.7,1768.0 2068.9,1768.6 2071.1,1769.1 2073.3,1769.6 2075.5,1770.0 2077.7,1770.3 2079.9,1770.6 2082.1,1770.8 2084.3,1770.9 2086.6,1771.0 2088.8,1771.0 2091.0,1770.9 2093.2,1770.8 2095.4,1770.6 2097.6,1770.4 2099.8,1770.0 2102.0,1769.7 2104.3,1769.2 2106.5,1768.7 2108.7,1768.1 2110.9,1767.4 2113.1,1766.7 2115.3,1765.9 2117.5,1765.0 2119.7,1764.0 2121.9,1763.0 2124.2,1761.9 2126.4,1760.8 2128.6,1759.6 2130.8,1758.3 2133.0,1756.9 2135.2,1755.5 2137.4,1754.0 2139.6,1752.4 2141.8,1750.7 2144.1,1749.0 2146.3,1747.2 2148.5,1745.4 2150.7,1743.4 2152.9,1741.4 2155.1,1739.4 2157.3,1737.2 2159.5,1735.0 2161.7,1732.7 2164.0,1730.4 2166.2,1728.0 2168.4,1725.5 2170.6,1722.9 2172.8,1720.3 2175.0,1717.6 2177.2,1714.9 2179.4,1712.1 2181.7,1709.2 2183.9,1706.3 2186.1,1703.3 2188.3,1700.2 2190.5,1697.1 2192.7,1693.9 2194.9,1690.7 2197.1,1687.4 2199.3,1684.0 2201.6,1680.6 2203.8,1677.1 2206.0,1673.6 2208.2,1670.0 2210.4,1666.4 2212.6,1662.7 2214.8,1659.0 2217.0,1655.2 2219.2,1651.4 2221.5,1647.5 2223.7,1643.6 2225.9,1639.6 2228.1,1635.6 2230.3,1631.5 2232.5,1627.4 2234.7,1623.3 2236.9,1619.1 2239.1,1614.9 2241.4,1610.7 2243.6,1606.4 2245.8,1602.1 2248.0,1597.8 2250.2,1593.4 2252.4,1589.0 2254.6,1584.6 2256.8,1580.1 2259.0,1575.7 2261.3,1571.2 2263.5,1566.7 2265.7,1562.2 2267.9,1557.6 2270.1,1553.1 2272.3,1548.5 2274.5,1544.0 2276.7,1539.4 2278.9,1534.8 2281.2,1530.2 2283.4,1525.6 2285.6,1521.0 2287.8,1516.5 2290.0,1511.9 2292.2,1507.3 2294.4,1502.7 2296.6,1498.2 2298.9,1493.6 2301.1,1489.1 2303.3,1484.6 2305.5,1480.1 2307.7,1475.6 2309.9,1471.2 2312.1,1466.8 2314.3,1462.4 2316.5,1458.0 2318.8,1453.7 2321.0,1449.4 2323.2,1445.1 2325.4,1440.9 2327.6,1436.7 2329.8,1432.6 2332.0,1428.5 2334.2,1424.4 2336.4,1420.4 2338.7,1416.5 2340.9,1412.6 2343.1,1408.7 2345.3,1404.9 2347.5,1401.2 2349.7,1397.5 2351.9,1393.9 2354.1,1390.4 2356.3,1386.9 2358.6,1383.5 2360.8,1380.2 2363.0,1376.9 2365.2,1373.7 2367.4,1370.6 2369.6,1367.6 2371.8,1364.6 2374.0,1361.7 2376.2,1358.9 2378.5,1356.2 2380.7,1353.6 2382.9,1351.0 2385.1,1348.6 2387.3,1346.2 2389.5,1343.9 2391.7,1341.7 2393.9,1339.7 2396.2,1337.7 2398.4,1335.7 2400.6,1333.9 2402.8,1332.2 2405.0,1330.6 2407.2,1329.1 2409.4,1327.7 2411.6,1326.3 2413.8,1325.1 2416.1,1324.0 2418.3,1322.9 2420.5,1322.0 2422.7,1321.2 2424.9,1320.5 2427.1,1319.8 2429.3,1319.3 2431.5,1318.9 2433.7,1318.5 2436.0,1318.3 2438.2,1318.2 2440.4,1318.1 2442.6,1318.2 2444.8,1318.3 2447.0,1318.6 2449.2,1318.9 2451.4,1319.4 2453.6,1319.9 2455.9,1320.5 2458.1,1321.2 2460.3,1322.0 2462.5,1322.9 2464.7,1323.9 2466.9,1324.9 2469.1,1326.1 2471.3,1327.3 2473.6,1328.6 2475.8,1330.0 2478.0,1331.4 2480.2,1333.0 2482.4,1334.6 2484.6,1336.3 2486.8,1338.0 2489.0,1339.8 2491.2,1341.7 2493.5,1343.6 2495.7,1345.6 2497.9,1347.7 2500.1,1349.8 2502.3,1352.0 2504.5,1354.2 2506.7,1356.5 2508.9,1358.8 2511.1,1361.2 2513.4,1363.6 2515.6,1366.1 2517.8,1368.6 2520.0,1371.2 2522.2,1373.8 2524.4,1376.4 2526.6,1379.1 2528.8,1381.8 2531.0,1384.5 2533.3,1387.2 2535.5,1390.0 2537.7,1392.8 2539.9,1395.7 2542.1,1398.5 2544.3,1401.4 2546.5,1404.3 2548.7,1407.2 2550.9,1410.1 2553.2,1413.1 2555.4,1416.1 2557.6,1419.1 2559.8,1422.0 2562.0,1425.1 2564.2,1428.1 2566.4,1431.1 2568.6,1434.1 2570.8,1437.2 2573.1,1440.2 2575.3,1443.3" fill="none" stroke="#741c78" stroke-width="5" stroke-linejoin="round" stroke-dasharray="19 7.3"/><polyline points="1690.7,1316.8 1691.6,1318.0 1693.5,1320.7 1695.3,1323.3 1697.2,1325.9 1699.1,1328.6 1700.9,1331.2 1702.8,1333.8 1704.7,1336.5 1706.6,1339.1 1708.4,1341.7 1710.6,1344.8 1712.8,1347.9 1715.1,1351.0 1717.3,1354.2 1719.5,1357.3 1721.7,1360.4 1723.9,1363.5 1726.1,1366.6 1728.3,1369.7 1730.5,1372.8 1732.7,1375.9 1735.0,1379.0 1737.2,1382.1 1739.4,1385.2 1741.6,1388.3 1743.8,1391.4 1746.0,1394.5 1748.2,1397.5 1750.4,1400.6 1752.6,1403.7 1754.9,1406.8 1757.1,1409.9 1759.3,1413.0 1761.5,1416.1 1763.7,1419.1 1765.9,1422.2 1768.1,1425.3 1770.3,1428.4 1772.5,1431.5 1774.8,1434.5 1777.0,1437.6 1779.2,1440.7 1781.4,1443.8 1783.6,1446.8 1785.8,1449.9 1788.0,1453.0 1790.2,1456.1 1792.5,1459.1 1794.7,1462.2 1796.9,1465.3 1799.1,1468.3 1801.3,1471.4 1803.5,1474.4 1805.7,1477.5 1807.9,1480.6 1810.1,1483.6 1812.4,1486.7 1814.6,1489.7 1816.8,1492.8 1819.0,1495.8 1821.2,1498.9 1823.4,1501.9 1825.6,1505.0 1827.8,1508.0 1830.0,1511.1 1832.3,1514.1 1834.5,1517.2 1836.7,1520.2 1838.9,1523.3 1841.1,1526.3 1843.3,1529.4 1845.5,1532.4 1847.7,1535.4 1849.9,1538.5 1852.2,1541.5 1854.4,1544.5 1856.6,1547.6 1858.8,1550.6 1861.0,1553.6 1863.2,1556.7 1865.4,1559.7 1867.6,1562.7 1869.8,1565.8 1872.1,1568.9 1874.3,1572.0 1876.5,1575.1 1878.7,1578.2 1880.9,1581.2 1883.1,1584.3 1885.3,1587.3 1887.5,1590.4 1889.8,1593.4 1892.0,1596.4 1894.2,1599.4 1896.4,1602.4 1898.6,1605.4 1900.8,1608.4 1903.0,1611.3 1905.2,1614.3 1907.4,1617.2 1909.7,1620.2 1911.9,1623.1 1914.1,1626.0 1916.3,1628.9 1918.5,1631.8 1920.7,1634.7 1922.9,1637.5 1925.1,1640.4 1927.3,1643.2 1929.6,1646.0 1931.8,1648.8 1934.0,1651.6 1936.2,1654.4 1938.4,1657.1 1940.6,1659.9 1942.8,1662.6 1945.0,1665.3 1947.2,1668.0 1949.5,1670.7 1951.7,1673.3 1953.9,1675.9 1956.1,1678.5 1958.3,1681.1 1960.5,1683.7 1962.7,1686.2 1964.9,1688.7 1967.1,1691.2 1969.4,1693.7 1971.6,1696.1 1973.8,1698.5 1976.0,1700.9 1978.2,1703.3 1980.4,1705.6 1982.6,1707.9 1984.8,1710.2 1987.0,1712.4 1989.3,1714.6 1991.5,1716.8 1993.7,1718.9 1995.9,1721.0 1998.1,1723.0 2000.3,1725.1 2002.5,1727.1 2004.7,1729.0 2007.0,1730.9 2009.2,1732.8 2011.4,1734.6 2013.6,1736.4 2015.8,1738.1 2018.0,1739.8 2020.2,1741.5 2022.4,1743.1 2024.6,1744.7 2026.9,1746.2 2029.1,1747.6 2031.3,1749.1 2033.5,1750.4 2035.7,1751.7 2037.9,1753.0 2040.1,1754.2 2042.3,1755.4 2044.5,1756.5 2046.8,1757.5 2049.0,1758.5 2051.2,1759.5 2053.4,1760.4 2055.6,1761.2 2057.8,1761.9 2060.0,1762.7 2062.2,1763.3 2064.4,1763.9 2066.7,1764.4 2068.9,1764.9 2071.1,1765.3 2073.3,1765.6 2075.5,1765.9 2077.7,1766.1 2079.9,1766.2 2082.1,1766.3 2084.3,1766.3 2086.6,1766.2 2088.8,1766.1 2091.0,1765.9 2093.2,1765.6 2095.4,1765.3 2097.6,1764.9 2099.8,1764.4 2102.0,1763.8 2104.3,1763.2 2106.5,1762.5 2108.7,1761.7 2110.9,1760.9 2113.1,1760.0 2115.3,1759.0 2117.5,1758.0 2119.7,1756.8 2121.9,1755.6 2124.2,1754.3 2126.4,1753.0 2128.6,1751.6 2130.8,1750.1 2133.0,1748.5 2135.2,1746.9 2137.4,1745.1 2139.6,1743.3 2141.8,1741.5 2144.1,1739.5 2146.3,1737.5 2148.5,1735.4 2150.7,1733.3 2152.9,1731.0 2155.1,1728.7 2157.3,1726.3 2159.5,1723.9 2161.7,1721.4 2164.0,1718.8 2166.2,1716.1 2168.4,1713.4 2170.6,1710.6 2172.8,1707.7 2175.0,1704.8 2177.2,1701.7 2179.4,1698.7 2181.7,1695.5 2183.9,1692.3 2186.1,1689.0 2188.3,1685.7 2190.5,1682.3 2192.7,1678.8 2194.9,1675.3 2197.1,1671.7 2199.3,1668.0 2201.6,1664.3 2203.8,1660.5 2206.0,1656.7 2208.2,1652.8 2210.4,1648.9 2212.6,1644.9 2214.8,1640.9 2217.0,1636.8 2219.2,1632.6 2221.5,1628.4 2223.7,1624.2 2225.9,1619.9 2228.1,1615.5 2230.3,1611.2 2232.5,1606.7 2234.7,1602.3 2236.9,1597.8 2239.1,1593.2 2241.4,1588.6 2243.6,1584.0 2245.8,1579.4 2248.0,1574.7 2250.2,1570.0 2252.4,1565.3 2254.6,1560.5 2256.8,1555.7 2259.0,1550.9 2261.3,1546.1 2263.5,1541.2 2265.7,1536.3 2267.9,1531.5 2270.1,1526.6 2272.3,1521.6 2274.5,1516.7 2276.7,1511.8 2278.9,1506.9 2281.2,1501.9 2283.4,1497.0 2285.6,1492.1 2287.8,1487.1 2290.0,1482.2 2292.2,1477.3 2294.4,1472.4 2296.6,1467.4 2298.9,1462.6 2301.1,1457.7 2303.3,1452.8 2305.5,1448.0 2307.7,1443.2 2309.9,1438.4 2312.1,1433.6 2314.3,1428.9 2316.5,1424.2 2318.8,1419.5 2321.0,1414.9 2323.2,1410.3 2325.4,1405.7 2327.6,1401.2 2329.8,1396.7 2332.0,1392.3 2334.2,1387.9 2336.4,1383.6 2338.7,1379.3 2340.9,1375.1 2343.1,1370.9 2345.3,1366.8 2347.5,1362.8 2349.7,1358.8 2351.9,1354.9 2354.1,1351.0 2356.3,1347.3 2358.6,1343.6 2360.8,1339.9 2363.0,1336.4 2365.2,1332.9 2367.4,1329.5 2369.6,1326.2 2371.8,1322.9 2374.0,1319.8 2376.2,1316.7 2378.5,1313.7 2380.7,1310.8 2382.9,1308.0 2385.1,1305.3 2387.3,1302.7 2389.5,1300.2 2391.7,1297.8 2393.9,1295.4 2396.2,1293.2 2398.4,1291.1 2400.6,1289.0 2402.8,1287.1 2405.0,1285.2 2407.2,1283.5 2409.4,1281.9 2411.6,1280.4 2413.8,1278.9 2416.1,1277.6 2418.3,1276.4 2420.5,1275.3 2422.7,1274.3 2424.9,1273.4 2427.1,1272.6 2429.3,1271.9 2431.5,1271.3 2433.7,1270.8 2436.0,1270.4 2438.2,1270.1 2440.4,1269.9 2442.6,1269.8 2444.8,1269.9 2447.0,1270.0 2449.2,1270.2 2451.4,1270.5 2453.6,1270.9 2455.9,1271.4 2458.1,1272.0 2460.3,1272.7 2462.5,1273.5 2464.7,1274.4 2466.9,1275.3 2469.1,1276.4 2471.3,1277.5 2473.6,1278.7 2475.8,1280.0 2478.0,1281.4 2480.2,1282.9 2482.4,1284.4 2484.6,1286.0 2486.8,1287.7 2489.0,1289.5 2491.2,1291.3 2493.5,1293.2 2495.7,1295.1 2497.9,1297.1 2500.1,1299.2 2502.3,1301.4 2504.5,1303.5 2506.7,1305.8 2508.9,1308.1 2511.1,1310.4 2513.4,1312.8 2515.6,1315.3 2517.8,1317.8 2520.0,1320.3 2522.2,1322.8 2524.4,1325.4 2526.6,1328.1 2528.8,1330.8 2531.0,1333.5 2533.3,1336.2 2535.5,1339.0 2537.7,1341.8 2539.9,1344.6 2542.1,1347.4 2544.3,1350.3 2546.5,1353.2 2548.7,1356.1 2550.9,1359.0 2553.2,1362.0 2555.4,1364.9 2557.6,1367.9 2559.8,1370.9 2562.0,1373.9 2564.2,1376.9 2566.4,1379.9 2568.6,1383.0 2570.8,1386.0 2573.1,1389.1 2575.3,1392.1" fill="none" stroke="#127d3d" stroke-width="5" stroke-linejoin="round" stroke-linecap="square"/><polyline points="1690.7,1316.8 1691.6,1318.0 1693.5,1320.7 1695.3,1323.3 1697.2,1325.9 1699.1,1328.6 1700.9,1331.2 1702.8,1333.8 1704.7,1336.5 1706.6,1339.1 1708.4,1341.7 1710.6,1344.8 1712.8,1347.9 1715.1,1351.0 1717.3,1354.2 1719.5,1357.3 1721.7,1360.4 1723.9,1363.5 1726.1,1366.6 1728.3,1369.7 1730.5,1372.8 1732.7,1375.9 1735.0,1379.0 1737.2,1382.1 1739.4,1385.2 1741.6,1388.3 1743.8,1391.3 1746.0,1394.4 1748.2,1397.5 1750.4,1400.6 1752.6,1403.7 1754.9,1406.8 1757.1,1409.9 1759.3,1413.0 1761.5,1416.0 1763.7,1419.1 1765.9,1422.2 1768.1,1425.3 1770.3,1428.4 1772.5,1431.4 1774.8,1434.5 1777.0,1437.6 1779.2,1440.7 1781.4,1443.7 1783.6,1446.8 1785.8,1449.9 1788.0,1452.9 1790.2,1456.0 1792.5,1459.1 1794.7,1462.1 1796.9,1465.2 1799.1,1468.3 1801.3,1471.3 1803.5,1474.4 1805.7,1477.4 1807.9,1480.5 1810.1,1483.5 1812.4,1486.6 1814.6,1489.7 1816.8,1492.7 1819.0,1495.8 1821.2,1498.8 1823.4,1501.9 1825.6,1504.9 1827.8,1507.9 1830.0,1511.0 1832.3,1514.0 1834.5,1517.1 1836.7,1520.1 1838.9,1523.2 1841.1,1526.2 1843.3,1529.2 1845.5,1532.3 1847.7,1535.3 1849.9,1538.3 1852.2,1541.4 1854.4,1544.4 1856.6,1547.4 1858.8,1550.5 1861.0,1553.5 1863.2,1556.5 1865.4,1559.5 1867.6,1562.6 1869.8,1565.7 1872.1,1568.8 1874.3,1571.9 1876.5,1574.9 1878.7,1578.0 1880.9,1581.1 1883.1,1584.1 1885.3,1587.2 1887.5,1590.2 1889.8,1593.2 1892.0,1596.2 1894.2,1599.2 1896.4,1602.2 1898.6,1605.2 1900.8,1608.2 1903.0,1611.1 1905.2,1614.1 1907.4,1617.0 1909.7,1619.9 1911.9,1622.8 1914.1,1625.7 1916.3,1628.6 1918.5,1631.5 1920.7,1634.4 1922.9,1637.2 1925.1,1640.1 1927.3,1642.9 1929.6,1645.7 1931.8,1648.5 1934.0,1651.3 1936.2,1654.0 1938.4,1656.8 1940.6,1659.5 1942.8,1662.2 1945.0,1664.9 1947.2,1667.5 1949.5,1670.2 1951.7,1672.8 1953.9,1675.4 1956.1,1678.0 1958.3,1680.6 1960.5,1683.1 1962.7,1685.6 1964.9,1688.1 1967.1,1690.6 1969.4,1693.0 1971.6,1695.4 1973.8,1697.8 1976.0,1700.1 1978.2,1702.5 1980.4,1704.7 1982.6,1707.0 1984.8,1709.2 1987.0,1711.4 1989.3,1713.6 1991.5,1715.7 1993.7,1717.8 1995.9,1719.9 1998.1,1721.9 2000.3,1723.8 2002.5,1725.8 2004.7,1727.7 2007.0,1729.5 2009.2,1731.4 2011.4,1733.1 2013.6,1734.9 2015.8,1736.5 2018.0,1738.2 2020.2,1739.8 2022.4,1741.3 2024.6,1742.8 2026.9,1744.3 2029.1,1745.7 2031.3,1747.0 2033.5,1748.3 2035.7,1749.5 2037.9,1750.7 2040.1,1751.8 2042.3,1752.9 2044.5,1753.9 2046.8,1754.9 2049.0,1755.8 2051.2,1756.7 2053.4,1757.4 2055.6,1758.2 2057.8,1758.8 2060.0,1759.4 2062.2,1760.0 2064.4,1760.5 2066.7,1760.9 2068.9,1761.2 2071.1,1761.5 2073.3,1761.7 2075.5,1761.9 2077.7,1761.9 2079.9,1761.9 2082.1,1761.9 2084.3,1761.8 2086.6,1761.6 2088.8,1761.3 2091.0,1760.9 2093.2,1760.5 2095.4,1760.0 2097.6,1759.5 2099.8,1758.9 2102.0,1758.1 2104.3,1757.4 2106.5,1756.5 2108.7,1755.6 2110.9,1754.6 2113.1,1753.5 2115.3,1752.3 2117.5,1751.1 2119.7,1749.8 2121.9,1748.4 2124.2,1746.9 2126.4,1745.4 2128.6,1743.8 2130.8,1742.1 2133.0,1740.3 2135.2,1738.5 2137.4,1736.5 2139.6,1734.5 2141.8,1732.4 2144.1,1730.3 2146.3,1728.1 2148.5,1725.7 2150.7,1723.4 2152.9,1720.9 2155.1,1718.4 2157.3,1715.7 2159.5,1713.1 2161.7,1710.3 2164.0,1707.5 2166.2,1704.5 2168.4,1701.6 2170.6,1698.5 2172.8,1695.4 2175.0,1692.2 2177.2,1688.9 2179.4,1685.6 2181.7,1682.1 2183.9,1678.7 2186.1,1675.1 2188.3,1671.5 2190.5,1667.8 2192.7,1664.1 2194.9,1660.2 2197.1,1656.4 2199.3,1652.4 2201.6,1648.4 2203.8,1644.4 2206.0,1640.2 2208.2,1636.1 2210.4,1631.8 2212.6,1627.5 2214.8,1623.2 2217.0,1618.8 2219.2,1614.3 2221.5,1609.8 2223.7,1605.2 2225.9,1600.6 2228.1,1596.0 2230.3,1591.3 2232.5,1586.5 2234.7,1581.7 2236.9,1576.9 2239.1,1572.0 2241.4,1567.1 2243.6,1562.2 2245.8,1557.2 2248.0,1552.2 2250.2,1547.2 2252.4,1542.1 2254.6,1537.0 2256.8,1531.9 2259.0,1526.7 2261.3,1521.5 2263.5,1516.4 2265.7,1511.1 2267.9,1505.9 2270.1,1500.7 2272.3,1495.4 2274.5,1490.2 2276.7,1484.9 2278.9,1479.6 2281.2,1474.3 2283.4,1469.1 2285.6,1463.8 2287.8,1458.5 2290.0,1453.2 2292.2,1448.0 2294.4,1442.7 2296.6,1437.5 2298.9,1432.2 2301.1,1427.0 2303.3,1421.8 2305.5,1416.6 2307.7,1411.5 2309.9,1406.4 2312.1,1401.3 2314.3,1396.2 2316.5,1391.2 2318.8,1386.1 2321.0,1381.2 2323.2,1376.3 2325.4,1371.4 2327.6,1366.5 2329.8,1361.7 2332.0,1357.0 2334.2,1352.3 2336.4,1347.6 2338.7,1343.0 2340.9,1338.5 2343.1,1334.0 2345.3,1329.6 2347.5,1325.3 2349.7,1321.0 2351.9,1316.8 2354.1,1312.6 2356.3,1308.6 2358.6,1304.6 2360.8,1300.7 2363.0,1296.8 2365.2,1293.1 2367.4,1289.4 2369.6,1285.8 2371.8,1282.3 2374.0,1278.9 2376.2,1275.5 2378.5,1272.3 2380.7,1269.1 2382.9,1266.1 2385.1,1263.1 2387.3,1260.3 2389.5,1257.5 2391.7,1254.8 2393.9,1252.3 2396.2,1249.8 2398.4,1247.5 2400.6,1245.2 2402.8,1243.0 2405.0,1241.0 2407.2,1239.1 2409.4,1237.2 2411.6,1235.5 2413.8,1233.9 2416.1,1232.4 2418.3,1231.0 2420.5,1229.7 2422.7,1228.5 2424.9,1227.4 2427.1,1226.4 2429.3,1225.6 2431.5,1224.8 2433.7,1224.2 2436.0,1223.7 2438.2,1223.2 2440.4,1222.9 2442.6,1222.7 2444.8,1222.6 2447.0,1222.6 2449.2,1222.6 2451.4,1222.8 2453.6,1223.1 2455.9,1223.5 2458.1,1224.0 2460.3,1224.6 2462.5,1225.3 2464.7,1226.1 2466.9,1227.0 2469.1,1227.9 2471.3,1229.0 2473.6,1230.1 2475.8,1231.3 2478.0,1232.6 2480.2,1234.0 2482.4,1235.5 2484.6,1237.0 2486.8,1238.7 2489.0,1240.4 2491.2,1242.1 2493.5,1244.0 2495.7,1245.9 2497.9,1247.8 2500.1,1249.9 2502.3,1252.0 2504.5,1254.1 2506.7,1256.3 2508.9,1258.6 2511.1,1260.9 2513.4,1263.2 2515.6,1265.7 2517.8,1268.1 2520.0,1270.6 2522.2,1273.2 2524.4,1275.7 2526.6,1278.4 2528.8,1281.0 2531.0,1283.7 2533.3,1286.4 2535.5,1289.2 2537.7,1292.0 2539.9,1294.8 2542.1,1297.6 2544.3,1300.5 2546.5,1303.3 2548.7,1306.2 2550.9,1309.2 2553.2,1312.1 2555.4,1315.0 2557.6,1318.0 2559.8,1321.0 2562.0,1324.0 2564.2,1327.0 2566.4,1330.0 2568.6,1333.1 2570.8,1336.1 2573.1,1339.1 2575.3,1342.2" fill="none" stroke="#e5161f" stroke-width="5" stroke-linejoin="round" stroke-linecap="square"/><line x1="1690.73" y1="1316.78" x2="2575.27" y2="1316.78" stroke="#231815" stroke-width="4.6" stroke-dasharray="5.5 7.71"/></g>
<rect x="1644.15" y="1164.60" width="977.70" height="4.70" fill="#231815"/>
<rect x="1644.15" y="2063.60" width="977.70" height="4.70" fill="#231815"/>
<rect x="1644.15" y="1164.60" width="4.70" height="903.70" fill="#231815"/>
<rect x="2617.15" y="1164.60" width="4.70" height="903.70" fill="#231815"/>
<rect x="1688.38" y="2048.45" width="4.70" height="17.50" fill="#231815"/>
<rect x="1688.38" y="1166.95" width="4.70" height="17.50" fill="#231815"/>
<rect x="1865.29" y="2048.45" width="4.70" height="17.50" fill="#231815"/>
<rect x="1865.29" y="1166.95" width="4.70" height="17.50" fill="#231815"/>
<rect x="2042.20" y="2048.45" width="4.70" height="17.50" fill="#231815"/>
<rect x="2042.20" y="1166.95" width="4.70" height="17.50" fill="#231815"/>
<rect x="2219.10" y="2048.45" width="4.70" height="17.50" fill="#231815"/>
<rect x="2219.10" y="1166.95" width="4.70" height="17.50" fill="#231815"/>
<rect x="2396.01" y="2048.45" width="4.70" height="17.50" fill="#231815"/>
<rect x="2396.01" y="1166.95" width="4.70" height="17.50" fill="#231815"/>
<rect x="2572.92" y="2048.45" width="4.70" height="17.50" fill="#231815"/>
<rect x="2572.92" y="1166.95" width="4.70" height="17.50" fill="#231815"/>
<rect x="1646.50" y="1189.57" width="17.50" height="4.70" fill="#231815"/>
<rect x="2602.00" y="1189.57" width="17.50" height="4.70" fill="#231815"/>
<rect x="1646.50" y="1314.43" width="17.50" height="4.70" fill="#231815"/>
<rect x="2602.00" y="1314.43" width="17.50" height="4.70" fill="#231815"/>
<rect x="1646.50" y="1439.29" width="17.50" height="4.70" fill="#231815"/>
<rect x="2602.00" y="1439.29" width="17.50" height="4.70" fill="#231815"/>
<rect x="1646.50" y="1564.16" width="17.50" height="4.70" fill="#231815"/>
<rect x="2602.00" y="1564.16" width="17.50" height="4.70" fill="#231815"/>
<rect x="1646.50" y="1689.02" width="17.50" height="4.70" fill="#231815"/>
<rect x="2602.00" y="1689.02" width="17.50" height="4.70" fill="#231815"/>
<rect x="1646.50" y="1813.88" width="17.50" height="4.70" fill="#231815"/>
<rect x="2602.00" y="1813.88" width="17.50" height="4.70" fill="#231815"/>
<rect x="1646.50" y="1938.74" width="17.50" height="4.70" fill="#231815"/>
<rect x="2602.00" y="1938.74" width="17.50" height="4.70" fill="#231815"/>
<rect x="1646.50" y="2063.60" width="17.50" height="4.70" fill="#231815"/>
<rect x="2602.00" y="2063.60" width="17.50" height="4.70" fill="#231815"/>
<text transform="translate(1533.27,1210.80) scale(1.1434,1)" font-size="58.01" font-style="normal" fill="#000">0.1</text>
<text transform="translate(1585.65,1335.91) scale(1.1032,1)" font-size="58.39" font-style="normal" fill="#000">0</text>
<text transform="translate(1533.27,1460.52) scale(1.1434,1)" font-size="58.01" font-style="normal" fill="#000">0.1</text>
<rect x="1484.40" y="1444.24" width="38.80" height="2.80" fill="#000"/>
<text transform="translate(1533.18,1585.38) scale(1.1863,1)" font-size="58.01" font-style="normal" fill="#000">0.2</text>
<rect x="1484.40" y="1569.11" width="38.80" height="2.80" fill="#000"/>
<text transform="translate(1533.22,1710.25) scale(1.1700,1)" font-size="58.01" font-style="normal" fill="#000">0.3</text>
<rect x="1484.40" y="1693.97" width="38.80" height="2.80" fill="#000"/>
<text transform="translate(1533.24,1835.11) scale(1.1571,1)" font-size="58.01" font-style="normal" fill="#000">0.4</text>
<rect x="1484.40" y="1818.83" width="38.80" height="2.80" fill="#000"/>
<text transform="translate(1533.22,1959.97) scale(1.1700,1)" font-size="58.01" font-style="normal" fill="#000">0.5</text>
<rect x="1484.40" y="1943.69" width="38.80" height="2.80" fill="#000"/>
<text transform="translate(1533.24,2084.83) scale(1.1608,1)" font-size="58.01" font-style="normal" fill="#000">0.6</text>
<rect x="1484.40" y="2068.55" width="38.80" height="2.80" fill="#000"/>
<text transform="translate(1667.95,2121.73) scale(1.1097,1)" font-size="58.68" font-style="normal" fill="#231815">0</text>
<text transform="translate(1828.01,2121.47) scale(1.1832,1)" font-size="58.30" font-style="normal" fill="#231815">0.2</text>
<text transform="translate(2005.00,2121.47) scale(1.1441,1)" font-size="58.30" font-style="normal" fill="#231815">0.4</text>
<text transform="translate(2181.88,2121.47) scale(1.1578,1)" font-size="58.30" font-style="normal" fill="#231815">0.6</text>
<text transform="translate(2358.77,2121.47) scale(1.1660,1)" font-size="58.30" font-style="normal" fill="#231815">0.8</text>
<text transform="translate(2535.35,2121.47) scale(1.1551,1)" font-size="58.30" font-style="normal" fill="#231815">1.0</text>
<text transform="translate(2119.33,2196.42) scale(1.3730,1)" font-size="56.27" font-style="italic" fill="#231815">f</text>
<g transform="rotate(-90)"><text transform="translate(-1723.35,1435.28) scale(1.1212,1)" font-size="59.23" font-style="italic" fill="#231815">D</text><text transform="translate(-1668.67,1436.27) scale(0.9710,1)" font-size="64.96" font-style="normal" fill="#231815">(</text><text transform="translate(-1642.87,1434.01) scale(1.3837,1)" font-size="55.83" font-style="italic" fill="#231815">f</text><text transform="translate(-1613.84,1436.27) scale(0.9291,1)" font-size="64.96" font-style="normal" fill="#231815">)</text></g>
<g clip-path="url(#clipf)"><polyline points="2985.9,1316.8 2986.8,1318.0 2988.7,1320.7 2990.5,1323.3 2992.4,1325.9 2994.3,1328.6 2996.1,1331.2 2998.0,1333.8 2999.9,1336.5 3001.8,1339.1 3003.6,1341.8 3005.8,1344.9 3008.0,1348.0 3010.3,1351.1 3012.5,1354.2 3014.7,1357.4 3016.9,1360.5 3019.1,1363.6 3021.3,1366.7 3023.5,1369.8 3025.7,1373.0 3027.9,1376.1 3030.2,1379.2 3032.4,1382.3 3034.6,1385.5 3036.8,1388.6 3039.0,1391.7 3041.2,1394.8 3043.4,1397.9 3045.6,1401.1 3047.8,1404.2 3050.1,1407.3 3052.3,1410.4 3054.5,1413.5 3056.7,1416.7 3058.9,1419.8 3061.1,1422.9 3063.3,1426.0 3065.5,1429.2 3067.7,1432.3 3070.0,1435.4 3072.2,1438.5 3074.4,1441.6 3076.6,1444.8 3078.8,1447.9 3081.0,1451.0 3083.2,1454.1 3085.4,1457.2 3087.6,1460.4 3089.9,1463.5 3092.1,1466.6 3094.3,1469.7 3096.5,1472.8 3098.7,1476.0 3100.9,1479.1 3103.1,1482.2 3105.3,1485.3 3107.6,1488.4 3109.8,1491.6 3112.0,1494.7 3114.2,1497.8 3116.4,1500.9 3118.6,1504.1 3120.8,1507.2 3123.0,1510.3 3125.2,1513.4 3127.5,1516.5 3129.7,1519.7 3131.9,1522.8 3134.1,1525.9 3136.3,1529.0 3138.5,1532.1 3140.7,1535.3 3142.9,1538.4 3145.1,1541.5 3147.4,1544.6 3149.6,1547.7 3151.8,1550.9 3154.0,1554.0 3156.2,1557.1 3158.4,1560.2 3160.6,1563.3 3162.8,1566.5 3165.0,1569.6 3167.3,1572.7 3169.5,1575.8 3171.7,1578.9 3173.9,1582.1 3176.1,1585.2 3178.3,1588.3 3180.5,1591.4 3182.7,1594.6 3184.9,1597.7 3187.2,1600.8 3189.4,1603.9 3191.6,1607.0 3193.8,1610.2 3196.0,1613.3 3198.2,1616.4 3200.4,1619.5 3202.6,1622.6 3204.9,1625.8 3207.1,1628.9 3209.3,1632.0 3211.5,1635.1 3213.7,1638.2 3215.9,1641.4 3218.1,1644.5 3220.3,1647.6 3222.5,1650.7 3224.8,1653.8 3227.0,1657.0 3229.2,1660.1 3231.4,1663.2 3233.6,1666.3 3235.8,1669.4 3238.0,1672.6 3240.2,1675.7 3242.4,1678.8 3244.7,1681.9 3246.9,1685.0 3249.1,1688.2 3251.3,1691.3 3253.5,1694.4 3255.7,1697.5 3257.9,1700.6 3260.1,1703.8 3262.3,1706.9 3264.6,1710.0 3266.8,1713.1 3269.0,1716.2 3271.2,1719.4 3273.4,1722.5 3275.6,1725.6 3277.8,1728.7 3280.0,1731.8 3282.2,1734.9 3284.5,1738.1 3286.7,1741.2 3288.9,1744.3 3291.1,1747.4 3293.3,1750.5 3295.5,1753.6 3297.7,1756.7 3299.9,1759.8 3302.2,1763.0 3304.4,1766.1 3306.6,1769.2 3308.8,1772.3 3311.0,1775.4 3313.2,1778.5 3315.4,1781.6 3317.6,1784.7 3319.8,1787.8 3322.1,1790.9 3324.3,1794.0 3326.5,1797.1 3328.7,1800.2 3330.9,1803.3 3333.1,1806.3 3335.3,1809.4 3337.5,1812.5 3339.7,1815.6 3342.0,1818.7 3344.2,1821.7 3346.4,1824.8 3348.6,1827.9 3350.8,1830.9 3353.0,1834.0 3355.2,1837.1 3357.4,1840.1 3359.6,1843.1 3361.9,1846.2 3364.1,1849.2 3366.3,1852.2 3368.5,1855.3 3370.7,1858.3 3372.9,1861.3 3375.1,1864.3 3377.3,1867.3 3379.5,1870.3 3381.8,1873.2 3384.0,1876.2 3386.2,1879.2 3388.4,1882.1 3390.6,1885.1 3392.8,1888.0 3395.0,1890.9 3397.2,1893.8 3399.5,1896.7 3401.7,1899.6 3403.9,1902.4 3406.1,1905.3 3408.3,1908.1 3410.5,1911.0 3412.7,1913.8 3414.9,1916.6 3417.1,1919.3 3419.4,1922.1 3421.6,1924.8 3423.8,1927.6 3426.0,1930.3 3428.2,1932.9 3430.4,1935.6 3432.6,1938.2 3434.8,1940.8 3437.0,1943.4 3439.3,1946.0 3441.5,1948.5 3443.7,1951.1 3445.9,1953.5 3448.1,1956.0 3450.3,1958.4 3452.5,1960.9 3454.7,1963.2 3456.9,1965.6 3459.2,1967.9 3461.4,1970.2 3463.6,1972.4 3465.8,1974.7 3468.0,1976.8 3470.2,1979.0 3472.4,1981.1 3474.6,1983.2 3476.8,1985.2 3479.1,1987.2 3481.3,1989.2 3483.5,1991.1 3485.7,1993.0 3487.9,1994.9 3490.1,1996.7 3492.3,1998.4 3494.5,2000.1 3496.8,2001.8 3499.0,2003.4 3501.2,2005.0 3503.4,2006.6 3505.6,2008.1 3507.8,2009.5 3510.0,2010.9 3512.2,2012.2 3514.4,2013.5 3516.7,2014.8 3518.9,2016.0 3521.1,2017.1 3523.3,2018.2 3525.5,2019.3 3527.7,2020.2 3529.9,2021.2 3532.1,2022.1 3534.3,2022.9 3536.6,2023.6 3538.8,2024.3 3541.0,2025.0 3543.2,2025.6 3545.4,2026.1 3547.6,2026.6 3549.8,2027.0 3552.0,2027.4 3554.2,2027.6 3556.5,2027.9 3558.7,2028.0 3560.9,2028.1 3563.1,2028.2 3565.3,2028.1 3567.5,2028.1 3569.7,2027.9 3571.9,2027.7 3574.1,2027.4 3576.4,2027.0 3578.6,2026.6 3580.8,2026.1 3583.0,2025.5 3585.2,2024.9 3587.4,2024.2 3589.6,2023.4 3591.8,2022.5 3594.1,2021.6 3596.3,2020.6 3598.5,2019.5 3600.7,2018.3 3602.9,2017.1 3605.1,2015.8 3607.3,2014.4 3609.5,2012.9 3611.7,2011.4 3614.0,2009.7 3616.2,2008.0 3618.4,2006.2 3620.6,2004.3 3622.8,2002.3 3625.0,2000.3 3627.2,1998.1 3629.4,1995.9 3631.6,1993.5 3633.9,1991.1 3636.1,1988.6 3638.3,1986.0 3640.5,1983.3 3642.7,1980.5 3644.9,1977.6 3647.1,1974.6 3649.3,1971.5 3651.5,1968.3 3653.8,1965.0 3656.0,1961.6 3658.2,1958.1 3660.4,1954.5 3662.6,1950.8 3664.8,1947.0 3667.0,1943.1 3669.2,1939.1 3671.4,1934.9 3673.7,1930.7 3675.9,1926.3 3678.1,1921.8 3680.3,1917.2 3682.5,1912.5 3684.7,1907.7 3686.9,1902.8 3689.1,1897.7 3691.4,1892.5 3693.6,1887.2 3695.8,1881.8 3698.0,1876.3 3700.2,1870.6 3702.4,1864.9 3704.6,1859.0 3706.8,1853.0 3709.0,1846.9 3711.3,1840.6 3713.5,1834.2 3715.7,1827.8 3717.9,1821.2 3720.1,1814.5 3722.3,1807.6 3724.5,1800.7 3726.7,1793.6 3728.9,1786.5 3731.2,1779.2 3733.4,1771.9 3735.6,1764.4 3737.8,1756.8 3740.0,1749.2 3742.2,1741.4 3744.4,1733.6 3746.6,1725.7 3748.8,1717.7 3751.1,1709.6 3753.3,1701.4 3755.5,1693.2 3757.7,1685.0 3759.9,1676.7 3762.1,1668.4 3764.3,1660.0 3766.5,1651.6 3768.8,1643.2 3771.0,1634.7 3773.2,1626.3 3775.4,1617.9 3777.6,1609.5 3779.8,1601.2 3782.0,1592.9 3784.2,1584.6 3786.4,1576.5 3788.7,1568.3 3790.9,1560.3 3793.1,1552.4 3795.3,1544.7 3797.5,1537.0 3799.7,1529.5 3801.9,1522.1 3804.1,1515.0 3806.3,1508.0 3808.6,1501.2 3810.8,1494.6 3813.0,1488.3 3815.2,1482.2 3817.4,1476.3 3819.6,1470.7 3821.8,1465.4 3824.0,1460.3 3826.2,1455.6 3828.5,1451.1 3830.7,1447.0 3832.9,1443.2 3835.1,1439.7 3837.3,1436.5 3839.5,1433.7 3841.7,1431.2 3843.9,1429.0 3846.1,1427.1 3848.4,1425.6 3850.6,1424.4 3852.8,1423.6 3855.0,1423.0 3857.2,1422.7 3859.4,1422.8 3861.6,1423.1 3863.8,1423.7 3866.0,1424.5 3868.3,1425.6 3870.5,1426.9" fill="none" stroke="#20295a" stroke-width="5" stroke-linejoin="round" stroke-linecap="square"/><polyline points="2985.9,1316.8 2986.8,1318.0 2988.7,1320.7 2990.5,1323.3 2992.4,1325.9 2994.3,1328.6 2996.1,1331.2 2998.0,1333.8 2999.9,1336.5 3001.8,1339.1 3003.6,1341.8 3005.8,1344.9 3008.0,1348.0 3010.3,1351.1 3012.5,1354.2 3014.7,1357.4 3016.9,1360.5 3019.1,1363.6 3021.3,1366.7 3023.5,1369.8 3025.7,1373.0 3027.9,1376.1 3030.2,1379.2 3032.4,1382.3 3034.6,1385.5 3036.8,1388.6 3039.0,1391.7 3041.2,1394.8 3043.4,1397.9 3045.6,1401.1 3047.8,1404.2 3050.1,1407.3 3052.3,1410.4 3054.5,1413.5 3056.7,1416.7 3058.9,1419.8 3061.1,1422.9 3063.3,1426.0 3065.5,1429.1 3067.7,1432.3 3070.0,1435.4 3072.2,1438.5 3074.4,1441.6 3076.6,1444.8 3078.8,1447.9 3081.0,1451.0 3083.2,1454.1 3085.4,1457.2 3087.6,1460.4 3089.9,1463.5 3092.1,1466.6 3094.3,1469.7 3096.5,1472.8 3098.7,1476.0 3100.9,1479.1 3103.1,1482.2 3105.3,1485.3 3107.6,1488.4 3109.8,1491.6 3112.0,1494.7 3114.2,1497.8 3116.4,1500.9 3118.6,1504.1 3120.8,1507.2 3123.0,1510.3 3125.2,1513.4 3127.5,1516.5 3129.7,1519.7 3131.9,1522.8 3134.1,1525.9 3136.3,1529.0 3138.5,1532.1 3140.7,1535.3 3142.9,1538.4 3145.1,1541.5 3147.4,1544.6 3149.6,1547.7 3151.8,1550.9 3154.0,1554.0 3156.2,1557.1 3158.4,1560.2 3160.6,1563.3 3162.8,1566.5 3165.0,1569.6 3167.3,1572.7 3169.5,1575.8 3171.7,1578.9 3173.9,1582.1 3176.1,1585.2 3178.3,1588.3 3180.5,1591.4 3182.7,1594.5 3184.9,1597.7 3187.2,1600.8 3189.4,1603.9 3191.6,1607.0 3193.8,1610.1 3196.0,1613.3 3198.2,1616.4 3200.4,1619.5 3202.6,1622.6 3204.9,1625.8 3207.1,1628.9 3209.3,1632.0 3211.5,1635.1 3213.7,1638.2 3215.9,1641.4 3218.1,1644.5 3220.3,1647.6 3222.5,1650.7 3224.8,1653.8 3227.0,1657.0 3229.2,1660.1 3231.4,1663.2 3233.6,1666.3 3235.8,1669.4 3238.0,1672.6 3240.2,1675.7 3242.4,1678.8 3244.7,1681.9 3246.9,1685.0 3249.1,1688.2 3251.3,1691.3 3253.5,1694.4 3255.7,1697.5 3257.9,1700.6 3260.1,1703.8 3262.3,1706.9 3264.6,1710.0 3266.8,1713.1 3269.0,1716.2 3271.2,1719.4 3273.4,1722.5 3275.6,1725.6 3277.8,1728.7 3280.0,1731.8 3282.2,1734.9 3284.5,1738.0 3286.7,1741.2 3288.9,1744.3 3291.1,1747.4 3293.3,1750.5 3295.5,1753.6 3297.7,1756.7 3299.9,1759.8 3302.2,1762.9 3304.4,1766.1 3306.6,1769.2 3308.8,1772.3 3311.0,1775.4 3313.2,1778.5 3315.4,1781.6 3317.6,1784.7 3319.8,1787.8 3322.1,1790.9 3324.3,1794.0 3326.5,1797.1 3328.7,1800.1 3330.9,1803.2 3333.1,1806.3 3335.3,1809.4 3337.5,1812.5 3339.7,1815.6 3342.0,1818.6 3344.2,1821.7 3346.4,1824.8 3348.6,1827.8 3350.8,1830.9 3353.0,1834.0 3355.2,1837.0 3357.4,1840.1 3359.6,1843.1 3361.9,1846.1 3364.1,1849.2 3366.3,1852.2 3368.5,1855.2 3370.7,1858.2 3372.9,1861.2 3375.1,1864.2 3377.3,1867.2 3379.5,1870.2 3381.8,1873.1 3384.0,1876.1 3386.2,1879.1 3388.4,1882.0 3390.6,1884.9 3392.8,1887.8 3395.0,1890.8 3397.2,1893.7 3399.5,1896.5 3401.7,1899.4 3403.9,1902.3 3406.1,1905.1 3408.3,1907.9 3410.5,1910.7 3412.7,1913.5 3414.9,1916.3 3417.1,1919.1 3419.4,1921.8 3421.6,1924.5 3423.8,1927.2 3426.0,1929.9 3428.2,1932.6 3430.4,1935.2 3432.6,1937.8 3434.8,1940.4 3437.0,1943.0 3439.3,1945.5 3441.5,1948.0 3443.7,1950.5 3445.9,1953.0 3448.1,1955.4 3450.3,1957.8 3452.5,1960.2 3454.7,1962.6 3456.9,1964.9 3459.2,1967.2 3461.4,1969.4 3463.6,1971.6 3465.8,1973.8 3468.0,1976.0 3470.2,1978.1 3472.4,1980.1 3474.6,1982.2 3476.8,1984.2 3479.1,1986.1 3481.3,1988.0 3483.5,1989.9 3485.7,1991.7 3487.9,1993.5 3490.1,1995.3 3492.3,1997.0 3494.5,1998.6 3496.8,2000.3 3499.0,2001.8 3501.2,2003.3 3503.4,2004.8 3505.6,2006.2 3507.8,2007.6 3510.0,2008.9 3512.2,2010.2 3514.4,2011.4 3516.7,2012.6 3518.9,2013.7 3521.1,2014.7 3523.3,2015.7 3525.5,2016.7 3527.7,2017.6 3529.9,2018.4 3532.1,2019.2 3534.3,2019.9 3536.6,2020.6 3538.8,2021.2 3541.0,2021.7 3543.2,2022.2 3545.4,2022.6 3547.6,2023.0 3549.8,2023.3 3552.0,2023.5 3554.2,2023.7 3556.5,2023.8 3558.7,2023.8 3560.9,2023.8 3563.1,2023.7 3565.3,2023.5 3567.5,2023.3 3569.7,2023.0 3571.9,2022.6 3574.1,2022.2 3576.4,2021.7 3578.6,2021.1 3580.8,2020.4 3583.0,2019.7 3585.2,2018.9 3587.4,2018.0 3589.6,2017.1 3591.8,2016.0 3594.1,2014.9 3596.3,2013.7 3598.5,2012.5 3600.7,2011.1 3602.9,2009.7 3605.1,2008.2 3607.3,2006.6 3609.5,2004.9 3611.7,2003.1 3614.0,2001.3 3616.2,1999.4 3618.4,1997.3 3620.6,1995.2 3622.8,1993.0 3625.0,1990.8 3627.2,1988.4 3629.4,1985.9 3631.6,1983.3 3633.9,1980.7 3636.1,1977.9 3638.3,1975.1 3640.5,1972.1 3642.7,1969.0 3644.9,1965.9 3647.1,1962.6 3649.3,1959.3 3651.5,1955.8 3653.8,1952.2 3656.0,1948.6 3658.2,1944.8 3660.4,1940.9 3662.6,1936.9 3664.8,1932.7 3667.0,1928.5 3669.2,1924.2 3671.4,1919.7 3673.7,1915.1 3675.9,1910.4 3678.1,1905.6 3680.3,1900.7 3682.5,1895.7 3684.7,1890.5 3686.9,1885.2 3689.1,1879.8 3691.4,1874.3 3693.6,1868.6 3695.8,1862.8 3698.0,1856.9 3700.2,1850.9 3702.4,1844.7 3704.6,1838.5 3706.8,1832.0 3709.0,1825.5 3711.3,1818.9 3713.5,1812.1 3715.7,1805.2 3717.9,1798.2 3720.1,1791.0 3722.3,1783.8 3724.5,1776.4 3726.7,1768.9 3728.9,1761.3 3731.2,1753.6 3733.4,1745.8 3735.6,1737.8 3737.8,1729.8 3740.0,1721.7 3742.2,1713.5 3744.4,1705.1 3746.6,1696.7 3748.8,1688.3 3751.1,1679.7 3753.3,1671.1 3755.5,1662.4 3757.7,1653.6 3759.9,1644.8 3762.1,1636.0 3764.3,1627.1 3766.5,1618.2 3768.8,1609.3 3771.0,1600.4 3773.2,1591.5 3775.4,1582.6 3777.6,1573.7 3779.8,1564.8 3782.0,1556.0 3784.2,1547.3 3786.4,1538.6 3788.7,1530.0 3790.9,1521.5 3793.1,1513.1 3795.3,1504.9 3797.5,1496.8 3799.7,1488.8 3801.9,1481.0 3804.1,1473.4 3806.3,1465.9 3808.6,1458.7 3810.8,1451.7 3813.0,1445.0 3815.2,1438.4 3817.4,1432.2 3819.6,1426.2 3821.8,1420.5 3824.0,1415.1 3826.2,1410.0 3828.5,1405.3 3830.7,1400.8 3832.9,1396.7 3835.1,1392.9 3837.3,1389.5 3839.5,1386.4 3841.7,1383.6 3843.9,1381.2 3846.1,1379.2 3848.4,1377.4 3850.6,1376.1 3852.8,1375.0 3855.0,1374.3 3857.2,1373.9 3859.4,1373.8 3861.6,1374.0 3863.8,1374.4 3866.0,1375.2 3868.3,1376.2 3870.5,1377.4" fill="none" stroke="#d3a226" stroke-width="5" stroke-linejoin="round" stroke-linecap="square"/><polyline points="2985.9,1316.8 2986.8,1318.0 2988.7,1320.7 2990.5,1323.3 2992.4,1325.9 2994.3,1328.6 2996.1,1331.2 2998.0,1333.8 2999.9,1336.5 3001.8,1339.1 3003.6,1341.8 3005.8,1344.9 3008.0,1348.0 3010.3,1351.1 3012.5,1354.2 3014.7,1357.4 3016.9,1360.5 3019.1,1363.6 3021.3,1366.7 3023.5,1369.8 3025.7,1373.0 3027.9,1376.1 3030.2,1379.2 3032.4,1382.3 3034.6,1385.5 3036.8,1388.6 3039.0,1391.7 3041.2,1394.8 3043.4,1397.9 3045.6,1401.1 3047.8,1404.2 3050.1,1407.3 3052.3,1410.4 3054.5,1413.5 3056.7,1416.7 3058.9,1419.8 3061.1,1422.9 3063.3,1426.0 3065.5,1429.1 3067.7,1432.3 3070.0,1435.4 3072.2,1438.5 3074.4,1441.6 3076.6,1444.8 3078.8,1447.9 3081.0,1451.0 3083.2,1454.1 3085.4,1457.2 3087.6,1460.4 3089.9,1463.5 3092.1,1466.6 3094.3,1469.7 3096.5,1472.8 3098.7,1476.0 3100.9,1479.1 3103.1,1482.2 3105.3,1485.3 3107.6,1488.4 3109.8,1491.6 3112.0,1494.7 3114.2,1497.8 3116.4,1500.9 3118.6,1504.1 3120.8,1507.2 3123.0,1510.3 3125.2,1513.4 3127.5,1516.5 3129.7,1519.7 3131.9,1522.8 3134.1,1525.9 3136.3,1529.0 3138.5,1532.1 3140.7,1535.3 3142.9,1538.4 3145.1,1541.5 3147.4,1544.6 3149.6,1547.7 3151.8,1550.9 3154.0,1554.0 3156.2,1557.1 3158.4,1560.2 3160.6,1563.3 3162.8,1566.5 3165.0,1569.6 3167.3,1572.7 3169.5,1575.8 3171.7,1578.9 3173.9,1582.1 3176.1,1585.2 3178.3,1588.3 3180.5,1591.4 3182.7,1594.5 3184.9,1597.7 3187.2,1600.8 3189.4,1603.9 3191.6,1607.0 3193.8,1610.1 3196.0,1613.3 3198.2,1616.4 3200.4,1619.5 3202.6,1622.6 3204.9,1625.7 3207.1,1628.9 3209.3,1632.0 3211.5,1635.1 3213.7,1638.2 3215.9,1641.3 3218.1,1644.5 3220.3,1647.6 3222.5,1650.7 3224.8,1653.8 3227.0,1657.0 3229.2,1660.1 3231.4,1663.2 3233.6,1666.3 3235.8,1669.4 3238.0,1672.6 3240.2,1675.7 3242.4,1678.8 3244.7,1681.9 3246.9,1685.0 3249.1,1688.2 3251.3,1691.3 3253.5,1694.4 3255.7,1697.5 3257.9,1700.6 3260.1,1703.8 3262.3,1706.9 3264.6,1710.0 3266.8,1713.1 3269.0,1716.2 3271.2,1719.3 3273.4,1722.5 3275.6,1725.6 3277.8,1728.7 3280.0,1731.8 3282.2,1734.9 3284.5,1738.0 3286.7,1741.2 3288.9,1744.3 3291.1,1747.4 3293.3,1750.5 3295.5,1753.6 3297.7,1756.7 3299.9,1759.8 3302.2,1762.9 3304.4,1766.0 3306.6,1769.1 3308.8,1772.3 3311.0,1775.4 3313.2,1778.5 3315.4,1781.6 3317.6,1784.7 3319.8,1787.8 3322.1,1790.9 3324.3,1793.9 3326.5,1797.0 3328.7,1800.1 3330.9,1803.2 3333.1,1806.3 3335.3,1809.4 3337.5,1812.5 3339.7,1815.5 3342.0,1818.6 3344.2,1821.7 3346.4,1824.7 3348.6,1827.8 3350.8,1830.9 3353.0,1833.9 3355.2,1837.0 3357.4,1840.0 3359.6,1843.0 3361.9,1846.1 3364.1,1849.1 3366.3,1852.1 3368.5,1855.1 3370.7,1858.1 3372.9,1861.1 3375.1,1864.1 3377.3,1867.1 3379.5,1870.1 3381.8,1873.1 3384.0,1876.0 3386.2,1879.0 3388.4,1881.9 3390.6,1884.8 3392.8,1887.7 3395.0,1890.6 3397.2,1893.5 3399.5,1896.4 3401.7,1899.2 3403.9,1902.1 3406.1,1904.9 3408.3,1907.7 3410.5,1910.5 3412.7,1913.3 3414.9,1916.1 3417.1,1918.8 3419.4,1921.5 3421.6,1924.3 3423.8,1926.9 3426.0,1929.6 3428.2,1932.2 3430.4,1934.9 3432.6,1937.5 3434.8,1940.0 3437.0,1942.6 3439.3,1945.1 3441.5,1947.6 3443.7,1950.1 3445.9,1952.5 3448.1,1954.9 3450.3,1957.3 3452.5,1959.6 3454.7,1962.0 3456.9,1964.2 3459.2,1966.5 3461.4,1968.7 3463.6,1970.9 3465.8,1973.0 3468.0,1975.1 3470.2,1977.2 3472.4,1979.2 3474.6,1981.2 3476.8,1983.2 3479.1,1985.1 3481.3,1987.0 3483.5,1988.8 3485.7,1990.6 3487.9,1992.3 3490.1,1994.0 3492.3,1995.6 3494.5,1997.3 3496.8,1998.8 3499.0,2000.3 3501.2,2001.8 3503.4,2003.2 3505.6,2004.5 3507.8,2005.8 3510.0,2007.1 3512.2,2008.3 3514.4,2009.4 3516.7,2010.5 3518.9,2011.5 3521.1,2012.5 3523.3,2013.4 3525.5,2014.3 3527.7,2015.1 3529.9,2015.9 3532.1,2016.5 3534.3,2017.2 3536.6,2017.7 3538.8,2018.2 3541.0,2018.7 3543.2,2019.1 3545.4,2019.4 3547.6,2019.6 3549.8,2019.8 3552.0,2019.9 3554.2,2020.0 3556.5,2020.0 3558.7,2019.9 3560.9,2019.7 3563.1,2019.5 3565.3,2019.2 3567.5,2018.9 3569.7,2018.4 3571.9,2017.9 3574.1,2017.4 3576.4,2016.7 3578.6,2016.0 3580.8,2015.2 3583.0,2014.3 3585.2,2013.3 3587.4,2012.3 3589.6,2011.2 3591.8,2010.0 3594.1,2008.7 3596.3,2007.4 3598.5,2005.9 3600.7,2004.4 3602.9,2002.8 3605.1,2001.1 3607.3,1999.4 3609.5,1997.5 3611.7,1995.6 3614.0,1993.5 3616.2,1991.4 3618.4,1989.2 3620.6,1986.9 3622.8,1984.5 3625.0,1982.0 3627.2,1979.4 3629.4,1976.7 3631.6,1973.9 3633.9,1971.0 3636.1,1968.0 3638.3,1964.9 3640.5,1961.7 3642.7,1958.4 3644.9,1955.1 3647.1,1951.5 3649.3,1947.9 3651.5,1944.2 3653.8,1940.4 3656.0,1936.4 3658.2,1932.4 3660.4,1928.2 3662.6,1923.9 3664.8,1919.6 3667.0,1915.0 3669.2,1910.4 3671.4,1905.7 3673.7,1900.8 3675.9,1895.8 3678.1,1890.7 3680.3,1885.4 3682.5,1880.1 3684.7,1874.6 3686.9,1869.0 3689.1,1863.2 3691.4,1857.4 3693.6,1851.4 3695.8,1845.2 3698.0,1839.0 3700.2,1832.6 3702.4,1826.1 3704.6,1819.5 3706.8,1812.7 3709.0,1805.8 3711.3,1798.8 3713.5,1791.6 3715.7,1784.3 3717.9,1776.9 3720.1,1769.4 3722.3,1761.7 3724.5,1753.9 3726.7,1746.0 3728.9,1738.0 3731.2,1729.9 3733.4,1721.6 3735.6,1713.3 3737.8,1704.8 3740.0,1696.3 3742.2,1687.6 3744.4,1678.8 3746.6,1670.0 3748.8,1661.1 3751.1,1652.1 3753.3,1643.0 3755.5,1633.8 3757.7,1624.6 3759.9,1615.4 3762.1,1606.1 3764.3,1596.7 3766.5,1587.4 3768.8,1578.0 3771.0,1568.6 3773.2,1559.2 3775.4,1549.9 3777.6,1540.5 3779.8,1531.2 3782.0,1521.9 3784.2,1512.7 3786.4,1503.6 3788.7,1494.6 3790.9,1485.6 3793.1,1476.8 3795.3,1468.1 3797.5,1459.6 3799.7,1451.2 3801.9,1442.9 3804.1,1434.9 3806.3,1427.1 3808.6,1419.4 3810.8,1412.0 3813.0,1404.9 3815.2,1398.0 3817.4,1391.4 3819.6,1385.1 3821.8,1379.0 3824.0,1373.3 3826.2,1367.9 3828.5,1362.8 3830.7,1358.1 3832.9,1353.7 3835.1,1349.6 3837.3,1346.0 3839.5,1342.6 3841.7,1339.6 3843.9,1337.0 3846.1,1334.8 3848.4,1332.9 3850.6,1331.3 3852.8,1330.1 3855.0,1329.2 3857.2,1328.7 3859.4,1328.4 3861.6,1328.5 3863.8,1328.9 3866.0,1329.5 3868.3,1330.5 3870.5,1331.6" fill="none" stroke="#741c78" stroke-width="5" stroke-linejoin="round" stroke-dasharray="19 7.3"/><line x1="2985.93" y1="1316.78" x2="3870.47" y2="1316.78" stroke="#231815" stroke-width="4.6" stroke-dasharray="5.5 7.71"/></g>
<rect x="2939.35" y="1164.60" width="977.70" height="4.70" fill="#231815"/>
<rect x="2939.35" y="2063.60" width="977.70" height="4.70" fill="#231815"/>
<rect x="2939.35" y="1164.60" width="4.70" height="903.70" fill="#231815"/>
<rect x="3912.35" y="1164.60" width="4.70" height="903.70" fill="#231815"/>
<rect x="2983.58" y="2048.45" width="4.70" height="17.50" fill="#231815"/>
<rect x="2983.58" y="1166.95" width="4.70" height="17.50" fill="#231815"/>
<rect x="3160.49" y="2048.45" width="4.70" height="17.50" fill="#231815"/>
<rect x="3160.49" y="1166.95" width="4.70" height="17.50" fill="#231815"/>
<rect x="3337.40" y="2048.45" width="4.70" height="17.50" fill="#231815"/>
<rect x="3337.40" y="1166.95" width="4.70" height="17.50" fill="#231815"/>
<rect x="3514.30" y="2048.45" width="4.70" height="17.50" fill="#231815"/>
<rect x="3514.30" y="1166.95" width="4.70" height="17.50" fill="#231815"/>
<rect x="3691.21" y="2048.45" width="4.70" height="17.50" fill="#231815"/>
<rect x="3691.21" y="1166.95" width="4.70" height="17.50" fill="#231815"/>
<rect x="3868.12" y="2048.45" width="4.70" height="17.50" fill="#231815"/>
<rect x="3868.12" y="1166.95" width="4.70" height="17.50" fill="#231815"/>
<rect x="2941.70" y="1189.57" width="17.50" height="4.70" fill="#231815"/>
<rect x="3897.20" y="1189.57" width="17.50" height="4.70" fill="#231815"/>
<rect x="2941.70" y="1314.43" width="17.50" height="4.70" fill="#231815"/>
<rect x="3897.20" y="1314.43" width="17.50" height="4.70" fill="#231815"/>
<rect x="2941.70" y="1439.29" width="17.50" height="4.70" fill="#231815"/>
<rect x="3897.20" y="1439.29" width="17.50" height="4.70" fill="#231815"/>
<rect x="2941.70" y="1564.16" width="17.50" height="4.70" fill="#231815"/>
<rect x="3897.20" y="1564.16" width="17.50" height="4.70" fill="#231815"/>
<rect x="2941.70" y="1689.02" width="17.50" height="4.70" fill="#231815"/>
<rect x="3897.20" y="1689.02" width="17.50" height="4.70" fill="#231815"/>
<rect x="2941.70" y="1813.88" width="17.50" height="4.70" fill="#231815"/>
<rect x="3897.20" y="1813.88" width="17.50" height="4.70" fill="#231815"/>
<rect x="2941.70" y="1938.74" width="17.50" height="4.70" fill="#231815"/>
<rect x="3897.20" y="1938.74" width="17.50" height="4.70" fill="#231815"/>
<rect x="2941.70" y="2063.60" width="17.50" height="4.70" fill="#231815"/>
<rect x="3897.20" y="2063.60" width="17.50" height="4.70" fill="#231815"/>
<text transform="translate(2828.47,1210.80) scale(1.1434,1)" font-size="58.01" font-style="normal" fill="#000">0.1</text>
<text transform="translate(2880.85,1335.91) scale(1.1032,1)" font-size="58.39" font-style="normal" fill="#000">0</text>
<text transform="translate(2828.47,1460.52) scale(1.1434,1)" font-size="58.01" font-style="normal" fill="#000">0.1</text>
<rect x="2779.60" y="1444.24" width="38.80" height="2.80" fill="#000"/>
<text transform="translate(2828.38,1585.38) scale(1.1863,1)" font-size="58.01" font-style="normal" fill="#000">0.2</text>
<rect x="2779.60" y="1569.11" width="38.80" height="2.80" fill="#000"/>
<text transform="translate(2828.42,1710.25) scale(1.1700,1)" font-size="58.01" font-style="normal" fill="#000">0.3</text>
<rect x="2779.60" y="1693.97" width="38.80" height="2.80" fill="#000"/>
<text transform="translate(2828.44,1835.11) scale(1.1571,1)" font-size="58.01" font-style="normal" fill="#000">0.4</text>
<rect x="2779.60" y="1818.83" width="38.80" height="2.80" fill="#000"/>
<text transform="translate(2828.42,1959.97) scale(1.1700,1)" font-size="58.01" font-style="normal" fill="#000">0.5</text>
<rect x="2779.60" y="1943.69" width="38.80" height="2.80" fill="#000"/>
<text transform="translate(2828.44,2084.83) scale(1.1608,1)" font-size="58.01" font-style="normal" fill="#000">0.6</text>
<rect x="2779.60" y="2068.55" width="38.80" height="2.80" fill="#000"/>
<text transform="translate(2971.17,2121.73) scale(1.0976,1)" font-size="58.68" font-style="normal" fill="#231815">0</text>
<text transform="translate(3123.21,2121.47) scale(1.1832,1)" font-size="58.30" font-style="normal" fill="#231815">0.2</text>
<text transform="translate(3300.20,2121.47) scale(1.1441,1)" font-size="58.30" font-style="normal" fill="#231815">0.4</text>
<text transform="translate(3477.08,2121.47) scale(1.1578,1)" font-size="58.30" font-style="normal" fill="#231815">0.6</text>
<text transform="translate(3653.97,2121.47) scale(1.1660,1)" font-size="58.30" font-style="normal" fill="#231815">0.8</text>
<text transform="translate(3830.55,2121.47) scale(1.1551,1)" font-size="58.30" font-style="normal" fill="#231815">1.0</text>
<text transform="translate(3414.53,2196.42) scale(1.3730,1)" font-size="56.27" font-style="italic" fill="#231815">f</text>
<g transform="rotate(-90)"><text transform="translate(-1723.35,2730.48) scale(1.1212,1)" font-size="59.23" font-style="italic" fill="#231815">D</text><text transform="translate(-1668.67,2731.47) scale(0.9710,1)" font-size="64.96" font-style="normal" fill="#231815">(</text><text transform="translate(-1642.87,2729.21) scale(1.3837,1)" font-size="55.83" font-style="italic" fill="#231815">f</text><text transform="translate(-1613.84,2731.47) scale(0.9291,1)" font-size="64.96" font-style="normal" fill="#231815">)</text></g>
<rect x="393.00" y="599.60" width="104.50" height="5.00" fill="#20295a"/>
<text transform="translate(521.57,607.47) scale(1.1279,1)" font-size="55.55" font-style="italic" fill="#231815">p</text>
<rect x="572.60" y="586.00" width="41.10" height="2.60" fill="#231815"/><rect x="572.60" y="598.60" width="41.10" height="2.60" fill="#231815"/>
<text transform="translate(632.14,607.88) scale(1.1659,1)" font-size="57.72" font-style="normal" fill="#231815">0.09</text>
<rect x="393.00" y="658.45" width="104.50" height="5.00" fill="#d3a226"/>
<text transform="translate(521.57,669.17) scale(1.1279,1)" font-size="55.55" font-style="italic" fill="#231815">p</text>
<rect x="572.60" y="647.70" width="41.10" height="2.60" fill="#231815"/><rect x="572.60" y="660.30" width="41.10" height="2.60" fill="#231815"/>
<text transform="translate(632.14,669.58) scale(1.1645,1)" font-size="57.72" font-style="normal" fill="#231815">0.13</text>
<rect x="395.00" y="717.30" width="19.50" height="5.00" fill="#741c78"/>
<rect x="421.30" y="717.30" width="19.50" height="5.00" fill="#741c78"/>
<rect x="447.60" y="717.30" width="19.50" height="5.00" fill="#741c78"/>
<rect x="473.90" y="717.30" width="19.50" height="5.00" fill="#741c78"/>
<text transform="translate(521.57,730.87) scale(1.1279,1)" font-size="55.55" font-style="italic" fill="#231815">p</text>
<g filter="url(#gs)"><text transform="translate(552.94,740.16) scale(1.3207,1)" font-size="34.93" font-style="normal" fill="#231815">c</text></g>
<rect x="592.60" y="709.40" width="41.10" height="2.60" fill="#231815"/><rect x="592.60" y="722.00" width="41.10" height="2.60" fill="#231815"/>
<text transform="translate(653.25,731.28) scale(1.1619,1)" font-size="57.72" font-style="normal" fill="#231815">0.170</text>
<rect x="393.00" y="776.15" width="104.50" height="5.00" fill="#127d3d"/>
<text transform="translate(521.57,792.57) scale(1.1279,1)" font-size="55.55" font-style="italic" fill="#231815">p</text>
<rect x="572.60" y="771.10" width="41.10" height="2.60" fill="#231815"/><rect x="572.60" y="783.70" width="41.10" height="2.60" fill="#231815"/>
<text transform="translate(632.17,792.98) scale(1.1529,1)" font-size="57.72" font-style="normal" fill="#231815">0.21</text>
<rect x="393.00" y="835.00" width="104.50" height="5.00" fill="#e5161f"/>
<text transform="translate(521.57,854.27) scale(1.1279,1)" font-size="55.55" font-style="italic" fill="#231815">p</text>
<rect x="572.60" y="832.80" width="41.10" height="2.60" fill="#231815"/><rect x="572.60" y="845.40" width="41.10" height="2.60" fill="#231815"/>
<text transform="translate(632.15,854.68) scale(1.1590,1)" font-size="57.72" font-style="normal" fill="#231815">0.25</text>
<rect x="1689.00" y="599.60" width="104.50" height="5.00" fill="#20295a"/>
<text transform="translate(1825.67,607.47) scale(1.1279,1)" font-size="55.55" font-style="italic" fill="#231815">p</text>
<rect x="1876.30" y="586.00" width="41.10" height="2.60" fill="#231815"/><rect x="1876.30" y="598.60" width="41.10" height="2.60" fill="#231815"/>
<text transform="translate(1935.84,607.88) scale(1.1645,1)" font-size="57.72" font-style="normal" fill="#231815">0.23</text>
<rect x="1689.00" y="658.45" width="104.50" height="5.00" fill="#d3a226"/>
<text transform="translate(1825.67,669.17) scale(1.1279,1)" font-size="55.55" font-style="italic" fill="#231815">p</text>
<rect x="1876.30" y="647.70" width="41.10" height="2.60" fill="#231815"/><rect x="1876.30" y="660.30" width="41.10" height="2.60" fill="#231815"/>
<text transform="translate(1935.81,669.58) scale(1.1765,1)" font-size="57.72" font-style="normal" fill="#231815">0.27</text>
<rect x="1691.00" y="717.30" width="19.50" height="5.00" fill="#741c78"/>
<rect x="1717.30" y="717.30" width="19.50" height="5.00" fill="#741c78"/>
<rect x="1743.60" y="717.30" width="19.50" height="5.00" fill="#741c78"/>
<rect x="1769.90" y="717.30" width="19.50" height="5.00" fill="#741c78"/>
<text transform="translate(1825.67,730.87) scale(1.1279,1)" font-size="55.55" font-style="italic" fill="#231815">p</text>
<g filter="url(#gs)"><text transform="translate(1857.24,740.16) scale(1.3207,1)" font-size="34.93" font-style="normal" fill="#231815">c</text></g>
<rect x="1896.30" y="709.40" width="41.10" height="2.60" fill="#231815"/><rect x="1896.30" y="722.00" width="41.10" height="2.60" fill="#231815"/>
<text transform="translate(1957.56,731.28) scale(1.1567,1)" font-size="57.72" font-style="normal" fill="#231815">0.315</text>
<rect x="1689.00" y="776.15" width="104.50" height="5.00" fill="#127d3d"/>
<text transform="translate(1825.67,792.57) scale(1.1279,1)" font-size="55.55" font-style="italic" fill="#231815">p</text>
<rect x="1876.30" y="771.10" width="41.10" height="2.60" fill="#231815"/><rect x="1876.30" y="783.70" width="41.10" height="2.60" fill="#231815"/>
<text transform="translate(1935.85,792.98) scale(1.1590,1)" font-size="57.72" font-style="normal" fill="#231815">0.35</text>
<rect x="1689.00" y="835.00" width="104.50" height="5.00" fill="#e5161f"/>
<text transform="translate(1825.67,854.27) scale(1.1279,1)" font-size="55.55" font-style="italic" fill="#231815">p</text>
<rect x="1876.30" y="832.80" width="41.10" height="2.60" fill="#231815"/><rect x="1876.30" y="845.40" width="41.10" height="2.60" fill="#231815"/>
<text transform="translate(1935.84,854.68) scale(1.1659,1)" font-size="57.72" font-style="normal" fill="#231815">0.39</text>
<rect x="2984.20" y="599.60" width="104.50" height="5.00" fill="#20295a"/>
<text transform="translate(3113.27,607.47) scale(1.1279,1)" font-size="55.55" font-style="italic" fill="#231815">p</text>
<rect x="3162.90" y="586.00" width="41.10" height="2.60" fill="#231815"/><rect x="3162.90" y="598.60" width="41.10" height="2.60" fill="#231815"/>
<text transform="translate(3223.45,607.88) scale(1.1590,1)" font-size="57.72" font-style="normal" fill="#231815">0.45</text>
<rect x="2984.20" y="658.45" width="104.50" height="5.00" fill="#d3a226"/>
<text transform="translate(3113.27,669.17) scale(1.1279,1)" font-size="55.55" font-style="italic" fill="#231815">p</text>
<rect x="3162.90" y="647.70" width="41.10" height="2.60" fill="#231815"/><rect x="3162.90" y="660.30" width="41.10" height="2.60" fill="#231815"/>
<text transform="translate(3223.44,669.58) scale(1.1659,1)" font-size="57.72" font-style="normal" fill="#231815">0.49</text>
<rect x="2986.20" y="717.30" width="19.50" height="5.00" fill="#741c78"/>
<rect x="3012.50" y="717.30" width="19.50" height="5.00" fill="#741c78"/>
<rect x="3038.80" y="717.30" width="19.50" height="5.00" fill="#741c78"/>
<rect x="3065.10" y="717.30" width="19.50" height="5.00" fill="#741c78"/>
<text transform="translate(3113.27,730.87) scale(1.1279,1)" font-size="55.55" font-style="italic" fill="#231815">p</text>
<g filter="url(#gs)"><text transform="translate(3143.64,740.16) scale(1.3207,1)" font-size="34.93" font-style="normal" fill="#231815">c</text></g>
<rect x="3184.50" y="709.40" width="41.10" height="2.60" fill="#231815"/><rect x="3184.50" y="722.00" width="41.10" height="2.60" fill="#231815"/>
<text transform="translate(3243.45,731.28) scale(1.1619,1)" font-size="57.72" font-style="normal" fill="#231815">0.529</text>
<rect x="2984.20" y="776.15" width="104.50" height="5.00" fill="#127d3d"/>
<text transform="translate(3113.27,792.57) scale(1.1279,1)" font-size="55.55" font-style="italic" fill="#231815">p</text>
<rect x="3162.90" y="771.10" width="41.10" height="2.60" fill="#231815"/><rect x="3162.90" y="783.70" width="41.10" height="2.60" fill="#231815"/>
<text transform="translate(3223.41,792.98) scale(1.1765,1)" font-size="57.72" font-style="normal" fill="#231815">0.57</text>
<rect x="2984.20" y="835.00" width="104.50" height="5.00" fill="#e5161f"/>
<text transform="translate(3113.27,854.27) scale(1.1279,1)" font-size="55.55" font-style="italic" fill="#231815">p</text>
<rect x="3162.90" y="832.80" width="41.10" height="2.60" fill="#231815"/><rect x="3162.90" y="845.40" width="41.10" height="2.60" fill="#231815"/>
<text transform="translate(3223.47,854.68) scale(1.1529,1)" font-size="57.72" font-style="normal" fill="#231815">0.61</text>
<rect x="393.00" y="1751.10" width="104.50" height="5.00" fill="#20295a"/>
<text transform="translate(521.77,1758.97) scale(1.1279,1)" font-size="55.55" font-style="italic" fill="#231815">p</text>
<rect x="572.70" y="1737.50" width="41.10" height="2.60" fill="#231815"/><rect x="572.70" y="1750.10" width="41.10" height="2.60" fill="#231815"/>
<text transform="translate(632.45,1759.38) scale(1.1590,1)" font-size="57.72" font-style="normal" fill="#231815">0.65</text>
<rect x="393.00" y="1809.95" width="104.50" height="5.00" fill="#d3a226"/>
<text transform="translate(521.77,1820.67) scale(1.1279,1)" font-size="55.55" font-style="italic" fill="#231815">p</text>
<rect x="572.70" y="1799.20" width="41.10" height="2.60" fill="#231815"/><rect x="572.70" y="1811.80" width="41.10" height="2.60" fill="#231815"/>
<text transform="translate(632.44,1821.08) scale(1.1659,1)" font-size="57.72" font-style="normal" fill="#231815">0.69</text>
<rect x="395.00" y="1868.80" width="19.50" height="5.00" fill="#741c78"/>
<rect x="421.30" y="1868.80" width="19.50" height="5.00" fill="#741c78"/>
<rect x="447.60" y="1868.80" width="19.50" height="5.00" fill="#741c78"/>
<rect x="473.90" y="1868.80" width="19.50" height="5.00" fill="#741c78"/>
<text transform="translate(521.77,1882.37) scale(1.1279,1)" font-size="55.55" font-style="italic" fill="#231815">p</text>
<g filter="url(#gs)"><text transform="translate(553.44,1891.66) scale(1.3207,1)" font-size="34.93" font-style="normal" fill="#231815">c</text></g>
<rect x="592.90" y="1860.90" width="41.10" height="2.60" fill="#231815"/><rect x="592.90" y="1873.50" width="41.10" height="2.60" fill="#231815"/>
<text transform="translate(653.25,1882.78) scale(1.1609,1)" font-size="57.72" font-style="normal" fill="#231815">0.733</text>
<rect x="393.00" y="1927.65" width="104.50" height="5.00" fill="#127d3d"/>
<text transform="translate(521.77,1944.07) scale(1.1279,1)" font-size="55.55" font-style="italic" fill="#231815">p</text>
<rect x="572.70" y="1922.60" width="41.10" height="2.60" fill="#231815"/><rect x="572.70" y="1935.20" width="41.10" height="2.60" fill="#231815"/>
<text transform="translate(632.41,1944.48) scale(1.1765,1)" font-size="57.72" font-style="normal" fill="#231815">0.77</text>
<rect x="393.00" y="1986.50" width="104.50" height="5.00" fill="#e5161f"/>
<text transform="translate(521.77,2005.77) scale(1.1279,1)" font-size="55.55" font-style="italic" fill="#231815">p</text>
<rect x="572.70" y="1984.30" width="41.10" height="2.60" fill="#231815"/><rect x="572.70" y="1996.90" width="41.10" height="2.60" fill="#231815"/>
<text transform="translate(632.47,2006.18) scale(1.1529,1)" font-size="57.72" font-style="normal" fill="#231815">0.81</text>
<rect x="1689.00" y="1751.10" width="104.50" height="5.00" fill="#20295a"/>
<text transform="translate(1818.07,1758.97) scale(1.1279,1)" font-size="55.55" font-style="italic" fill="#231815">p</text>
<rect x="1867.70" y="1737.50" width="41.10" height="2.60" fill="#231815"/><rect x="1867.70" y="1750.10" width="41.10" height="2.60" fill="#231815"/>
<text transform="translate(1928.03,1759.38) scale(1.1703,1)" font-size="57.72" font-style="normal" fill="#231815">0.82</text>
<rect x="1689.00" y="1809.95" width="104.50" height="5.00" fill="#d3a226"/>
<text transform="translate(1818.07,1820.67) scale(1.1279,1)" font-size="55.55" font-style="italic" fill="#231815">p</text>
<rect x="1867.70" y="1799.20" width="41.10" height="2.60" fill="#231815"/><rect x="1867.70" y="1811.80" width="41.10" height="2.60" fill="#231815"/>
<text transform="translate(1928.05,1821.08) scale(1.1581,1)" font-size="57.72" font-style="normal" fill="#231815">0.86</text>
<rect x="1691.00" y="1868.80" width="19.50" height="5.00" fill="#741c78"/>
<rect x="1717.30" y="1868.80" width="19.50" height="5.00" fill="#741c78"/>
<rect x="1743.60" y="1868.80" width="19.50" height="5.00" fill="#741c78"/>
<rect x="1769.90" y="1868.80" width="19.50" height="5.00" fill="#741c78"/>
<text transform="translate(1818.07,1882.37) scale(1.1279,1)" font-size="55.55" font-style="italic" fill="#231815">p</text>
<g filter="url(#gs)"><text transform="translate(1847.94,1891.66) scale(1.3207,1)" font-size="34.93" font-style="normal" fill="#231815">c</text></g>
<rect x="1889.00" y="1860.90" width="41.10" height="2.60" fill="#231815"/><rect x="1889.00" y="1873.50" width="41.10" height="2.60" fill="#231815"/>
<text transform="translate(1949.35,1882.78) scale(1.1619,1)" font-size="57.72" font-style="normal" fill="#231815">0.899</text>
<rect x="1689.00" y="1927.65" width="104.50" height="5.00" fill="#127d3d"/>
<text transform="translate(1818.07,1944.07) scale(1.1279,1)" font-size="55.55" font-style="italic" fill="#231815">p</text>
<rect x="1867.70" y="1922.60" width="41.10" height="2.60" fill="#231815"/><rect x="1867.70" y="1935.20" width="41.10" height="2.60" fill="#231815"/>
<text transform="translate(1928.05,1944.48) scale(1.1579,1)" font-size="57.72" font-style="normal" fill="#231815">0.94</text>
<rect x="1689.00" y="1986.50" width="104.50" height="5.00" fill="#e5161f"/>
<text transform="translate(1818.07,2005.77) scale(1.1279,1)" font-size="55.55" font-style="italic" fill="#231815">p</text>
<rect x="1867.70" y="1984.30" width="41.10" height="2.60" fill="#231815"/><rect x="1867.70" y="1996.90" width="41.10" height="2.60" fill="#231815"/>
<text transform="translate(1928.04,2006.18) scale(1.1638,1)" font-size="57.72" font-style="normal" fill="#231815">0.98</text>
<rect x="2984.20" y="1869.10" width="104.50" height="5.00" fill="#20295a"/>
<text transform="translate(3104.27,1885.87) scale(1.1279,1)" font-size="55.55" font-style="italic" fill="#231815">p</text>
<rect x="3155.30" y="1864.40" width="41.10" height="2.60" fill="#231815"/><rect x="3155.30" y="1877.00" width="41.10" height="2.60" fill="#231815"/>
<text transform="translate(3215.03,1886.28) scale(1.1703,1)" font-size="57.72" font-style="normal" fill="#231815">0.92</text>
<rect x="2984.20" y="1927.95" width="104.50" height="5.00" fill="#d3a226"/>
<text transform="translate(3104.27,1947.57) scale(1.1279,1)" font-size="55.55" font-style="italic" fill="#231815">p</text>
<rect x="3155.30" y="1926.10" width="41.10" height="2.60" fill="#231815"/><rect x="3155.30" y="1938.70" width="41.10" height="2.60" fill="#231815"/>
<text transform="translate(3215.05,1947.98) scale(1.1581,1)" font-size="57.72" font-style="normal" fill="#231815">0.96</text>
<rect x="2986.20" y="1986.80" width="19.50" height="5.00" fill="#741c78"/>
<rect x="3012.50" y="1986.80" width="19.50" height="5.00" fill="#741c78"/>
<rect x="3038.80" y="1986.80" width="19.50" height="5.00" fill="#741c78"/>
<rect x="3065.10" y="1986.80" width="19.50" height="5.00" fill="#741c78"/>
<text transform="translate(3104.27,2009.27) scale(1.1279,1)" font-size="55.55" font-style="italic" fill="#231815">p</text>
<g filter="url(#gs)"><text transform="translate(3136.44,2018.56) scale(1.3207,1)" font-size="34.93" font-style="normal" fill="#231815">c</text></g>
<rect x="3175.20" y="1987.80" width="41.10" height="2.60" fill="#231815"/><rect x="3175.20" y="2000.40" width="41.10" height="2.60" fill="#231815"/>
<text transform="translate(3235.83,2009.68) scale(1.1702,1)" font-size="57.72" font-style="normal" fill="#231815">0.997</text>
<text transform="translate(390.48,102.82) scale(0.8841,1)" font-size="64.74" font-style="normal" fill="#231815">(</text>
<text transform="translate(447.13,102.82) scale(0.8961,1)" font-size="64.74" font-style="normal" fill="#231815">)</text>
<text transform="translate(412.41,101.69) scale(1.4003,1)" font-size="52.61" font-style="normal" fill="#231815">a</text>
<g transform="translate(495.00,77.20) scale(1.0000,1.0000)" fill="none" stroke="#231815" stroke-linecap="round"><path d="M1.3,10.4 C2.4,4.6 6.8,1.5 11.6,1.5 C17.2,1.5 20.2,6 21.4,12.5 C22.2,17.5 21.6,23.5 18.7,35.4" stroke-width="2.1"/><path d="M30.9,1.9 L22.4,18.6" stroke-width="1.8"/><path d="M4.5,5.6 C6.5,3.2 9,2.4 11.6,2.4 C14.5,2.4 16.5,3.5 17.8,5.2" stroke-width="1.6"/></g>
<rect x="545.20" y="80.00" width="41.30" height="2.60" fill="#231815"/><rect x="545.20" y="92.00" width="41.30" height="2.60" fill="#231815"/>
<text transform="translate(605.76,102.20) scale(0.9995,1)" font-size="59.68" font-style="normal" fill="#231815">1</text>
<text transform="translate(1678.68,94.74) scale(0.8856,1)" font-size="64.63" font-style="normal" fill="#231815">(</text>
<text transform="translate(1739.01,94.74) scale(0.9097,1)" font-size="64.63" font-style="normal" fill="#231815">)</text>
<text transform="translate(1703.60,93.46) scale(1.1813,1)" font-size="55.71" font-style="normal" fill="#231815">b</text>
<g transform="translate(1785.80,69.10) scale(1.0031,0.9918)" fill="none" stroke="#231815" stroke-linecap="round"><path d="M1.3,10.4 C2.4,4.6 6.8,1.5 11.6,1.5 C17.2,1.5 20.2,6 21.4,12.5 C22.2,17.5 21.6,23.5 18.7,35.4" stroke-width="2.1"/><path d="M30.9,1.9 L22.4,18.6" stroke-width="1.8"/><path d="M4.5,5.6 C6.5,3.2 9,2.4 11.6,2.4 C14.5,2.4 16.5,3.5 17.8,5.2" stroke-width="1.6"/></g>
<rect x="1836.30" y="72.20" width="41.50" height="2.60" fill="#231815"/><rect x="1836.30" y="84.00" width="41.50" height="2.60" fill="#231815"/>
<text transform="translate(1896.32,93.77) scale(1.1543,1)" font-size="58.60" font-style="normal" fill="#231815">0.9</text>
<text transform="translate(2976.35,110.02) scale(0.8901,1)" font-size="65.18" font-style="normal" fill="#231815">(</text>
<text transform="translate(3029.89,110.02) scale(0.9080,1)" font-size="65.18" font-style="normal" fill="#231815">)</text>
<text transform="translate(2997.38,108.39) scale(1.3131,1)" font-size="52.40" font-style="normal" fill="#231815">c</text>
<g transform="translate(3077.00,84.10) scale(0.9938,0.9973)" fill="none" stroke="#231815" stroke-linecap="round"><path d="M1.3,10.4 C2.4,4.6 6.8,1.5 11.6,1.5 C17.2,1.5 20.2,6 21.4,12.5 C22.2,17.5 21.6,23.5 18.7,35.4" stroke-width="2.1"/><path d="M30.9,1.9 L22.4,18.6" stroke-width="1.8"/><path d="M4.5,5.6 C6.5,3.2 9,2.4 11.6,2.4 C14.5,2.4 16.5,3.5 17.8,5.2" stroke-width="1.6"/></g>
<rect x="3127.10" y="86.90" width="41.60" height="2.60" fill="#231815"/><rect x="3127.10" y="99.30" width="41.60" height="2.60" fill="#231815"/>
<text transform="translate(3188.19,108.97) scale(1.1625,1)" font-size="58.89" font-style="normal" fill="#231815">0.7</text>
<text transform="translate(399.20,1252.79) scale(0.9126,1)" font-size="64.85" font-style="normal" fill="#231815">(</text>
<text transform="translate(460.18,1252.79) scale(0.9186,1)" font-size="64.85" font-style="normal" fill="#231815">)</text>
<text transform="translate(420.32,1251.46) scale(1.2935,1)" font-size="55.29" font-style="normal" fill="#231815">d</text>
<g transform="translate(507.00,1227.00) scale(1.0000,1.0054)" fill="none" stroke="#231815" stroke-linecap="round"><path d="M1.3,10.4 C2.4,4.6 6.8,1.5 11.6,1.5 C17.2,1.5 20.2,6 21.4,12.5 C22.2,17.5 21.6,23.5 18.7,35.4" stroke-width="2.1"/><path d="M30.9,1.9 L22.4,18.6" stroke-width="1.8"/><path d="M4.5,5.6 C6.5,3.2 9,2.4 11.6,2.4 C14.5,2.4 16.5,3.5 17.8,5.2" stroke-width="1.6"/></g>
<rect x="557.50" y="1229.90" width="41.30" height="2.60" fill="#231815"/><rect x="557.50" y="1242.20" width="41.30" height="2.60" fill="#231815"/>
<text transform="translate(617.63,1251.87) scale(1.1582,1)" font-size="58.30" font-style="normal" fill="#231815">0.5</text>
<text transform="translate(1676.43,1256.81) scale(0.9083,1)" font-size="64.30" font-style="normal" fill="#231815">(</text>
<text transform="translate(1729.08,1256.81) scale(0.9265,1)" font-size="64.30" font-style="normal" fill="#231815">)</text>
<text transform="translate(1697.31,1255.20) scale(1.3833,1)" font-size="51.56" font-style="normal" fill="#231815">e</text>
<g transform="translate(1777.20,1231.20) scale(0.9906,1.0000)" fill="none" stroke="#231815" stroke-linecap="round"><path d="M1.3,10.4 C2.4,4.6 6.8,1.5 11.6,1.5 C17.2,1.5 20.2,6 21.4,12.5 C22.2,17.5 21.6,23.5 18.7,35.4" stroke-width="2.1"/><path d="M30.9,1.9 L22.4,18.6" stroke-width="1.8"/><path d="M4.5,5.6 C6.5,3.2 9,2.4 11.6,2.4 C14.5,2.4 16.5,3.5 17.8,5.2" stroke-width="1.6"/></g>
<rect x="1827.70" y="1233.80" width="41.00" height="2.60" fill="#231815"/><rect x="1827.70" y="1246.10" width="41.00" height="2.60" fill="#231815"/>
<text transform="translate(1887.23,1255.87) scale(1.1582,1)" font-size="58.30" font-style="normal" fill="#231815">0.3</text>
<text transform="translate(2971.82,1256.81) scale(0.8781,1)" font-size="64.30" font-style="normal" fill="#231815">(</text>
<text transform="translate(3020.09,1256.81) scale(0.9205,1)" font-size="64.30" font-style="normal" fill="#231815">)</text>
<text transform="translate(2992.72,1255.70) scale(1.2853,1)" font-size="57.66" font-style="normal" fill="#231815">f</text>
<g transform="translate(3067.20,1231.20) scale(0.9906,1.0000)" fill="none" stroke="#231815" stroke-linecap="round"><path d="M1.3,10.4 C2.4,4.6 6.8,1.5 11.6,1.5 C17.2,1.5 20.2,6 21.4,12.5 C22.2,17.5 21.6,23.5 18.7,35.4" stroke-width="2.1"/><path d="M30.9,1.9 L22.4,18.6" stroke-width="1.8"/><path d="M4.5,5.6 C6.5,3.2 9,2.4 11.6,2.4 C14.5,2.4 16.5,3.5 17.8,5.2" stroke-width="1.6"/></g>
<rect x="3117.70" y="1233.80" width="41.00" height="2.60" fill="#231815"/><rect x="3117.70" y="1246.10" width="41.00" height="2.60" fill="#231815"/>
<text transform="translate(3178.18,1255.87) scale(1.1361,1)" font-size="58.30" font-style="normal" fill="#231815">0.1</text>
</svg></body></html>
